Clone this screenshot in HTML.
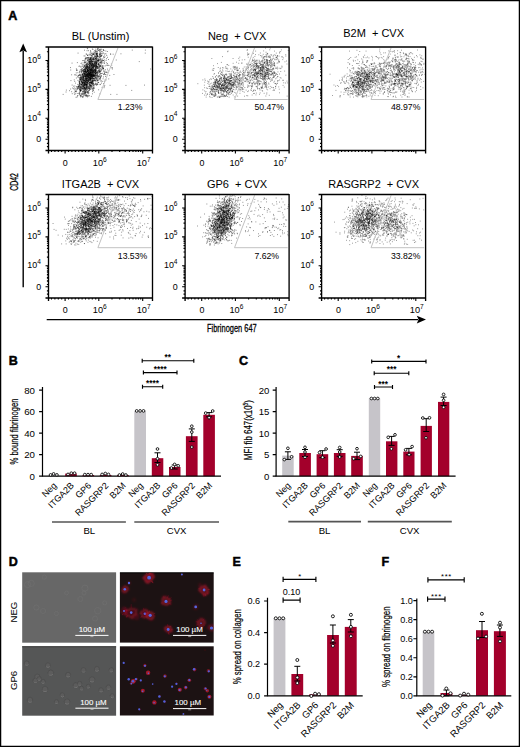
<!DOCTYPE html>
<html><head><meta charset="utf-8"><style>
html,body{margin:0;padding:0;background:#fff;overflow:hidden;width:520px;height:747px;}
svg{display:block;}
text{font-family:"Liberation Sans",sans-serif;fill:#000;}
</style></head><body>
<svg width="520" height="747" viewBox="0 0 520 747">
<rect x="0.6" y="0.6" width="518.8" height="745.8" fill="#fff" stroke="#000" stroke-width="1.3"/>
<text x="8.2" y="20.0" font-size="12.5" font-weight="bold" style="stroke:#000;stroke-width:.5">A</text>
<text x="8.799999999999999" y="365.0" font-size="12.5" font-weight="bold" style="stroke:#000;stroke-width:.5">B</text>
<text x="239.0" y="365.29999999999995" font-size="12.5" font-weight="bold" style="stroke:#000;stroke-width:.5">C</text>
<text x="8.799999999999999" y="566.0" font-size="12.5" font-weight="bold" style="stroke:#000;stroke-width:.5">D</text>
<text x="232.6" y="565.8" font-size="12.5" font-weight="bold" style="stroke:#000;stroke-width:.5">E</text>
<text x="381.59999999999997" y="566.1999999999999" font-size="12.5" font-weight="bold" style="stroke:#000;stroke-width:.5">F</text>
<text x="100.5" y="40.4" font-size="11" text-anchor="middle">BL (Unstim)</text>
<path d="M98.2 76.3h.9M91.8 69.7h.9M94.3 78.7h.9M86.5 84.3h.9M89.9 79.5h.9M78.8 82.7h.9M89.2 72.1h.9M95.5 56.6h.9M86.2 78.6h.9M77.6 77.1h.9M95.5 68.5h.9M89.5 68h.9M88.2 71h.9M84.1 83.9h.9M88.4 73h.9M94.4 65.2h.9M77.9 87.3h.9M83.5 77.1h.9M81.9 96.5h.9M84.1 88.9h.9M79.3 94.7h.9M86 74.9h.9M80.1 87h.9M90.5 69.6h.9M95.2 73h.9M84.2 73.6h.9M90.5 80.9h.9M87.4 72.9h.9M93.3 72.9h.9M76.2 89.2h.9M80 76h.9M79.5 82.8h.9M84 82.2h.9M93.1 59.6h.9M83.6 82h.9M89.8 73.6h.9M84.7 58.8h.9M88.9 80.9h.9M83 72.1h.9M87.2 70.6h.9M88.1 71.6h.9M78.9 86h.9M84.1 69.9h.9M91.6 54.9h.9M82.2 91.8h.9M96 63.5h.9M92.4 72.5h.9M82.3 79.2h.9M89.2 62.3h.9M85.8 88.3h.9M81.3 68.8h.9M97.4 68h.9M86.6 74.5h.9M89.4 63.4h.9M90.6 74.4h.9M96.9 66.6h.9M97.6 56.1h.9M90.8 82.9h.9M91 70.8h.9M92.5 80.6h.9M95.3 73.5h.9M83.6 87.2h.9M92.8 82.4h.9M89.3 75.6h.9M94.1 62.2h.9M91 57.6h.9M82.1 88.6h.9M89.1 83.9h.9M87 63h.9M88.8 79.2h.9M90.2 74.6h.9M86.1 54.2h.9M92.3 64.5h.9M90.7 78h.9M84.6 76.2h.9M88.7 76.2h.9M86.6 50.7h.9M90.3 79.3h.9M85.3 75.6h.9M94.8 70.1h.9M81.2 71.5h.9M91.5 76.5h.9M83.3 86.1h.9M92.8 74.4h.9M83.5 76.9h.9M92.3 57.8h.9M102 68.7h.9M85.9 72h.9M89.6 63.7h.9M86.8 76.7h.9M90.1 58.6h.9M94.5 75h.9M99.5 68.7h.9M80.5 87.5h.9M83.9 66h.9M86.6 95.4h.9M91.5 78h.9M90.2 85.8h.9M86.6 69.6h.9M79.8 80.9h.9M80.6 78.3h.9M94.6 72.1h.9M89 65.9h.9M98.3 78.8h.9M88.9 75.6h.9M90.1 63.4h.9M95.3 68h.9M92.3 88.5h.9M91.2 74.7h.9M84.6 70.6h.9M86.1 86.4h.9M96.5 72.1h.9M83.4 82.6h.9M90.8 60h.9M94.7 72.3h.9M90.5 72.1h.9M82.1 78.4h.9M87.4 73.8h.9M77 96h.9M85.5 87.2h.9M91.7 68.8h.9M96.4 63.9h.9M74.8 91.7h.9M94.7 64.5h.9M89.3 84.7h.9M95 64.3h.9M94.4 73.1h.9M80 90.8h.9M91.3 56.3h.9M100.1 57h.9M84.7 72.1h.9M79.2 72.8h.9M93.1 76.6h.9M81.9 83.7h.9M93.3 59.2h.9M81.1 77.3h.9M83.7 71.5h.9M80.9 80.8h.9M85.1 80h.9M85.1 89.1h.9M85.7 54h.9M91.9 76.1h.9M89 59.4h.9M85.1 71.1h.9M89.1 82.5h.9M87.7 76.8h.9M80.4 77.3h.9M97.3 75.9h.9M84.1 76.2h.9M89.1 77h.9M83.9 90.1h.9M91.7 85.1h.9M95.3 52.2h.9M90.6 82.8h.9M81.5 84.6h.9M95.8 70.7h.9M92.9 54.7h.9M81.2 90.1h.9M96.5 78.6h.9M87.9 81.2h.9M81.8 94.5h.9M102.3 67.7h.9M90.9 73.9h.9M86.4 70.8h.9M89.1 83.3h.9M86.7 65.6h.9M91.7 81.4h.9M93.9 76.7h.9M81.9 85.5h.9M81.2 86.7h.9M96.5 57.1h.9M87.2 79.2h.9M86.8 67.9h.9M91.7 74.3h.9M78.9 75.1h.9M85.3 78.5h.9M90.7 64.7h.9M86.9 76.2h.9M90.1 75.3h.9M84.4 70.7h.9M97.5 59.7h.9M91.9 64.5h.9M88.6 67.3h.9M81.1 77.6h.9M78.1 87.9h.9M95.4 62.1h.9M90 59.7h.9M89.1 74.8h.9M96.5 68.1h.9M97.5 65.2h.9M99.9 65.4h.9M92.5 61.3h.9M82.8 76.8h.9M100.8 56.3h.9M85 88.6h.9M98.2 64.4h.9M91.8 67h.9M98.6 64.3h.9M101.8 51.6h.9M99.4 56.1h.9M86.3 87.7h.9M83.3 94.1h.9M94.3 63.5h.9M85.7 85.7h.9M93.6 74.7h.9M91.3 62h.9M89.1 95.7h.9M94.8 71.4h.9M89.3 72.3h.9M87.3 75.6h.9M98.2 75.8h.9M84.2 82.9h.9M77.1 89.3h.9M85.7 73.9h.9M83.6 84.3h.9M90.9 96.4h.9M92.7 67.2h.9M93.1 75.3h.9M87.2 66.5h.9M86.4 85.6h.9M89.3 82.1h.9M92.4 88h.9M82.4 82.6h.9M92.9 71.6h.9M87.1 83h.9M86.9 67h.9M91 68.8h.9M97.8 48h.9M73.2 86.2h.9M96.2 63.2h.9M91.4 75h.9M87.6 72.5h.9M77.1 88.4h.9M93.6 81h.9M94.1 64.4h.9M93.4 75.6h.9M95.8 74.3h.9M86 75.7h.9M98.3 60.3h.9M88.4 72.9h.9M85.9 81.3h.9M80.3 96.9h.9M87.6 79.6h.9M95.1 56.6h.9M88.6 72h.9M85.5 87.8h.9M81.4 83h.9M92.7 58.5h.9M90 71h.9M87.3 71.5h.9M88.8 73.5h.9M87.1 71.5h.9M101.7 66.5h.9M97.7 68.4h.9M92.4 71.1h.9M84.4 85.6h.9M101.1 70.3h.9M87.7 81.8h.9M94.2 59.6h.9M84.9 88.9h.9M90.1 75.2h.9M95.4 75.4h.9M83.2 89h.9M106.3 55.5h.9M92.6 53.9h.9M90.3 79.7h.9M88.9 62h.9M98.9 71.3h.9M90.4 69.9h.9M93.1 75.2h.9M95.2 74h.9M79.8 84.3h.9M86.8 75.7h.9M82.8 72.9h.9M95.6 58.8h.9M90.6 68.8h.9M88 72.5h.9M93.7 53.3h.9M85.3 79.1h.9M84.6 76.5h.9M83.3 95.9h.9M103.2 56.4h.9M85.9 58.2h.9M93.3 61.7h.9M90.9 64.2h.9M92.1 72.5h.9M86.5 68.8h.9M87.7 75.8h.9M84.2 73.8h.9M92.7 73.5h.9M97 54.8h.9M91.4 66h.9M90.8 74.3h.9M85.8 79.6h.9M80 78.2h.9M99.5 54.5h.9M93.1 67.3h.9M89.2 71.9h.9M92 78.8h.9M89.5 88.4h.9M84.6 72h.9M90.3 61.1h.9M94.2 80.3h.9M94.4 78h.9M85.4 74.5h.9M85.1 69.8h.9M79.4 91.3h.9M86.3 75.1h.9M78.9 80.8h.9M93.8 62.3h.9M80.5 80.3h.9M87.1 64h.9M100.5 56h.9M85.2 75.7h.9M86.4 80.2h.9M93 71.7h.9M92.9 74.3h.9M83.5 84.5h.9M91.8 67.5h.9M95.6 79h.9M91.3 76.5h.9M80 83.9h.9M91 69.1h.9M86.7 89.3h.9M86.4 87.2h.9M103.1 60.4h.9M91 86.2h.9M92.3 59h.9M96.2 54.4h.9M85.3 67.8h.9M93.1 66.7h.9M99.2 49.5h.9M99.9 79.7h.9M87.1 80.4h.9M74.4 86h.9M86.9 71.4h.9M96.9 55.2h.9M88.7 59.3h.9M81.5 83h.9M84 82.8h.9M88.6 79.7h.9M90.2 69.2h.9M84.8 74.1h.9M93.8 71.7h.9M88.6 68.5h.9M86 75.8h.9M83.5 71.3h.9M87.2 69.2h.9M91.8 75.1h.9M85 64.3h.9M97.9 50.2h.9M95.3 67h.9M88.2 71.7h.9M82.7 93.9h.9M86.6 66.5h.9M87.6 91.9h.9M94.5 63h.9M85.4 61.6h.9M84.4 73.1h.9M85.6 95.3h.9M95 80.3h.9M87.6 81.7h.9M97.7 67.3h.9M89.7 70.1h.9M85.9 82.5h.9M85.8 87.9h.9M82.8 71.2h.9M92.6 76.7h.9M89.7 89.1h.9M85.2 69.7h.9M78.4 84.8h.9M96.2 60.1h.9M91.7 59h.9M84.6 56h.9M90.7 80.1h.9M92.6 67h.9M86.9 73.8h.9M96.6 81.1h.9M88.5 77.3h.9M80.3 87.6h.9M83.2 90.7h.9M88.8 61.7h.9M85.4 74.1h.9M92.1 71h.9M91.8 59.9h.9M79.5 93.3h.9M92.9 85.2h.9M93.9 72.3h.9M94.7 69.5h.9M90 78.4h.9M96.3 61.3h.9M96.6 72.8h.9M83.8 87.7h.9M93 87.3h.9M89.3 61.7h.9M90.6 67h.9M74.9 93.8h.9M94.3 56.1h.9M94.5 66.6h.9M101.9 59h.9M84.9 76.6h.9M88.1 76.6h.9M82.7 86.1h.9M83.7 73.2h.9M97.2 53.8h.9M79.2 78.1h.9M90.7 71.2h.9M81.8 93.3h.9M85 76.6h.9M89.8 59.4h.9M77.9 86h.9M102.4 63h.9M85.4 66.7h.9M91.2 88.2h.9M89.7 80.1h.9M85.8 78h.9M84.4 71.7h.9M91.4 81.2h.9M92.9 85.8h.9M84.2 75.2h.9M83.5 85h.9M87.9 90.3h.9M90.7 74.1h.9M102 65.5h.9M80 90.6h.9M91.8 73.8h.9M81.2 78.9h.9M93.8 88.2h.9M90.4 61.5h.9M77.8 75.7h.9M96 54.6h.9M85.3 82.2h.9M99.3 71.4h.9M87 75.2h.9M85.9 82.1h.9M94.7 66.8h.9M95.4 77.4h.9M92 65.6h.9M93.6 75.3h.9M86.6 87h.9M87.8 73.8h.9M90.1 72.5h.9M94.1 61.4h.9M81.4 82.5h.9M94.4 75.4h.9M75.7 91.7h.9M97.5 67h.9M88.5 87.7h.9M80.7 94.8h.9M86 72.5h.9M93.7 59.2h.9M84.4 92.3h.9M87.6 87.4h.9M87.2 82.5h.9M88.4 88.3h.9M88.9 67.5h.9M86.7 83.2h.9M79.5 79.2h.9M95.4 67.2h.9M86.6 82.4h.9M89.8 67.1h.9M89.9 86.7h.9M86.8 88.8h.9M69.1 90.7h.9M98.3 50.5h.9M81.9 74.5h.9M95.1 71.8h.9M99.8 77.4h.9M88.1 70.2h.9M90 72.5h.9M97.3 49.4h.9M86.1 86.2h.9M85 92.9h.9M90.2 87.4h.9M79.1 87.6h.9M99.6 66.5h.9M89.4 61.5h.9M86.2 85.1h.9M87.9 91.7h.9M90.8 78.5h.9M92 54.6h.9M90 65.9h.9M84.3 86h.9M99.2 62.2h.9M79.1 84h.9M90.1 77.2h.9M85 92.3h.9M87.3 85.8h.9M97.9 56.9h.9M99.7 65.5h.9M89.7 78.7h.9M89 84.9h.9M83 96.9h.9M95.2 80.7h.9M81.4 70.3h.9M94.5 76.1h.9M88 73.7h.9M83.1 86.2h.9M85.1 72.2h.9M81.5 70.5h.9M93.9 56.7h.9M95.3 49.2h.9M90.9 75.5h.9M79.7 79.9h.9M95.2 76.1h.9M87.8 80.8h.9M85 81.6h.9M86.2 72.6h.9M81.3 84.4h.9M87.6 63.8h.9M86.7 73.4h.9M90.7 70h.9M87.9 74.9h.9M80.2 79.5h.9M84 84.1h.9M84.6 74.4h.9M87.6 79.9h.9M98.4 73.2h.9M92.1 74.1h.9M81.8 89h.9M83 69.6h.9M77.3 87h.9M79.5 77.8h.9M91.2 77.7h.9M76.6 97h.9M90.2 72h.9M87.6 70.2h.9M89.1 75.1h.9M93.4 80.4h.9M84.9 76.4h.9M83.5 84.3h.9M84.9 75h.9M90.6 81.1h.9M85.6 70.2h.9M79.1 85.8h.9M84.8 67.9h.9M84.3 69h.9M90.8 75.5h.9M98.2 82.5h.9M87.9 64.7h.9M85.7 94.7h.9M92.7 67.8h.9M86 68.3h.9M89.7 69.1h.9M90.3 68h.9M83.6 79.8h.9M96.4 79.3h.9M84.5 62.2h.9M93.1 68.4h.9M91.9 71h.9M80 90.4h.9M92.6 66.7h.9M98.6 60.2h.9M94.8 61h.9M92.3 70.8h.9M85.2 93h.9M85.4 58.3h.9M95 77.2h.9M95.4 70h.9M86.8 92.7h.9M77.5 86.5h.9M86 80.5h.9M92 56.2h.9M85.3 76.6h.9M94.8 71.3h.9M94.3 50.5h.9M96.4 53.4h.9M81 71.2h.9M87.7 75.7h.9M84 88.4h.9M83.3 80.3h.9M88.5 66.7h.9M99.3 71.2h.9M84.9 69.7h.9M89.7 59.2h.9M82.5 81.1h.9M94.3 75.6h.9M101.7 67.5h.9M93.6 66.4h.9M91.5 58.8h.9M89.6 67.5h.9M92.5 78.5h.9M87.4 67.1h.9M90.9 87.5h.9M87.8 95.2h.9M92.5 66.1h.9M92 74.7h.9M94.1 70.5h.9M88.1 96.1h.9M83.4 75.7h.9M91.7 82.2h.9M83.9 82.9h.9M88.4 77.2h.9M92.8 61.8h.9M87.1 66.8h.9M80 77.7h.9M85.5 71.7h.9M99.1 66.2h.9M91.7 75.6h.9M97 68.3h.9M90.5 63.9h.9M97.1 52.2h.9M96 59.7h.9M86.4 67.5h.9M86.7 67.7h.9M93.6 63.6h.9M85.6 79h.9M84.8 71.8h.9M95.3 62.6h.9M97.5 48.8h.9M93 76.6h.9M89.3 73.6h.9M89.2 70.1h.9M96.3 56.9h.9M88.6 73.1h.9M93.5 54.1h.9M83.3 84.1h.9M91.8 76.5h.9M91.3 76.4h.9M98.6 65.5h.9M87.3 57.6h.9M80.8 90.7h.9M83.5 83.4h.9M91.8 69.2h.9M84.5 80.3h.9M80.3 90.6h.9M97.6 61.7h.9M92.5 67.3h.9M86.9 65.1h.9M92.9 80.9h.9M98.5 62.1h.9M86 75h.9M98.1 61h.9M82.2 82.9h.9M90.2 85.2h.9M89.5 70.2h.9M82.9 80.2h.9M91.1 64.2h.9M87.5 68.6h.9M86 84.5h.9M90.6 72.4h.9M88 77.3h.9M91.4 61h.9M71.2 74.8h.9M87.8 78.5h.9M87.2 55.2h.9M103.6 50.6h.9M90.9 72.7h.9M88.9 69.7h.9M95.9 54.1h.9M88.4 74.3h.9M82.6 84h.9M87.6 70.6h.9M87.7 66h.9M90.6 85h.9M81.8 93h.9M86.8 92h.9M91.5 64.5h.9M86.3 82.3h.9M88.1 74.4h.9M92.4 71.2h.9M95.9 66.8h.9M88.9 77.5h.9M89 65.9h.9M82.1 82.5h.9M94.8 80.1h.9M83.6 85h.9M93.5 58.8h.9M95.5 75.7h.9M90.6 83.7h.9M90.1 78.1h.9M86.8 75h.9M102.6 68.3h.9M83.7 93h.9M87 86.5h.9M87 77.3h.9M88.3 59.2h.9M90.7 75h.9M94.5 65h.9M83.5 73.9h.9M81.7 75.1h.9M93.8 57.8h.9M85.7 64.7h.9M96.4 66.3h.9M92 81h.9M110.3 54.2h.9M101.2 53.7h.9M89.6 65.2h.9M89 63.3h.9M65.6 92h.9M90 64.3h.9M87.9 75.1h.9M95.6 69.3h.9M95.2 65.7h.9M90.4 78.1h.9M82.5 93.9h.9M94 69.6h.9M92.1 84.3h.9M83.5 75.3h.9M84.8 79.6h.9M82.1 74.9h.9M100.6 60.3h.9M93.8 71.1h.9M89.6 57.6h.9M99.5 49.3h.9M88.6 72.3h.9M81.4 95h.9M84.5 83.5h.9M86.1 88.5h.9M85.5 78.5h.9M93.5 73.4h.9M89.9 68.4h.9M82 91.2h.9M89 68.7h.9M92.4 75.6h.9M86.9 76.4h.9M90.4 74.4h.9M85.3 78.9h.9M80.4 78h.9M85.5 94.9h.9M84.9 71.7h.9M101 51.7h.9M100.5 49.6h.9M88.7 54.3h.9M88.8 62.9h.9M84.2 80.4h.9M92.8 54.2h.9M84.3 71.8h.9M92.3 75h.9M87.1 76.1h.9M91.5 72.5h.9M85.7 77.6h.9M90.4 74.5h.9M81.3 85h.9M87.6 77.5h.9M89.4 73.9h.9M86.5 75.2h.9M87.4 64.8h.9M93.5 64.7h.9M85.8 87.1h.9M87.4 75.1h.9M90.5 60.6h.9M93 70.6h.9M100.5 75.5h.9M95.5 53.7h.9M87.8 81.8h.9M91.5 72.6h.9M76.3 75.2h.9M97 55.1h.9M77.4 95.5h.9M92.2 83.4h.9M86 79h.9M89.3 63.7h.9M91.4 65.3h.9M96.7 56.3h.9M79.8 91.2h.9M92.8 63.8h.9M82.4 74.4h.9M85.5 80.7h.9M95.3 67.7h.9M93.5 87.3h.9M88.9 77.9h.9M87.5 93.1h.9M90.8 82.5h.9M98.2 71.2h.9M95.5 71h.9M96.4 53.6h.9M89.7 75.8h.9M83.1 91.9h.9M87.2 82.7h.9M86.1 84.5h.9M80.5 86.5h.9M82.7 64.3h.9M83.7 79.7h.9M71.8 93.7h.9M93 64.7h.9M89 74.4h.9M84.1 66h.9M92.9 72.8h.9M96.1 66.7h.9M90.1 72.7h.9M102.3 60.7h.9M99.3 70.9h.9M86.3 66.3h.9M95.8 69.7h.9M84.6 91.4h.9M90.5 75.7h.9M92.2 77.7h.9M87.4 69.3h.9M80.7 88.5h.9M93.6 51.8h.9M86.8 70.5h.9M83.4 87.5h.9M75.4 91.4h.9M83.8 74.7h.9M91.5 75h.9M85.9 81.6h.9M91.5 72.5h.9M78.6 77.7h.9M88.8 65h.9M83.8 80.9h.9M89.5 73.5h.9M91.6 60.2h.9M84.6 85.1h.9M87.4 78.7h.9M85.6 83.2h.9M96.1 64.6h.9M82.2 86.2h.9M92 80.7h.9M91.3 74.1h.9M85.6 85.1h.9M85.2 84.7h.9M89.5 79.6h.9M86.7 92.1h.9M89.2 78.6h.9M93.9 72.6h.9M89.1 75.4h.9M86.5 96.5h.9M87.2 78.6h.9M84.5 60h.9M97.7 68.4h.9M89.6 74.1h.9M80.4 81.9h.9M91.6 65h.9M83.1 78.6h.9M92.9 90.6h.9M87.9 83.5h.9M89.7 52.9h.9M92.8 71.2h.9M93.2 58.3h.9M95.3 81.9h.9M89.4 59.9h.9M77.3 76.7h.9M89 75h.9M91.3 63h.9M78.2 75.6h.9M90.9 74.7h.9M98 71.7h.9M87.1 55.2h.9M92.1 80.8h.9M79 93.2h.9M98.1 80.2h.9M91.4 73.5h.9M89.2 71.4h.9M100.3 58.8h.9M93.2 70h.9M90.8 62.2h.9M87.4 87.5h.9M91.4 61.6h.9M101.6 66.9h.9M89.2 69.4h.9M87.7 70.1h.9M99.2 51.9h.9M78.6 81.7h.9M83.3 72.2h.9M89.5 66.6h.9M90.8 63.1h.9M87.8 78.4h.9M95.6 71.1h.9M86.2 75.6h.9M92.1 72.3h.9M91.4 75.6h.9M79.6 85.1h.9M90.4 73.6h.9M89.6 60.8h.9M89.5 86.5h.9M90.3 76.7h.9M92.7 65h.9M78.9 83.8h.9M90.8 71h.9M81.3 84.6h.9M97.8 60.4h.9M92.4 77.2h.9M96 65.2h.9M87.6 70.6h.9M94.9 73.6h.9M95.5 53.7h.9M82.1 88.5h.9M94.9 60.4h.9M86.1 72.4h.9M94.2 55.2h.9M89.7 70.5h.9M92.8 83.6h.9M97.1 72.1h.9M91.8 63.7h.9M96.4 75.2h.9M91.6 67h.9M88.7 79.9h.9M94.9 62.5h.9M102.9 68.4h.9M91.2 71.6h.9M84.8 70.2h.9M99.8 62.5h.9M85.6 77.9h.9M84.9 81.1h.9M76.1 70.5h.9M99.2 60.2h.9M86.5 91.2h.9M98.4 59.8h.9M90.6 82.3h.9M91.5 89.1h.9M95.2 57.6h.9M93 75.7h.9M80.3 87.6h.9M86.3 76.8h.9M98.3 63.4h.9M96.7 59.2h.9M81.9 76h.9M92.9 68.7h.9M92.1 64h.9M83.1 79.5h.9M93 69.4h.9M87.7 72.7h.9M80.4 77h.9M82.5 77.2h.9M97.2 75h.9M83.3 70.2h.9M87.8 80.2h.9M90.1 79.2h.9M97.4 60.5h.9M85.3 68.4h.9M92.3 61.7h.9M95.7 58.6h.9M95.6 67.1h.9M80.8 81.1h.9M97.5 64.8h.9M92.7 78.6h.9M99.7 51.1h.9M94.9 51.4h.9M82.1 97.4h.9M85.4 84.9h.9M96.1 66.3h.9M87.9 61.4h.9M93.4 64.2h.9M88.5 73.6h.9M87 65.7h.9M93.4 65.4h.9M89.3 74h.9M92.6 59.9h.9M86.5 63h.9M84.5 85.5h.9M95.8 62.1h.9M89.6 76.2h.9M89.9 85.5h.9M86.2 66.5h.9M78.9 81.6h.9M86.3 84.5h.9M84.1 92.8h.9M98.3 76.7h.9M94.4 68h.9M90.6 59.2h.9M92.2 76h.9M90.8 58.9h.9M83.3 70.4h.9M100 78.3h.9M93.5 66.6h.9M97.4 61.3h.9M90.3 78.1h.9M96 78.9h.9M89.9 75.4h.9M95 74h.9M81 82.3h.9M88.4 58.3h.9M93.6 80.2h.9M97.9 69.8h.9M87.8 83.8h.9M92.1 69h.9M92 68.5h.9M84.6 77h.9M105.4 51h.9M94 69.6h.9M99.9 52.3h.9M95.5 62h.9M90.8 82.7h.9M89.8 78.5h.9M94.7 68.9h.9M84.9 70.4h.9M91.9 73.2h.9M97.4 80h.9M78.9 94.1h.9M87.9 75.5h.9M95.3 70h.9M88.7 82.8h.9M79.4 79.1h.9M90.6 76.5h.9M85.8 67.8h.9M79.4 89h.9M83.7 95.1h.9M83.3 85.5h.9M98.2 89.8h.9M100.2 54.9h.9M87.6 87h.9M88.8 63.6h.9M80.4 88.6h.9M86.4 67.7h.9M85.8 76h.9M84.6 72h.9M89.4 65h.9M96.8 51.3h.9M86.2 69h.9M84.1 69.2h.9M79.2 82.6h.9M94.1 66.7h.9M88.6 76.1h.9M97.7 64.6h.9M93.7 75.2h.9M96.2 51.3h.9M82.1 74.3h.9M103.2 66h.9M92.9 79.2h.9M84.9 82.3h.9M83.4 74.4h.9M84.7 90.4h.9M82.2 68.5h.9M98 60.3h.9M84.7 86.6h.9M83.4 82.8h.9M91.6 79.4h.9M89.8 59.1h.9M86.9 83.4h.9M84.2 80.6h.9M90.1 60.9h.9M95.5 63.3h.9M83.6 75.9h.9M92.3 89.6h.9M79.8 90.9h.9M94.6 84.7h.9M95.5 64.9h.9M81.5 78.7h.9M86.1 65h.9M98.9 50.6h.9M97.8 59.9h.9M78.8 84.9h.9M98.5 64.4h.9M91.5 57.7h.9M86.6 82.3h.9M86.7 85.2h.9M91.5 75.3h.9M74.5 89.5h.9M103.2 57.8h.9M82.6 85.7h.9M83.9 74.6h.9M81.3 73h.9M84.6 68.8h.9M93.1 70.6h.9M87.1 75h.9M90 57.4h.9M96.1 75.5h.9M84.8 81.1h.9M87.7 70.4h.9M96.2 72.5h.9M87.2 84.8h.9M86.7 80.9h.9M90.6 62.4h.9M84.6 66.3h.9M81.4 79.4h.9M84.2 91.3h.9M93.2 70.2h.9M94.1 63.8h.9M86.3 68.7h.9M79.5 72.1h.9M84.8 78.7h.9M84.5 74h.9M84.2 78.6h.9M91.8 63.5h.9M82.4 75.8h.9M82.8 76.6h.9M83.5 87.4h.9M89.8 73.8h.9M82.6 82.8h.9M90.8 76h.9M93.4 60h.9M86.9 66.9h.9M92 66.9h.9M99.1 71.7h.9M86.9 71.2h.9M93.8 76.4h.9M93.9 79h.9M99.3 66.2h.9M81 84.8h.9M104.2 60h.9M90.1 72.8h.9M84.9 81.7h.9M86.3 78.6h.9M88.9 82.2h.9M90.5 71.1h.9M85.4 81.4h.9M100.2 61.2h.9M82.8 81.3h.9M89.4 83.2h.9M93.9 75.2h.9M89.9 58.4h.9M97.1 66.9h.9M85.3 90h.9M93.4 85.1h.9M92.5 49.4h.9M91.9 69.5h.9M88.4 72.5h.9M87.7 57.6h.9M100.3 59.1h.9M88.2 70.6h.9M88.1 67.5h.9M96 66.9h.9M90.8 82h.9M88.7 87.4h.9M86.4 71.1h.9M84.8 84.4h.9M93.5 75.4h.9M87.2 70.8h.9M89 84.7h.9M95.5 77h.9M83.9 73.1h.9M80.6 63.5h.9M88.3 58h.9M83 77.3h.9M85.1 82.7h.9M84.4 93.9h.9M84.6 84h.9M89.1 65.4h.9M90.4 72.7h.9M80.7 83.8h.9M87.6 77.4h.9M87 71.6h.9M103.1 71.2h.9M90.2 81.5h.9M84.8 74.7h.9M76.8 93.5h.9M82.3 86.3h.9M90.1 50.7h.9M84.8 75.9h.9M94.2 71.8h.9M86 76.9h.9M82.4 81.5h.9M83.6 71.6h.9M84.5 71.2h.9M88.8 73.9h.9M79.8 95.4h.9M93.6 76.6h.9M82.9 82.4h.9M91.4 81.4h.9M91.6 70.7h.9M92.5 65.2h.9M85.2 58.9h.9M81.8 76.9h.9M96.9 63h.9M100.8 61h.9M95.7 59.5h.9M99.2 57.4h.9M87.1 74.1h.9M87.1 74.5h.9M90.6 61.9h.9M87.2 91.2h.9M91.9 71h.9M86 79.1h.9M86.4 76.9h.9M83.7 95h.9M86.7 84.3h.9M85.9 71.9h.9M100.8 65h.9M95.2 61.4h.9M89.2 74h.9M94.8 77.7h.9M89.9 84.7h.9M91 68h.9M90.6 76.9h.9M87.8 63.9h.9M95 50.7h.9M79.9 69.7h.9M87.7 93.1h.9M77.5 80.4h.9M85.6 91.8h.9M80.4 86.2h.9M91.5 55.6h.9M89.7 69.9h.9M83.5 91.9h.9M95.1 66.1h.9M102.8 60.6h.9M89.3 77.9h.9M90.1 82.6h.9M85.4 76.1h.9M93.8 70.7h.9M93.1 65.5h.9M93.1 57.9h.9M94.7 58.1h.9M94.8 58.5h.9M96.6 56.8h.9M94.3 65.6h.9M80.2 90.8h.9M85.8 73.4h.9M94.1 70.4h.9M80.6 74.9h.9M91.1 60.9h.9M94.3 79.9h.9M73.8 79.9h.9M93.3 54.4h.9M95.5 66h.9M83.6 67.7h.9M104.7 65.9h.9M83.6 55.9h.9M97.1 71.2h.9M90.2 82.7h.9M86.4 78.2h.9M86.4 85.5h.9M86.7 69.1h.9M98.5 59.8h.9M82.5 77.1h.9M83.1 86.3h.9M103.1 50h.9M82.7 76.7h.9M82.2 87.4h.9M91.3 70.4h.9M85.8 65.7h.9M91.1 83.4h.9M94.6 64h.9M80.9 76.5h.9M85 84.1h.9M87.1 69.6h.9M90.3 62.6h.9M86.9 80.8h.9M88.1 67.8h.9M93.1 75.7h.9M90.3 83.2h.9M95.8 56.1h.9M92.9 75h.9M86.6 73.7h.9M90.7 63.4h.9M88.8 60.3h.9M97.8 58.6h.9M95 70.5h.9M95.6 83.7h.9M92.4 81.6h.9M92.9 67.2h.9M91.3 65.6h.9M97.6 56.7h.9M91.3 67.9h.9M100.6 62.5h.9M100.5 56.1h.9M86.8 69.7h.9M79.7 89.9h.9M89.8 89.5h.9M84.1 90.9h.9M95.9 53.3h.9M90.5 85.2h.9M93.6 57.4h.9M91.1 65.4h.9M95.6 51.4h.9M85.9 57.7h.9M92.7 75.6h.9M83.5 73.5h.9M87.5 71h.9M87.2 69.7h.9M90.1 80.6h.9M89.1 73.3h.9M97.1 53.5h.9M74.5 90.9h.9M90.3 69.7h.9M79.1 81.6h.9M91.7 71.2h.9M95 63.4h.9M89.2 73.7h.9M101.7 66.9h.9M84.3 93.1h.9M97.2 60.5h.9M87.3 80.5h.9M91.6 65.1h.9M94.4 72.3h.9M80.5 80.1h.9M95 72h.9M98.9 55h.9M94.9 71.1h.9M92.7 70.6h.9M77.7 88.1h.9M91.2 53.7h.9M105.6 54h.9M90.7 73.1h.9M82.5 73.4h.9M83.4 93.2h.9M92.1 61.7h.9M83.2 60.6h.9M88.7 55.1h.9M93.2 66.9h.9M84.7 84.9h.9M94.7 56.4h.9M84.9 88.4h.9M91 76.5h.9M82 66.2h.9M92.3 61.8h.9M88 66.6h.9M86.1 66.3h.9M83.7 81.4h.9M83 88.5h.9M88.7 71.8h.9M80.1 79.3h.9M81.4 88.1h.9M92.1 91.6h.9M82.8 77.2h.9M73.8 92.8h.9M84.4 89.8h.9M84.4 93.8h.9M92.3 71.5h.9M86.7 66.2h.9M103 50.2h.9M79.2 89.9h.9M81.6 79.4h.9M91.2 60.9h.9M88 75.5h.9M91 78.1h.9M100.1 53.3h.9M87.8 77.1h.9M88 88.5h.9M83.7 89.1h.9M94.8 70.4h.9M85 67h.9M76.5 87.1h.9M88.2 86.2h.9M86.2 64.3h.9M90.9 65.5h.9M86.1 80.6h.9M90.3 64.7h.9M90.3 65.3h.9M87 96.9h.9M77.4 72.7h.9M95.1 69.4h.9M96.5 83.7h.9M88.1 76.4h.9M96.1 65h.9M104.5 56.8h.9M83.5 86.4h.9M96.3 62.3h.9M95.9 58.3h.9M96.9 62.1h.9M88.4 70.5h.9M84.3 87.2h.9M89.6 64.3h.9M83.4 80.6h.9M87.9 62.5h.9M104.6 53.5h.9M84.7 83.8h.9M90.5 53h.9M101.5 55.5h.9M93.6 52.9h.9M91.5 74.1h.9M83.8 87.6h.9M89.7 75.6h.9M79.2 92.7h.9M90.1 72h.9M93.4 88.3h.9M79.3 71.4h.9M89.3 74.4h.9M100.3 50.3h.9M91.1 55.6h.9M83.5 71.3h.9M104.2 61.8h.9M84.3 81.9h.9M96.7 80.4h.9M96 62.8h.9M84 88.2h.9M90.2 77.2h.9M86 90.1h.9M95 73.5h.9M98.9 53.9h.9M86.6 82.4h.9M91.3 70.5h.9M91 86.1h.9M87.6 88.3h.9M79.5 86.4h.9M93.6 54.3h.9M89.1 66.1h.9M84.6 81.1h.9M88.8 62.9h.9M86.8 76.6h.9M95 64h.9M95 71.1h.9M90.8 69.6h.9M101 69h.9M86.5 79.9h.9M101 83.1h.9M85.7 95.5h.9M89.5 79.2h.9M80.8 89.5h.9M77 70.2h.9M84.4 84.4h.9M90.7 72.1h.9M99.7 70.6h.9M77.1 88h.9M93.7 85.9h.9M84 84h.9M96 65.1h.9M86.8 48.2h.9M94.1 62.9h.9M86.4 76.7h.9M99.2 56.3h.9M82.8 91.5h.9M91.7 53h.9M90.4 82.5h.9M101.1 55.5h.9M89.3 87.3h.9M90.2 70.9h.9M82.8 73.4h.9M84.2 69.5h.9M88.3 93.2h.9M89.3 82.4h.9M92.1 67.5h.9M88.7 69.6h.9M95.2 58.5h.9M90 72.1h.9M83.2 80.6h.9M99.8 73.3h.9M81.5 96.6h.9M81.1 87.2h.9M90.2 54.8h.9M82.1 83.3h.9M95 67.7h.9M92.4 75h.9M83.7 85.3h.9M88.1 77.3h.9M85.8 78.7h.9M82.6 77.1h.9M98.5 66h.9M94.1 65.7h.9M97.2 84h.9M82.1 82.8h.9M90.2 69.4h.9M92.7 75.6h.9M93.3 60.1h.9M89.4 61.2h.9M89.8 73.6h.9M90.1 75.6h.9M85.1 83.2h.9M89.5 85.6h.9M89 86.8h.9M89 78.3h.9M87.6 78.2h.9M91.9 63.6h.9M90 78.7h.9M92.4 76.9h.9M84.1 87.9h.9M99.1 53.8h.9M90.5 66.3h.9M91.9 49h.9M89 61.7h.9M99.7 56.2h.9M90.2 76.7h.9M99.5 66.9h.9M87.4 89.2h.9M100.5 60.9h.9M101.6 54h.9M88.9 66.9h.9M92.3 63.4h.9M96 57.7h.9M82.2 79.5h.9M93.4 68.7h.9M89.7 85.4h.9M84.3 80.6h.9M94.8 83.8h.9M87.6 74.3h.9M89.3 70.9h.9M90.7 67h.9M79.8 89.5h.9M100.7 49.1h.9M95.1 58.7h.9M99.9 66.7h.9M90.3 78.4h.9M91.3 75h.9M91.2 65.8h.9M85.5 65.6h.9M81.1 93.7h.9M89.5 62.4h.9M80.6 95.9h.9M101.2 63.3h.9M94.4 69.6h.9M92.5 75.7h.9M97 56.3h.9M84.7 88.1h.9M93 72h.9M100.4 56.3h.9M85.6 74.3h.9M89.6 79h.9M101.1 75.8h.9M87 78.4h.9M95.8 53.3h.9M82.2 83.2h.9M87.6 59.8h.9M88.5 90.5h.9M93 64.8h.9M90.3 74.8h.9M100 77.1h.9M80.7 84.9h.9M91.8 80.2h.9M99.5 54.8h.9M85.8 87.6h.9M86.4 87h.9M96.3 55h.9M96.7 74.1h.9M99.5 54.8h.9M92.5 69.5h.9M90.5 86h.9M93 75.3h.9M97.3 58.4h.9M95.4 61.8h.9M96.9 75.8h.9M91.9 73.2h.9M88.6 74.3h.9M83.1 78.8h.9M97.3 48.3h.9M85.1 71.2h.9M84.5 87.3h.9M88.3 79.4h.9M84.4 60.6h.9M92.7 65h.9M91.6 75.8h.9M87 81.6h.9M85.6 71.2h.9M86.8 95.9h.9M80.4 88.1h.9M88.2 61.1h.9M82.7 77.2h.9M91.2 68.3h.9M99.5 59.4h.9M97.5 66.8h.9M90.5 73.1h.9M89.9 63.6h.9M84 76h.9M92.3 63.6h.9M84 65.1h.9M85.9 83.9h.9M92.6 73.1h.9M88.1 74.8h.9M84.7 73.6h.9M82 74.2h.9M84.7 77.4h.9M86.5 95.4h.9M92.1 79.1h.9M87.4 72.8h.9M95 73.7h.9M82.7 86.6h.9M98.9 67.5h.9M85.7 88.9h.9M86.5 75.1h.9M99.1 58h.9M82.9 80.4h.9M83.1 77.9h.9M88.5 57.3h.9M88.7 78.2h.9M87.9 76.6h.9M90.2 70.1h.9M92.8 59.3h.9M83.8 82.6h.9M81.6 84.4h.9M89.5 88.5h.9M91.4 85.9h.9M86.9 84h.9M83.6 66.4h.9M82.7 83.1h.9M92.7 72.5h.9M91.5 68h.9M92.5 84.6h.9M84.4 69.2h.9M100.2 53.7h.9M88.4 68h.9M92 83.1h.9M88.9 73.7h.9M89.5 86h.9M88.1 68.6h.9M87.7 60h.9M80.9 81.4h.9M86 74.6h.9M90.5 57.5h.9M92.2 81.1h.9M96 72.8h.9M85.8 86.1h.9M81.3 81.5h.9M86.6 79.2h.9M93.7 80.3h.9M88.4 79.9h.9M88.9 80.6h.9M87 74.4h.9M84.1 61.8h.9M87.1 69.5h.9M80.2 90.1h.9M87.8 69.2h.9M90.2 74.5h.9M75 83.1h.9M90.5 82.4h.9M96 53.1h.9M85.5 89.6h.9M78.2 86.2h.9M89.6 79.5h.9M79.1 83h.9M91.4 83.4h.9M97.7 70.4h.9M102.8 53h.9M91.5 76.8h.9M70 67.6h.9M92.5 78.3h.9M84.7 76.9h.9M86.3 80h.9M91 60.2h.9M75.9 78h.9M83.3 75.4h.9M91.8 76.7h.9M97.3 77.1h.9M82.5 75.8h.9M87 58.7h.9M96.9 78.8h.9M82.7 70.3h.9M100.8 80.9h.9M82.4 89.2h.9M77.3 84.4h.9M88.3 92.2h.9M99.6 76.6h.9M74.3 81.4h.9M92 93.8h.9M86.9 71h.9M100 71.4h.9M91 75.8h.9M93 78.8h.9M106.9 65.3h.9M99.1 78.3h.9M88.8 85.2h.9M78.3 88.7h.9M85 75.6h.9M86.6 61.1h.9M80 89.3h.9M70.3 70h.9M90.7 70h.9M99.5 93.9h.9M92.2 77.6h.9M87.9 64.6h.9M91.6 75.3h.9M73 88.8h.9M85.8 67.8h.9M75.9 68.8h.9M99.3 72.4h.9M97.5 60.6h.9M85.3 57.9h.9M89.3 69.1h.9M95.4 73h.9M84.8 91.6h.9M89.3 77.8h.9M83.1 69.8h.9M81.2 79h.9M88.6 73.9h.9M89.1 88.9h.9M90.3 51.4h.9M92.9 83.3h.9M83.6 67.1h.9M93.3 81h.9M95.9 57.9h.9M95.6 71.1h.9M99.3 78.3h.9M90.8 79.9h.9M93.2 75.2h.9M76.1 86.7h.9M86.6 63.8h.9M87.9 86.6h.9M100.4 71.4h.9M97.3 76.7h.9M108.5 65.5h.9M89.4 76h.9M94.3 61.2h.9M89.1 90.4h.9M90.9 66.5h.9M85.9 78h.9M81.7 69.7h.9M94.4 76.5h.9M85.5 59.2h.9M80 66.9h.9M87.3 55.5h.9M71.7 85.1h.9M75.6 97.3h.9M104 55h.9M75.3 91h.9M88.6 73.6h.9M81.5 81.3h.9M62.7 94.4h.9M87.7 80.5h.9M93.9 66.8h.9M79.3 74.8h.9M96.3 63.3h.9M80.4 78.1h.9M81 72.4h.9M85.5 80.4h.9M84.9 68.5h.9M112.7 54.2h.9M79.3 66h.9M93.4 74.1h.9M90.6 86.1h.9M70.5 80.6h.9M84 50.2h.9M85.2 92h.9M79.4 86.6h.9M89.5 77.3h.9M92.7 83.8h.9M71.6 63.1h.9M92.7 65.5h.9M75.4 88.4h.9M86.1 84.8h.9M91.3 69.5h.9M87.2 48.7h.9M93.8 92.2h.9M98.3 63.5h.9M88 50.7h.9M83 78.7h.9M92.6 53.6h.9M79.1 75h.9M96.4 60.4h.9M88.8 76.2h.9M87.9 81.2h.9M81.8 80.1h.9M103.9 57.6h.9M96.4 55.4h.9M78.3 86.5h.9M96.7 50h.9M91.8 82.6h.9M78.2 93.3h.9M85.9 74.3h.9M82.6 74.9h.9M91.3 78h.9M82 80.6h.9M81.9 77.8h.9M80.2 79.5h.9M92.9 71.7h.9M79.6 85h.9M75 74.9h.9M90.8 78.6h.9M89.9 55h.9M91.8 70.7h.9M89.4 77.5h.9M98.2 70.5h.9M96.5 71.9h.9M89.6 58.3h.9M89.1 67.5h.9M105.7 60.4h.9M90.2 76.7h.9M94.4 84.3h.9M90.2 61.8h.9M76.9 62.6h.9M97 80.2h.9M80.2 95.9h.9M89.7 70.3h.9M95.9 65.8h.9M95.3 65.1h.9M70.2 89h.9M100.2 63.2h.9M81.2 81.2h.9M86.5 68.4h.9M101 73.5h.9M89.2 88.5h.9M82.1 82.4h.9M83.6 88.2h.9M89.3 68.7h.9M79.7 71h.9M87.2 60.2h.9M81.2 66.9h.9M85.5 84.4h.9M94.7 72.2h.9M92.1 83h.9M86 64.6h.9M90.7 71.2h.9M85.8 90.2h.9M84.2 73.7h.9M86.8 73.9h.9M99.7 84.6h.9M93.7 63h.9M102.5 53.2h.9M82.7 79.1h.9M85.9 80h.9M86.6 76.7h.9M92.9 84.1h.9M96.9 74h.9M95.2 68.4h.9M83.9 85.4h.9M81.6 78.7h.9M81.3 88.1h.9M95.6 65.9h.9M74.2 94.3h.9M91.9 81.7h.9M76.1 69.8h.9M83.4 65.9h.9M75.8 72.9h.9M72.2 88h.9M94.7 78.3h.9M88.4 68.8h.9M83.4 89.9h.9M96.9 73.1h.9M102.4 60.7h.9M90 58.8h.9M84.8 89.6h.9M96.1 61.1h.9M81.5 62.9h.9M86.1 63.2h.9M82.1 87h.9M85.2 92.9h.9M85.5 73h.9M87.2 73.3h.9M89.2 89.4h.9M97.5 76.6h.9M96 67.9h.9M97 75h.9M79.3 88.5h.9M88.2 79.4h.9M86.4 71.9h.9M82.8 77.4h.9M96 85.1h.9M82.5 84.2h.9M85 62.6h.9M90.4 77h.9M100.2 77.9h.9M82.8 88.8h.9M92.2 86.8h.9M85.5 71.6h.9M78.9 87.8h.9M76.2 90.9h.9M84.8 79.2h.9M106 62.8h.9M81 69.4h.9M106 58.7h.9M80.2 74.3h.9M84.3 78.8h.9M85.5 96.6h.9M88.5 84.7h.9M97.1 55.6h.9M78.5 66.3h.9M93.8 65.6h.9M84.6 62.6h.9M104.2 81.6h.9M85 77.3h.9M89.4 73.8h.9M83.6 62.7h.9M86.8 67.4h.9M81.7 64.9h.9M94.7 75.3h.9M81.6 85.1h.9M89.8 80.1h.9M78 86.5h.9M89.6 59.7h.9M80 75.6h.9M88.3 80.8h.9M73.9 88h.9M84.5 74.1h.9M100.4 59.2h.9M81.3 75.2h.9M96.5 68.6h.9M83.6 71.9h.9M95.2 84h.9M84.8 72.8h.9M83.2 82h.9M79.4 79.8h.9M90.9 70.2h.9M97.2 72.2h.9M82.2 60.6h.9M94.3 75.3h.9M71.2 91.7h.9M84.7 65.4h.9M74.2 74.8h.9M99.7 84.3h.9M79.9 95.9h.9M86 83.6h.9M79.2 83.5h.9M94.3 78.2h.9M65.9 90.1h.9M87.9 74.4h.9M102.6 78.8h.9M79 89.7h.9M84.3 83.8h.9M87.3 88.7h.9M87.1 60.3h.9M91.9 82.2h.9M87.6 82h.9M89.8 62.3h.9M86.2 84.6h.9M88.6 73.2h.9M92.5 90.5h.9M102.7 49.7h.9M90.8 61.6h.9M77.6 53.1h.9M85 95.4h.9M86.5 92.3h.9M87.3 57.6h.9M85.5 84.3h.9M97.6 82.3h.9M100.7 62.7h.9M104.3 85.4h.9M105.6 79.9h.9M104.2 72h.9M101.7 60.1h.9M102.2 73.3h.9M103 74.6h.9M89.6 71.5h.9M108 59.5h.9M107.6 65.2h.9M99.4 72.5h.9M101.7 87.4h.9M102.3 81.4h.9M96.1 63.6h.9M96 77.1h.9M97.5 61.1h.9M103.6 70.2h.9M94.6 65.7h.9M107 69.1h.9M103.1 68.5h.9M100.5 81.1h.9M96.2 73h.9M103.8 86.6h.9M95.3 74.1h.9M111.6 67.5h.9M100.4 73.7h.9M98.9 79.7h.9M103.6 87.7h.9M103 68h.9M111.6 68h.9M95.8 54.9h.9M104 73.6h.9M101.7 62h.9M93 78.6h.9M99.3 69.7h.9M97.6 77.5h.9M109.3 75.4h.9M90.6 58.7h.9M103.6 62.8h.9M89.7 76.2h.9M111.3 65.2h.9M93.8 73.2h.9M96.7 80.6h.9M95.3 70.9h.9M96 84.7h.9M104.7 74.5h.9M97.4 67.4h.9M97.9 72.7h.9M92.3 61.8h.9M98.9 74.5h.9M103.7 74h.9M88.7 80.3h.9M105.5 74.6h.9M82.1 70.4h.9M85.3 68h.9M89.7 66.9h.9M96.4 67.8h.9M91.2 83.9h.9M91 82.9h.9M96.7 73.1h.9M105 69.8h.9M97.3 66.5h.9M94.9 59.6h.9M96.8 56.5h.9M113.5 74.5h.9M84.2 62.9h.9M92.8 78.4h.9M103.1 83.5h.9M99.3 76.3h.9M94.7 66h.9M99.5 69.3h.9M103.8 74h.9M105.1 76.4h.9M95.9 62.9h.9M104 72h.9M101.4 69.6h.9M106.6 72.5h.9M104.5 80.1h.9M91.8 77.8h.9M91.9 62.1h.9M102.8 69.1h.9M108.3 78.9h.9M100.8 76.6h.9M110.1 54h.9M109.6 85.3h.9M91.2 69.1h.9M105.2 72.1h.9M89.8 78h.9M99.3 70.3h.9M107.1 57.3h.9M111.9 69h.9M95.7 62.8h.9M97.9 64.5h.9M89.3 64.6h.9M105.8 65.2h.9M95 70.6h.9M99.2 75.8h.9M92.5 66.4h.9M100.4 62.7h.9M106.3 72.1h.9M100.5 65.1h.9M93.2 89h.9M107.1 63.6h.9M106.9 51.5h.9M95.1 55.1h.9M103 76.9h.9M95.7 78.2h.9M105.7 72.3h.9M81.9 71.6h.9M91.7 59.6h.9M83.1 67.6h.9M97.5 60.4h.9M110.9 64h.9M92.8 88.8h.9M99.6 68.6h.9M96.2 76.9h.9M96.8 84.7h.9M93.9 74.8h.9M99.9 74.1h.9M104 63.4h.9M78.4 75.2h.9M100.9 61.5h.9M115.8 60h.9M98.8 65h.9M100.1 66.2h.9M94.8 69h.9M90.3 78.5h.9M107.7 70.8h.9M98.6 67.1h.9M95.6 61.7h.9M98.3 63.3h.9M88.5 60.8h.9M94.5 52.4h.9M97.3 84.3h.9M97.7 82.4h.9M85.2 67.2h.9M138.8 61.6h.9M150.2 69h.9M110 66.5h.9M120.5 53.8h.9M144.8 53.1h.9M144 85.1h.9M144.9 50.1h.9M116.5 94.4h.9M131.3 90.4h.9M110.3 94.4h.9M125.5 85.4h.9M131.8 50.1h.9" stroke="#000" stroke-width=".9" stroke-opacity="0.55" fill="none"/>
<path d="M118 47.8L97.9 99.5H151.1" stroke="#c2c2c2" stroke-width="1" fill="none"/>
<text x="117.8" y="110.2" font-size="8.7">1.23%</text>
<path d="M45.5 60.5H48.5M45.5 89.4H48.5M45.5 118.2H48.5M45.5 139.2H48.5M46.9 80.7H48.5M46.9 75.6H48.5M46.9 72H48.5M46.9 69.2H48.5M46.9 66.9H48.5M46.9 65H48.5M46.9 63.3H48.5M46.9 61.8H48.5M46.9 109.6H48.5M46.9 104.5H48.5M46.9 100.9H48.5M46.9 98.1H48.5M46.9 95.8H48.5M46.9 93.9H48.5M46.9 92.2H48.5M46.9 90.7H48.5M46.9 133.3H48.5M46.9 129.7H48.5M46.9 126.9H48.5M46.9 124.6H48.5M46.9 122.7H48.5M46.9 121H48.5M46.9 119.5H48.5M46.9 51.8H48.5M46.9 121H48.5M46.9 124.2H48.5M46.9 127.4H48.5M46.9 130.6H48.5M46.9 133.8H48.5M46.9 137H48.5M46.9 143.4H48.5M46.9 146.6H48.5M65.1 150.5V153.5M98.8 150.5V153.5M142.7 150.5V153.5M112 150.5V152.1M119.7 150.5V152.1M125.2 150.5V152.1M129.5 150.5V152.1M133 150.5V152.1M135.9 150.5V152.1M138.4 150.5V152.1M140.7 150.5V152.1M51.5 150.5V152.1M54.9 150.5V152.1M58.3 150.5V152.1M61.7 150.5V152.1M68.5 150.5V152.1M71.9 150.5V152.1M75.3 150.5V152.1M78.7 150.5V152.1M82.1 150.5V152.1M85.5 150.5V152.1M88.9 150.5V152.1M92.3 150.5V152.1M95.7 150.5V152.1" stroke="#000" stroke-width="1.1" fill="none"/>
<path d="M45.5 47H152.5M45.5 150.5H152.5M48.5 46.4V153.5M152.5 46.4V153.5" stroke="#000" stroke-width="1.35" fill="none"/>
<text x="40.9" y="63" font-size="8.9" text-anchor="end">10<tspan font-size="6.6" dy="-4.3">6</tspan></text>
<text x="40.9" y="91.9" font-size="8.9" text-anchor="end">10<tspan font-size="6.6" dy="-4.3">5</tspan></text>
<text x="40.9" y="120.7" font-size="8.9" text-anchor="end">10<tspan font-size="6.6" dy="-4.3">4</tspan></text>
<text x="41.2" y="142.2" font-size="8.9" text-anchor="end">0</text>
<text x="65.3" y="165.8" font-size="8.9" text-anchor="middle">0</text>
<text x="99.8" y="165.8" font-size="9.2" text-anchor="middle">10<tspan font-size="6.6" dy="-4.3">6</tspan></text>
<text x="143.7" y="165.8" font-size="9.2" text-anchor="middle">10<tspan font-size="6.6" dy="-4.3">7</tspan></text>
<text x="237.1" y="40.4" font-size="11" text-anchor="middle">Neg  + CVX</text>
<path d="M230.2 76.2h.9M220.7 93.8h.9M218 92.5h.9M213.9 89.6h.9M224.2 82.2h.9M227.1 85.1h.9M223.4 90h.9M224.6 88.9h.9M230.4 78.1h.9M229.7 83.6h.9M214.2 95.4h.9M224.2 89.1h.9M213.5 68.6h.9M224.6 77.4h.9M218 82h.9M216.5 86.6h.9M219.1 88h.9M211.6 97.5h.9M223.6 88.4h.9M217.1 87h.9M225.4 83.3h.9M216.8 83.8h.9M215.6 90.9h.9M228.1 84h.9M212.3 76.5h.9M226.2 85.2h.9M212.4 87.9h.9M222.2 84.2h.9M219.7 89.6h.9M217.3 85.9h.9M228.8 87.3h.9M224.4 86.7h.9M220.8 86.5h.9M228.9 83.2h.9M224 85.7h.9M224.7 81.1h.9M226.1 79.5h.9M221.4 85.6h.9M216.8 81.5h.9M220.4 77.3h.9M222.6 93.7h.9M223.9 82.3h.9M229.9 80.4h.9M227.7 80.9h.9M219 86.9h.9M212.4 90.8h.9M221.6 85.8h.9M218.4 81.5h.9M232.7 85.3h.9M216.9 83.2h.9M223.3 91.5h.9M221.4 72.1h.9M215.1 81.7h.9M223.6 91h.9M233.9 77.2h.9M230.7 75.4h.9M227.5 84.5h.9M220.6 78.6h.9M214.9 89.7h.9M219.2 71.3h.9M220.8 82.6h.9M221.4 80.9h.9M219.6 90.2h.9M224.3 89.8h.9M217.8 81.5h.9M228.9 92.2h.9M230.5 76.1h.9M218.2 73h.9M202.4 79.9h.9M219.2 97.3h.9M209.9 91.5h.9M214 85.2h.9M223.6 78.9h.9M221.4 77.8h.9M221.4 94.8h.9M223.5 83.6h.9M210.7 90.2h.9M204.4 79h.9M218 93.2h.9M231.1 77.3h.9M211.2 89.7h.9M235.6 88.1h.9M230.7 78.2h.9M223.9 92h.9M221.4 85.4h.9M215 83.9h.9M223.1 88h.9M224.8 79.3h.9M225.5 91.6h.9M231.9 86h.9M230.6 80.5h.9M226.1 86.9h.9M225.8 86.8h.9M220.4 84h.9M227 88.4h.9M212.9 88.8h.9M226.5 86.7h.9M220.4 79.4h.9M215.7 89.4h.9M238.8 78.3h.9M212.2 85.2h.9M214.1 86.8h.9M222.2 81.3h.9M209.7 97.2h.9M213.8 84.9h.9M211.8 94h.9M219.2 97.3h.9M221.8 87.7h.9M219.2 75.5h.9M230.2 81.2h.9M230.8 87.2h.9M229.6 78.7h.9M229.4 88.5h.9M220.1 90.5h.9M231.2 82.7h.9M217.4 86h.9M215.7 85.2h.9M232.2 77.5h.9M227.7 82.3h.9M224.9 87.1h.9M228.5 84.3h.9M227.3 80h.9M211.9 91.4h.9M222.2 87.7h.9M208.2 81.9h.9M220.3 80.8h.9M214.4 84h.9M231.1 78.5h.9M224.7 81.7h.9M215 87.4h.9M219 80.8h.9M214.8 93.9h.9M222.9 86.6h.9M220.8 74.4h.9M223.7 84.3h.9M204.2 87.7h.9M224.4 95.6h.9M224.1 80.8h.9M222.8 82h.9M230.5 80.8h.9M211.7 89.7h.9M225.4 82.8h.9M221.6 96.1h.9M223.8 85.7h.9M227.2 87.9h.9M230.2 88.3h.9M214.6 82.7h.9M228.2 93.3h.9M215.2 93.9h.9M214.2 96.3h.9M223.2 78.5h.9M223.8 89.8h.9M211.1 94.4h.9M213.9 86.2h.9M228.7 97.1h.9M234.9 81.7h.9M228.7 79.7h.9M228.2 83h.9M224.4 91.6h.9M227 86.3h.9M228.3 90h.9M229.2 91.2h.9M216.3 79.9h.9M233.2 75.4h.9M229.8 74.2h.9M221.3 86.3h.9M218.8 97h.9M238.8 80h.9M214.5 82.3h.9M229.7 78.7h.9M238.9 82.6h.9M213.2 86.6h.9M223.6 83.6h.9M220.1 88.4h.9M220.1 73.7h.9M226.4 88h.9M237.1 78.9h.9M227.8 85.8h.9M218.7 80.3h.9M227.7 76.6h.9M217.9 83.4h.9M219.8 88.2h.9M238.4 76.2h.9M216.1 89.5h.9M223.5 96.7h.9M226 91.9h.9M211.8 86.1h.9M204.2 90.9h.9M234.6 89.8h.9M215 87h.9M221.9 94.8h.9M223.8 95.2h.9M212.9 86.7h.9M213 88.5h.9M223.2 85.1h.9M236.8 70.7h.9M224.2 77.1h.9M226 80.1h.9M213.2 96.2h.9M220.2 83.1h.9M212.4 89.3h.9M226 79.7h.9M216 79.2h.9M226.5 92.9h.9M214 73.6h.9M215.5 84.4h.9M212.2 94.7h.9M221.8 75.6h.9M213.4 94.4h.9M216.8 96.9h.9M217 82.2h.9M217.2 89.4h.9M220.3 78.5h.9M230.7 83.7h.9M223.8 84.8h.9M223.8 85.6h.9M226 92.4h.9M229.5 84.2h.9M226.3 87.1h.9M211.3 83.1h.9M213.4 91.9h.9M223.2 87.9h.9M214.5 79.5h.9M230 89.8h.9M230 81h.9M205.7 97.1h.9M218.5 81h.9M236.4 77.4h.9M229 83.2h.9M231.4 77.5h.9M222.7 85.3h.9M204.8 80.4h.9M217.5 97.2h.9M223.6 76.5h.9M222.2 69.9h.9M213.5 83.5h.9M217.2 82.2h.9M225.3 87.1h.9M206.1 88h.9M220 88.3h.9M230.8 73.5h.9M244.4 87.5h.9M222.6 88.6h.9M241.1 87.7h.9M214.8 82.3h.9M217.7 92.2h.9M202.4 89.9h.9M230.5 84.3h.9M221 90.5h.9M234.2 67.1h.9M220.8 78h.9M219.6 78.5h.9M203.9 85.2h.9M230.6 75.2h.9M216.2 81.9h.9M216.2 78.5h.9M205.8 95.2h.9M230.2 84.2h.9M225.1 74.3h.9M215.6 85h.9M222.4 85h.9M223.9 82.4h.9M226.7 77.6h.9M224.9 89.1h.9M236.9 82.4h.9M222 89.9h.9M216.6 86.8h.9M214.6 86.6h.9M228.8 80.4h.9M227.2 90.3h.9M213.3 84.6h.9M225.5 85.9h.9M207 94.1h.9M217.5 82.8h.9M224.9 81.9h.9M222.2 74.2h.9M214.4 85.8h.9M222.5 71h.9M242.3 89.2h.9M223.1 94.9h.9M230.9 88.5h.9M211.2 93.5h.9M230.1 89.3h.9M225.1 90.4h.9M226 89.2h.9M214.7 83h.9M220.9 88.7h.9M226.1 79h.9M230.8 71.8h.9M216.7 80.2h.9M210.9 94.5h.9M234.3 85.3h.9M222.1 75.6h.9M232 91.4h.9M227.5 92.1h.9M237.7 73.4h.9M220.9 82.5h.9M225.3 82.7h.9M216.3 85.7h.9M213.4 82.4h.9M222.5 87.1h.9M218.1 73h.9M216.6 89.1h.9M238 83.9h.9M214.8 91.3h.9M220.7 91.2h.9M225 86.8h.9M214.7 94.3h.9M226.4 83.5h.9M223.9 78.2h.9M218.9 85.3h.9M235.6 76.7h.9M226.1 91.4h.9M228.7 92.5h.9M215.9 91.5h.9M207.1 88.4h.9M214.9 84.1h.9M218.8 85.6h.9M222.5 94.4h.9M228.4 83.7h.9M204 95.1h.9M211.1 86.1h.9M232.5 81h.9M217.4 87.4h.9M218.2 87.9h.9M227.9 80.6h.9M223.8 95.7h.9M227.1 90.7h.9M206.9 94.1h.9M233 84.8h.9M224.3 82.9h.9M223.3 78.6h.9M230 78.6h.9M217.6 81.3h.9M222 88.6h.9M227.1 82.2h.9M226.6 86.3h.9M222.4 90.5h.9M212.7 68.8h.9M219 89h.9M221.6 72.8h.9M229.1 82.1h.9M219.1 80.6h.9M235.9 77.8h.9M214.9 77.3h.9M234.9 78.9h.9M218.4 86.6h.9M204.3 82.2h.9M234 82.6h.9M225.9 83.1h.9M211.4 87.6h.9M225.3 78.2h.9M210.7 88.9h.9M215.2 76.5h.9M215.4 82.4h.9M212.5 88h.9M217.9 84.8h.9M214.1 89.1h.9M219.1 79.5h.9M223.2 88.1h.9M225.8 79.5h.9M214.3 80.1h.9M209.5 86.6h.9M210.9 88.8h.9M222.5 90.7h.9M234.5 81.2h.9M227 79.8h.9M217.1 88h.9M229.3 82.3h.9M227.4 77.7h.9M220.3 89.3h.9M229.6 85.7h.9M223.5 77.6h.9M220.3 87.4h.9M224.7 84.7h.9M212.5 87.3h.9M222.9 88.5h.9M232.8 85.9h.9M255.4 73.6h.9M226.4 81.2h.9M223 85.8h.9M226.3 74.9h.9M210.2 93.4h.9M218.5 93.2h.9M224.9 84.5h.9M214.8 93.7h.9M233.6 79.5h.9M232.1 84.5h.9M221.4 94.3h.9M217 86.4h.9M212.6 91.8h.9M211.3 90.9h.9M223.8 81.2h.9M226.3 82.4h.9M221 77.8h.9M226 87.9h.9M222.7 96.4h.9M229.5 92.5h.9M218.9 80.2h.9M237.2 86.8h.9M229.4 75.8h.9M218.2 86.9h.9M224.8 96.2h.9M228.7 73.8h.9M237.5 81.9h.9M211.6 93h.9M218.2 86.2h.9M220.9 79.6h.9M232 82.2h.9M214.2 86.4h.9M229.6 87.9h.9M223.2 92.8h.9M235.2 67.9h.9M223.4 80.7h.9M219.8 84.1h.9M215.7 80.5h.9M226.2 74.9h.9M227.1 82.8h.9M213.1 88.7h.9M218.4 75.7h.9M210.3 88.1h.9M217.7 91.1h.9M208.6 84.4h.9M209.2 86.1h.9M221.5 96.4h.9M218.5 96.2h.9M220.8 74.5h.9M223.6 74.8h.9M221.1 88.2h.9M209.9 83.8h.9M227 80.4h.9M205.5 91.5h.9M209.2 96.3h.9M219.6 68.9h.9M220 70.9h.9M225.3 74.7h.9M223.2 91.4h.9M212 89.8h.9M212.9 78.5h.9M227.4 85.3h.9M218.2 92.1h.9M215.8 86.9h.9M210.5 89.4h.9M214.5 92.4h.9M231.6 87.9h.9M225.6 84h.9M214.8 92.9h.9M213.6 89.6h.9M216.5 85.6h.9M223.1 78.1h.9M213.9 91.5h.9M219.6 84.3h.9M205.2 93.1h.9M215.3 95.4h.9M226.3 85.9h.9M231 85.9h.9M208.5 81.9h.9M217.7 91.4h.9M225.9 78.7h.9M216.5 82.7h.9M215.2 83.1h.9M229.2 89.3h.9M225.7 88.7h.9M227.8 76.7h.9M224.2 75.9h.9M217.6 87.7h.9M219.5 83.3h.9M226.3 94.1h.9M207.4 83.4h.9M209.1 79.8h.9M228.2 79.7h.9M210.1 92h.9M229.5 81.6h.9M226.2 87.9h.9M227 96.5h.9M224.7 81.1h.9M223.7 80.3h.9M225.4 70.9h.9M219.6 88.2h.9M222.7 90.6h.9M219.2 84.9h.9M239.2 83.3h.9M228.9 81.3h.9M219.5 97h.9M220.3 88.3h.9M213.4 82.7h.9M220 81.8h.9M218.8 76.3h.9M233.5 66.4h.9M209.1 94.3h.9M232 85.3h.9M230.9 93.5h.9M216.5 87.9h.9M220 84.6h.9M214.8 81.5h.9M225.1 90.1h.9M230.4 82.9h.9M208.8 88.5h.9M233.6 83.1h.9M220.7 89.7h.9M227.3 69h.9M227.1 87.3h.9M231.3 80.6h.9M224.8 80.7h.9M228.6 78.4h.9M227.5 94h.9M220.3 96.7h.9M232.3 91.8h.9M223.6 76.2h.9M235.4 72.8h.9M216.8 79.7h.9M227.5 76.9h.9M207.2 81.1h.9M225.7 95.7h.9M240.7 81.6h.9M233.7 81.5h.9M216 90h.9M231.1 76.9h.9M229.4 78h.9M229.4 85h.9M222.5 79.8h.9M227.3 90.5h.9M214 86.3h.9M215.4 82.8h.9M231.2 88.8h.9M222.5 83.8h.9M237.2 80.1h.9M218.2 84.4h.9M197.4 83.7h.9M221.1 89.4h.9M219.9 76.9h.9M227.9 89.1h.9M217.7 76.8h.9M210.2 78.9h.9M233.8 80.4h.9M218.3 90.2h.9M227.5 82.6h.9M216.1 80h.9M215.7 94.8h.9M227.9 71.5h.9M202 93.4h.9M213.3 84.6h.9M224 81.3h.9M221.8 91.1h.9M225.5 78.6h.9M222.9 88.5h.9M220.7 90.6h.9M232.7 67h.9M216.8 80h.9M219.6 83.8h.9M212.2 86.6h.9M217.3 89.9h.9M220.9 72.3h.9M228.2 86.4h.9M224.2 89h.9M216.3 87.2h.9M222.8 75h.9M209.4 92.4h.9M217.8 83.7h.9M221.8 89.1h.9M215.5 88.2h.9M225.3 88.2h.9M215.7 85.7h.9M220.4 96h.9M228.3 65.4h.9M224.4 76.6h.9M232.3 82.5h.9M217.8 77h.9M231.3 84.8h.9M224.1 75.4h.9M231.2 80.4h.9M236.7 70.2h.9M219 83.7h.9M224.4 84.9h.9M221.3 84.7h.9M222.2 85h.9M223.8 77.3h.9M220.6 92.3h.9M232.9 84.5h.9M235.2 85.9h.9M224.4 96.1h.9M229.7 74.1h.9M238.1 83.1h.9M228.9 89h.9M214.8 89.2h.9M233.6 80.1h.9M211.9 70.1h.9M217.6 83.6h.9M228.3 93.8h.9M212.8 78h.9M228.4 77.7h.9M228.7 83.2h.9M232.8 82.8h.9M231.3 91h.9M211 79.2h.9M221.1 85.9h.9M231.1 85.7h.9M215.2 79.9h.9M243.5 72.4h.9M226 95.8h.9M261.5 55.7h.9M247.8 57.2h.9M251.7 95h.9M252.8 67.5h.9M259.9 65.4h.9M254.9 70.6h.9M268.2 74.9h.9M265.2 75h.9M256.5 79h.9M257.3 65.6h.9M252.4 69.4h.9M265.9 76.5h.9M266.4 74.2h.9M273 68h.9M277.5 76.4h.9M260.4 83.7h.9M265.5 74.2h.9M265.7 67.5h.9M262.8 76.6h.9M267.3 60.7h.9M262 62.1h.9M272.8 87.8h.9M253.4 62.7h.9M275.2 55.4h.9M274.5 59.8h.9M264.9 73.1h.9M262 60.7h.9M259.8 77.3h.9M254.3 83.2h.9M259.7 63.4h.9M265 69.7h.9M263.9 66.1h.9M260.4 70.3h.9M270.2 71.6h.9M254.7 72.8h.9M269.3 69.4h.9M264 62.5h.9M266.7 74h.9M268.4 65.1h.9M257.4 88.5h.9M253.9 75.5h.9M265.8 56.5h.9M266.7 53.4h.9M266.4 70.4h.9M268.5 75.5h.9M265.3 87h.9M262.5 67h.9M268.3 65.4h.9M246.4 79.4h.9M252 59.2h.9M260.6 64.6h.9M261.7 65.7h.9M248.5 76.5h.9M254.8 60.9h.9M260.5 87.1h.9M265.7 56h.9M253.6 64.9h.9M273.9 90.4h.9M271.5 60.7h.9M267.3 60.6h.9M265.4 80.1h.9M269.3 49.8h.9M269.8 86.4h.9M255.3 63.8h.9M260.9 56.9h.9M252.4 91.5h.9M263.6 60.4h.9M273 77.4h.9M253.3 66.4h.9M254.1 78.9h.9M267.1 69.8h.9M262.4 83.7h.9M266 84h.9M264.1 77.1h.9M272.7 90.5h.9M268.2 56.3h.9M258.8 84.2h.9M266 81.6h.9M260.3 73.6h.9M262 70.8h.9M264.5 63.3h.9M263.5 62.4h.9M255 70.6h.9M258.4 73.3h.9M253.8 66.1h.9M270.2 65.9h.9M256.6 60.1h.9M275 83.7h.9M265.4 96h.9M281.2 56.8h.9M266.9 62.7h.9M261.2 67.5h.9M273.5 73.1h.9M262.6 77.1h.9M262.8 82.7h.9M257.5 72.3h.9M269.8 77.5h.9M255.6 74.6h.9M257.7 85.1h.9M250.9 68.5h.9M262.2 64.4h.9M264.8 78h.9M260.9 70.1h.9M251.1 88.5h.9M268 76.4h.9M262.7 72.6h.9M266.2 87h.9M239.7 78.6h.9M269.5 70.2h.9M263.3 80.8h.9M255.9 62.1h.9M253.2 71h.9M272.5 69.4h.9M255.1 71.1h.9M252.5 82.9h.9M267.3 74.7h.9M260 73.6h.9M270 67.7h.9M255.9 72.8h.9M263.9 76.3h.9M274.9 68h.9M271.4 62.7h.9M252.8 57.4h.9M272.9 64.9h.9M266.3 68h.9M261.4 61.8h.9M277.1 68.9h.9M254.1 62.1h.9M276.4 77.8h.9M260.2 68.3h.9M285.4 56.1h.9M263.5 71.5h.9M253.9 69.2h.9M262.7 75.4h.9M265.8 73.3h.9M268.5 71.6h.9M265.4 85.5h.9M248.5 86.2h.9M268.4 70.9h.9M261.1 88.6h.9M263.2 68.6h.9M258.2 67.3h.9M262.8 58.3h.9M276.5 59.7h.9M270.7 71.4h.9M255.7 73.8h.9M249.4 77.5h.9M268.2 83.1h.9M253.7 66h.9M255.1 90.6h.9M258.8 68.3h.9M252.1 65.8h.9M267.6 66.6h.9M260.9 74.1h.9M273.7 75.9h.9M275.3 86.3h.9M260.3 75.2h.9M262.2 91.1h.9M271.2 74.4h.9M267.6 56.3h.9M258.8 67.3h.9M276.1 74.2h.9M256.7 79.2h.9M270.3 59.1h.9M258.2 77.6h.9M266.6 64.3h.9M260.3 68.7h.9M264.2 82.9h.9M276.8 67.1h.9M261.3 70.4h.9M255.5 65.4h.9M266.2 68h.9M253.8 66.8h.9M257.7 72.9h.9M274 72h.9M277.1 83.5h.9M266.5 72.5h.9M253.6 74h.9M261.9 87.7h.9M245.8 69.9h.9M256.8 73.7h.9M273.8 77h.9M274.2 64h.9M246.7 81.9h.9M253.4 64.8h.9M259 94.3h.9M258.5 80.9h.9M257.4 74.2h.9M255.9 93.1h.9M251.2 86.2h.9M251.8 63.7h.9M269.4 73.9h.9M258.9 70.5h.9M253.3 75.4h.9M265.1 48.1h.9M264.6 74.1h.9M254.4 76.6h.9M275.7 59.2h.9M264.9 65.4h.9M269.1 78.9h.9M266.8 59.9h.9M260.2 68.1h.9M253.8 59.2h.9M257.6 65.9h.9M263.6 83.4h.9M256.2 66h.9M252.2 77.1h.9M262.4 79.7h.9M271.4 65h.9M257.5 72.7h.9M264.5 71.7h.9M256.2 60.4h.9M262.4 69.6h.9M262.5 88.4h.9M277.5 71.9h.9M267 62.9h.9M266.1 63.2h.9M274.3 59.1h.9M272.7 72.5h.9M270.6 66.7h.9M266.3 55.1h.9M264.7 75.6h.9M278.3 59.9h.9M267.2 54h.9M258.6 60.2h.9M275.7 57.3h.9M270.2 65.6h.9M266 83h.9M269.7 62.1h.9M261 66.7h.9M262.8 66.6h.9M257.7 66.8h.9M263.9 56.5h.9M262.6 65h.9M257.3 76.3h.9M273.4 71.4h.9M259.1 61.1h.9M260 78.1h.9M257.8 73.6h.9M271.8 80.4h.9M262.6 78.1h.9M262.9 67.4h.9M273.9 65.7h.9M273.1 55.3h.9M266.2 59.6h.9M278.7 68.2h.9M273.8 64.2h.9M281.4 66.1h.9M269.6 79.2h.9M272.1 68.4h.9M266.2 69.4h.9M256 69.2h.9M266.3 78.3h.9M261.9 76.5h.9M267 76.6h.9M257.9 82.7h.9M261.7 64.8h.9M257.1 68.5h.9M268.9 73.4h.9M273.9 73.4h.9M265.3 64.4h.9M264 78.7h.9M272.4 77.6h.9M250.8 83.1h.9M251.1 90.3h.9M247.3 85.1h.9M278.8 62.4h.9M257 88.9h.9M263 66.1h.9M259.9 53h.9M260.5 75.3h.9M278 61h.9M270.6 54.5h.9M265.5 62h.9M279.2 53.1h.9M258.6 62h.9M260.8 78.5h.9M270.2 69.3h.9M256.6 73h.9M252.3 80.4h.9M259.5 84h.9M274.1 51.1h.9M259.8 75.8h.9M265.1 72.7h.9M262.2 78.4h.9M258.4 67.3h.9M258.4 71.6h.9M264.9 77h.9M265.6 86.4h.9M266.2 89h.9M254.8 75.4h.9M272.5 73h.9M278.6 56.1h.9M268.7 62.4h.9M275.7 57.4h.9M271.7 70.4h.9M275.3 78.8h.9M250.8 79.8h.9M267.9 73.8h.9M253 90.2h.9M261.2 73.7h.9M279.1 61.4h.9M270.9 71.7h.9M262.6 58.2h.9M260.3 74.1h.9M259 84.7h.9M252.5 71h.9M267.8 78.2h.9M269.2 60.8h.9M274.3 54.8h.9M262.7 79.4h.9M274.2 81.2h.9M263.6 73.1h.9M260 73.5h.9M269.6 88.7h.9M261.2 69.1h.9M262.3 66.6h.9M256.7 63.4h.9M265.4 86.1h.9M265.3 73.6h.9M258.9 88.7h.9M269.4 64.2h.9M258.3 80.2h.9M257.6 71.3h.9M256.8 72.9h.9M264.1 78.3h.9M259.9 81.4h.9M266.4 92.9h.9M267.2 53.7h.9M262.1 67.7h.9M258.6 65.7h.9M282.9 57.9h.9M255.5 68.2h.9M271.7 69.4h.9M273.6 76.5h.9M268.7 60.7h.9M271.2 69.7h.9M251.6 61.4h.9M260.3 72.5h.9M254.5 63.4h.9M270.7 61.9h.9M254.4 90h.9M258.4 70.1h.9M268.3 78.6h.9M265 75.5h.9M251.4 87.2h.9M264.2 63.4h.9M250.5 74h.9M261.8 73h.9M275.6 83.4h.9M251.6 83.9h.9M264.7 77h.9M251.8 86h.9M264.9 82.7h.9M265.5 75.9h.9M262.5 70.8h.9M252.7 64.9h.9M260.1 71h.9M282 56.9h.9M264.5 66.9h.9M262.5 84.6h.9M258.1 75.4h.9M248.8 70.9h.9M266 74.7h.9M263.4 78.1h.9M256.3 77.2h.9M269.4 55.8h.9M266.2 72.2h.9M258.6 72.5h.9M265.2 75.1h.9M261.7 72.8h.9M255.2 51.1h.9M265.4 66.9h.9M265.5 59.6h.9M244 96.2h.9M268.3 70.1h.9M265.9 60.6h.9M276.9 56.1h.9M271.4 75.2h.9M257 87.3h.9M256.7 61h.9M256.5 74.4h.9M261.7 90.6h.9M259.5 76.2h.9M263.8 59.5h.9M269.2 60.7h.9M270.8 67h.9M260.9 81.8h.9M280.2 51.6h.9M253.2 79.1h.9M262 71.3h.9M255.7 83.5h.9M270.2 59.9h.9M252.5 60.4h.9M266.8 62.9h.9M255.8 66.1h.9M272.9 77h.9M275.1 75.5h.9M266.3 94.1h.9M274.1 65.6h.9M265.3 61.8h.9M268.6 78.4h.9M262.8 71h.9M269.6 71.1h.9M265.6 54.6h.9M262.3 65.7h.9M267.4 72.8h.9M273.4 82.2h.9M257 84.8h.9M276.1 84.7h.9M282.6 80.5h.9M254.6 69.3h.9M264.4 70.8h.9M261.5 61.7h.9M265.3 67.2h.9M262 67.3h.9M266.8 65.5h.9M271.4 73.3h.9M270.2 75.1h.9M268.1 68.3h.9M256.1 86.8h.9M270.9 60.9h.9M259 83.4h.9M271.9 66.1h.9M264.3 71.4h.9M272.7 63.5h.9M255.8 66.7h.9M265 82.6h.9M280.7 68.1h.9M266.3 70.5h.9M255.5 65.5h.9M273.5 75.5h.9M266.8 61.5h.9M248.5 53.9h.9M263.9 68.7h.9M260.9 87.3h.9M264.9 76.4h.9M272.9 74.9h.9M276.7 57.8h.9M266.9 68.5h.9M250.9 65.4h.9M262.6 57h.9M264.9 73.1h.9M268.6 74.1h.9M258.3 66.5h.9M253.2 82.6h.9M271.8 64.7h.9M253.8 61.1h.9M250.2 67.2h.9M257.4 80.8h.9M266.9 70.5h.9M267.7 57.4h.9M246.2 69.1h.9M259.4 80.9h.9M257.5 63.1h.9M261.1 87.8h.9M253.2 90.7h.9M263.9 76.3h.9M265.2 79.8h.9M259.5 72.1h.9M267.1 79.2h.9M274 72.9h.9M265.8 74.8h.9M270.2 81.4h.9M258 73.3h.9M273.3 69.1h.9M270.6 63.9h.9M262.1 60h.9M267.1 65h.9M256 78.4h.9M263.4 74.5h.9M272.2 73.3h.9M254.6 84.6h.9M271.8 59.3h.9M256.1 63.6h.9M262.1 77.3h.9M272.6 74h.9M268 77.3h.9M263.8 79.8h.9M263.2 65.1h.9M255.8 72h.9M257.1 83.6h.9M252.6 72.4h.9M255.7 68.1h.9M265.4 84.2h.9M264.2 57.1h.9M271 87.3h.9M263.2 50.9h.9M271.3 65h.9M252.2 75.6h.9M266.1 70.9h.9M263 57.3h.9M263.7 73.2h.9M257.7 81.4h.9M261.9 68.8h.9M277 55.6h.9M267.2 89.8h.9M263.1 64.4h.9M270.2 74.4h.9M264.3 72.7h.9M262.3 74.7h.9M277.2 81.8h.9M255 54.6h.9M262.7 63.7h.9M247.8 73.9h.9M269.6 56.5h.9M256.7 82h.9M267.5 70.9h.9M281.7 67h.9M274.5 72.7h.9M266.4 60.5h.9M267.4 73.2h.9M279.9 68.6h.9M267.1 68.9h.9M275.8 53.1h.9M264.4 79.2h.9M260.1 55.5h.9M261.2 64.4h.9M267.4 70.9h.9M265.3 78.2h.9M260.4 64.2h.9M255.3 83.2h.9M257.1 83h.9M266.7 64.5h.9M261.6 87.5h.9M271.8 59h.9M264.2 74.3h.9M256.2 64.2h.9M257.8 67h.9M268.4 68.7h.9M252.6 68.2h.9M264.4 75.5h.9M259.4 70.1h.9M264 59.2h.9M273.9 63.5h.9M265.9 57.7h.9M260.4 65.1h.9M259 70.7h.9M256.8 86.3h.9M285.4 75.2h.9M254.4 56.4h.9M262.3 74.8h.9M266.5 63.3h.9M276.6 63.2h.9M262.3 69.1h.9M253.1 53.3h.9M274.5 73.2h.9M249 82.8h.9M261.7 75.2h.9M253.4 70.1h.9M259.6 62.7h.9M257 77.1h.9M267.9 78.1h.9M265.3 82.7h.9M260.2 69.5h.9M267.9 72.4h.9M266.4 61.3h.9M268.8 64.6h.9M266.1 70.3h.9M269.5 71.3h.9M260.8 68.1h.9M264 69.8h.9M273 58.3h.9M253.2 93.5h.9M258.2 70h.9M277.1 74.5h.9M266.6 59.6h.9M264.1 83.5h.9M267.3 68.9h.9M276.4 67.9h.9M247.8 67.5h.9M268.8 95.3h.9M261.2 73.7h.9M250.5 77.5h.9M268.2 65.9h.9M275.1 86.6h.9M276 57.3h.9M256.8 65.7h.9M257.4 76.7h.9M270.7 80.3h.9M249.9 75.9h.9M264.9 67.1h.9M269.3 57h.9M277.5 80.7h.9M266.7 62h.9M268.5 84.1h.9M261.3 66.1h.9M269.8 48.1h.9M264.3 87.1h.9M274.1 62.5h.9M258.4 54.8h.9M259.6 90h.9M261.8 86.1h.9M255.6 77.7h.9M270.3 63.4h.9M264 75.9h.9M260.3 71h.9M263.7 62.9h.9M260.4 67.8h.9M263.5 68.3h.9M254 69.4h.9M269.2 61.1h.9M250.8 72.9h.9M272.6 56.7h.9M262.1 73.9h.9M253.7 74.6h.9M272.9 68.5h.9M279.1 74h.9M263.7 93.3h.9M256.3 64.5h.9M266.3 87.6h.9M261.8 79.3h.9M267.6 64.1h.9M256.3 76.8h.9M265.9 68.1h.9M271.6 79.4h.9M276.9 56.1h.9M261 70.6h.9M254.3 79.3h.9M256.3 79.5h.9M263.8 81.3h.9M277.1 76.6h.9M257.2 67.6h.9M268.7 62.7h.9M262.5 68.4h.9M259.9 67.5h.9M268.3 69.8h.9M267.2 74.3h.9M256.3 63.7h.9M261.1 60.8h.9M275.7 68.5h.9M263.7 77.2h.9M259.3 88.7h.9M257.1 76.7h.9M263 67.5h.9M255.5 94.9h.9M258.7 73.8h.9M259 63.5h.9M261.5 76.3h.9M264.9 84.4h.9M265.6 52.2h.9M277.6 62.8h.9M267.6 76.1h.9M264.7 56.6h.9M270.3 59.9h.9M258.6 81.2h.9M280.9 49.9h.9M264.1 82h.9M254.4 69.1h.9M250.2 76.3h.9M271.3 74.3h.9M258.7 83.4h.9M266.8 72.9h.9M271.4 63h.9M275.2 74.8h.9M255 69.5h.9M278.5 61.5h.9M254.6 76.5h.9M273.4 65.4h.9M271.5 78.7h.9M256.1 64.7h.9M266.9 72.5h.9M262.9 69.3h.9M262 70.9h.9M260.7 78.5h.9M254.6 72.8h.9M259.9 64.2h.9M267.9 74.7h.9M264.2 84.7h.9M257.1 75.7h.9M251.3 72.5h.9M279 80h.9M272.1 73.7h.9M266.9 71.9h.9M254.3 73.7h.9M260.3 69.3h.9M236.1 62.2h.9M231.7 85.6h.9M260.4 69.5h.9M243.8 78.3h.9M242.7 69.9h.9M228.7 82.1h.9M225.8 73.9h.9M233.1 83.6h.9M246.5 79.5h.9M235.8 74.8h.9M234.5 73.2h.9M243 72.4h.9M243.8 76.1h.9M258.1 68.5h.9M238.8 78.1h.9M230.4 84.5h.9M236.1 68.7h.9M246.9 49.6h.9M237.6 85.3h.9M247.5 86.9h.9M231.8 70.2h.9M243.2 70.4h.9M245.4 78h.9M236.1 89.2h.9M241.4 83.4h.9M256.8 80.2h.9M253.3 70.2h.9M253.2 74.5h.9M252.5 74.8h.9M236 76.7h.9M242 88h.9M254.1 75.8h.9M232.2 91.7h.9M239.2 75.3h.9M224.8 96.4h.9M233 72.8h.9M235.1 84.7h.9M217.8 67.5h.9M243.8 67h.9M236.1 87.2h.9M235.5 76.8h.9M239.2 80.4h.9M226.8 71.2h.9M263.1 78.9h.9M238.2 84.7h.9M243.4 76.1h.9M228.5 88.7h.9M237.4 82.8h.9M243.3 89.2h.9M238.8 80.9h.9M229.1 71.3h.9M241.9 74.9h.9M263.6 76.3h.9M242.1 82.2h.9M238.2 75.6h.9M239.4 84.1h.9M269.8 62.1h.9M261.6 71.4h.9M241.3 63.2h.9M245.6 66.9h.9M236.1 86.6h.9M238.8 77h.9M245 78.6h.9M250.3 90h.9M230.7 80.9h.9M233.7 84.1h.9M244.9 70.5h.9M242.4 71.3h.9M217.8 90.5h.9M236.7 67.1h.9M247.2 55.1h.9M239.6 90.9h.9M243.6 75.3h.9M229.7 94.4h.9M251 73h.9M229.6 85.6h.9M230.2 90h.9M240.7 84.4h.9M262.8 54.3h.9M239.3 89.6h.9M223.6 79h.9M247.2 75.9h.9M253.9 93.4h.9M260 67.5h.9M233.9 96.9h.9M222.4 85.3h.9M240.3 83.7h.9M245.7 75.4h.9M246.9 78.1h.9M250 64.8h.9M221.3 80.8h.9M233.6 85h.9M233.8 67.8h.9M247.3 66.5h.9M249.1 78.8h.9M234.3 76h.9M226.6 78h.9M246.8 64.4h.9M252.4 72.5h.9M269.9 57.8h.9M240 79.7h.9M258.6 65.9h.9M233.7 78h.9M226.3 68.6h.9M236.7 81.3h.9M231.7 83.1h.9M236 82h.9M234.5 67h.9M240.8 88h.9M248.5 73.1h.9M240.3 77.8h.9M235.2 66.8h.9M259.5 71.3h.9M244.6 75.1h.9M248.4 85.7h.9M239.5 74.8h.9M237.2 68.8h.9M248.2 74.7h.9M229 76.5h.9M255.6 73h.9M254.5 60.2h.9M253.6 69.3h.9M235.1 79.1h.9M223.7 87.4h.9M234.6 76.8h.9M239.9 71.1h.9M250.3 71.8h.9M237.1 74.8h.9M238.6 80.5h.9M257.1 66h.9M225.3 66.6h.9M252.9 70.3h.9M256.8 81.1h.9M227.9 88h.9M246.8 79.8h.9M237 84.1h.9M229.1 80.4h.9M215.8 80.3h.9M227.2 92.9h.9M250 82h.9M239.3 83.8h.9M246 78.6h.9M231.2 86.9h.9M237.7 79.4h.9M239.4 81.1h.9M224.4 87.4h.9M224.3 90.3h.9M242.6 68.4h.9M240.6 72.4h.9M233.3 87.3h.9M239 75.9h.9M239.3 57.1h.9M262.1 66.7h.9M222.8 67.9h.9M255.6 86.4h.9M267.5 68.8h.9M244.7 81.6h.9M255 63.7h.9M208.5 86.5h.9M256.6 66.9h.9M241.4 77.7h.9M217.7 84.3h.9M250.6 73.6h.9M255.6 75.4h.9M257 73.8h.9M250.6 63h.9M232.7 63.3h.9M233.2 82.3h.9M233.8 76.1h.9M242.7 80.7h.9M252.2 85.9h.9M242.4 91.5h.9M243 79.2h.9M255.3 79.3h.9M251.3 86.4h.9M266.9 63.3h.9M266.3 65.6h.9M232 90.6h.9M235 81h.9M225 82.6h.9M225.7 80h.9M247.5 74.1h.9M228.1 79.8h.9M232.9 89.6h.9M237.2 77.1h.9M255.9 82.2h.9M242.1 87.9h.9M232.7 71.7h.9M255.7 78.9h.9M245.1 71.9h.9M251.7 83.8h.9M253.9 75h.9M230.1 83.8h.9M246.4 80.7h.9M232.3 78h.9M254.1 73.3h.9M252 75h.9M229.4 83.4h.9M257.7 71.7h.9M224.7 78.5h.9M256.5 73.9h.9M239.1 68.4h.9M234.2 87.4h.9M230.9 87.9h.9M240.8 84.3h.9M239.1 74.2h.9M246.9 72.6h.9M226.6 87.7h.9M238.5 72.8h.9M247 87.2h.9M219 86.6h.9M248.7 82.3h.9M223.9 79.6h.9M215 95.8h.9M233.3 79.2h.9M242.5 85.4h.9M250.4 70.1h.9M232.9 75.2h.9M259.6 71.3h.9M252.9 60.7h.9M250 64.5h.9M259.1 74.4h.9M238.3 63.3h.9M238.3 86.4h.9M247.2 71h.9M248.8 65.6h.9M245.1 77.9h.9M241.2 83.6h.9M221.9 84h.9M248.4 72.4h.9M248.5 80.9h.9M230 91.1h.9M242.5 76.9h.9M246.7 68.2h.9M236.8 72.4h.9M248 69h.9M252.5 77.5h.9M227.4 91.1h.9M239.4 81.8h.9M252.2 83.9h.9M250.6 70.1h.9M255.8 66.4h.9M218.8 87.7h.9M248.1 90.9h.9M241.8 59.9h.9M256.3 72h.9M262 70h.9M231.5 84.4h.9M246.3 95.6h.9M234.3 92.4h.9M253.6 77.8h.9M223.5 80.6h.9M256.7 73.6h.9M250.6 69.5h.9M247.2 75.2h.9M218.3 93.2h.9M232.3 79.2h.9M252.4 77.3h.9M242.9 86.3h.9M241.3 80.1h.9M244.3 59.7h.9M248.9 83.3h.9M248.8 83.3h.9M236 79.6h.9M239.9 74.9h.9M242.7 83.2h.9M246.7 68.1h.9M242.7 84.4h.9M249.1 64.4h.9M219.3 83h.9M255.1 70.5h.9M234.3 69.7h.9M254.2 70.9h.9M244.6 81h.9M246.2 64h.9M261.8 74.6h.9M233.4 78h.9M244.6 81.2h.9M240.6 80.6h.9M242.3 73.8h.9M221.7 85.1h.9M233.4 68.1h.9M236.3 75.2h.9M230.1 78.2h.9M245.7 90.1h.9M228.4 94.7h.9M252.1 60.3h.9M249.7 80.5h.9M263.5 67.5h.9M230.6 81.3h.9M230.5 88.7h.9M247.8 81.5h.9M221 85.2h.9M243.2 74.9h.9M234.5 83.8h.9M234.3 73.9h.9M245.2 77.7h.9M241.9 77.4h.9M259.9 61.8h.9M245.6 68.7h.9M228.5 88.5h.9M255.9 77.6h.9M228 88.9h.9M239.5 72.1h.9M230.6 91.1h.9M233.1 84.6h.9M258.5 73.6h.9M239.9 89.3h.9M231.1 76.5h.9M234.9 80.9h.9M236 76.3h.9M254.4 63.3h.9M231.4 92.2h.9M241.5 63h.9M225.5 91.2h.9M235.5 77h.9M258.5 78.4h.9M242 78.8h.9M235.7 80.2h.9M234.3 83.7h.9M232.9 86.6h.9M235.2 82.2h.9M242.3 76h.9M255 69.4h.9M254.3 75.4h.9M231.1 74.6h.9M233.5 83h.9M248.9 73h.9M219.6 86.8h.9M239.5 85.9h.9M233.2 72h.9M227.9 83.1h.9M227.3 79.2h.9M247.5 79.6h.9M221.4 85.9h.9M231.6 84.5h.9M235.8 85h.9M236.5 67.5h.9M228 90.1h.9M250.8 66.5h.9M237.1 78.7h.9M238.2 79.3h.9M240.5 85.9h.9M236.7 87.5h.9M237.2 96.1h.9M254.9 72.2h.9M241.9 74h.9M238.3 75.8h.9M254.9 76.2h.9M239.5 93.3h.9M249.7 76.6h.9M239.5 74.5h.9M232.5 85.9h.9M250.8 75.2h.9M224.9 88.2h.9M245.8 69.4h.9M222 67.7h.9M243.9 72.3h.9M260.6 76.4h.9M248.4 76.2h.9M226.4 68h.9M241 78.7h.9M230.3 68.9h.9M229.7 86.8h.9M237.3 70.4h.9M250.2 80.2h.9M218.8 84.7h.9M242.5 82.6h.9M246.9 75.4h.9M238 70.2h.9M232.6 89.2h.9M247.7 63.2h.9M232.7 95h.9M248.6 74.8h.9M255.1 61.6h.9M247.2 91.6h.9M274.5 83.5h.9M246.7 50.4h.9M286.5 64h.9M254.2 83.9h.9M279.1 52.1h.9M213.6 90.3h.9M259.7 92.9h.9M250.4 85.7h.9M238.7 88.1h.9M280.6 78.1h.9M218.2 88h.9M248.5 72h.9M234.7 69.2h.9M285 83h.9M271.3 71.9h.9M226.6 64.6h.9M220.9 62.4h.9M212.9 70.5h.9M224.9 68h.9M282.6 85.4h.9M278.3 86.9h.9M272.7 87.5h.9M241.9 89.7h.9M248.2 67h.9M255.4 67.4h.9M273.5 89.4h.9M211.4 58.5h.9M225.1 83h.9M255.9 74.7h.9M222 81.3h.9M283.3 82.8h.9M214.5 81.4h.9M286.1 61h.9M227.6 51.1h.9M226 94.8h.9M243.8 92.2h.9M260.2 73.7h.9M286.5 81.1h.9M247.8 54.3h.9M280.3 71.5h.9M279.7 77.6h.9M286.9 82.9h.9M238.8 60.3h.9M247.6 54.4h.9M212.8 95.2h.9M240.7 89.9h.9M238.3 58.4h.9M220.7 88.7h.9M275.2 88.2h.9M232.6 58.5h.9M221.2 87.8h.9M220 68h.9M213 65.7h.9M269.3 57.5h.9M252.1 77.8h.9M251.4 78.8h.9M243 74h.9M285.3 54.7h.9M240.2 87.4h.9M247.7 64.9h.9M264.2 62.4h.9M282.6 80.1h.9M277.2 58.7h.9M279 92.8h.9M225.2 80.5h.9M283.8 87.1h.9M274.5 66h.9M236.5 70.1h.9M273.1 61.8h.9M284.5 61.8h.9M268.3 69.5h.9M268 87h.9M275.7 73.6h.9M278.8 89.2h.9M271.3 55.3h.9M217.1 63.6h.9M227.2 51.7h.9M220.4 92.9h.9M247 53h.9M216.2 75.5h.9M253.5 81.6h.9M282.3 59.6h.9M286.7 96.1h.9M214 96.1h.9M263.7 61.2h.9M222.1 56.6h.9M277.5 80.5h.9M213.5 74.2h.9M219 78.4h.9M236 79h.9M211.5 94.9h.9M262.1 86.1h.9M226.9 64.7h.9M266.5 85.1h.9M284.2 71.1h.9M247.3 95.8h.9M247.3 72.4h.9M287.8 50.5h.9M235.3 93.1h.9" stroke="#000" stroke-width=".9" stroke-opacity="0.47" fill="none"/>
<path d="M254.6 47.8L234.5 99.5H287.7" stroke="#c2c2c2" stroke-width="1" fill="none"/>
<text x="254.4" y="110.2" font-size="8.7">50.47%</text>
<path d="M182.1 60.5H185.1M182.1 89.4H185.1M182.1 118.2H185.1M182.1 139.2H185.1M183.5 80.7H185.1M183.5 75.6H185.1M183.5 72H185.1M183.5 69.2H185.1M183.5 66.9H185.1M183.5 65H185.1M183.5 63.3H185.1M183.5 61.8H185.1M183.5 109.6H185.1M183.5 104.5H185.1M183.5 100.9H185.1M183.5 98.1H185.1M183.5 95.8H185.1M183.5 93.9H185.1M183.5 92.2H185.1M183.5 90.7H185.1M183.5 133.3H185.1M183.5 129.7H185.1M183.5 126.9H185.1M183.5 124.6H185.1M183.5 122.7H185.1M183.5 121H185.1M183.5 119.5H185.1M183.5 51.8H185.1M183.5 121H185.1M183.5 124.2H185.1M183.5 127.4H185.1M183.5 130.6H185.1M183.5 133.8H185.1M183.5 137H185.1M183.5 143.4H185.1M183.5 146.6H185.1M201.7 150.5V153.5M235.4 150.5V153.5M279.3 150.5V153.5M248.6 150.5V152.1M256.3 150.5V152.1M261.8 150.5V152.1M266.1 150.5V152.1M269.6 150.5V152.1M272.5 150.5V152.1M275 150.5V152.1M277.3 150.5V152.1M188.1 150.5V152.1M191.5 150.5V152.1M194.9 150.5V152.1M198.3 150.5V152.1M205.1 150.5V152.1M208.5 150.5V152.1M211.9 150.5V152.1M215.3 150.5V152.1M218.7 150.5V152.1M222.1 150.5V152.1M225.5 150.5V152.1M228.9 150.5V152.1M232.3 150.5V152.1" stroke="#000" stroke-width="1.1" fill="none"/>
<path d="M182.1 47H289.1M182.1 150.5H289.1M185.1 46.4V153.5M289.1 46.4V153.5" stroke="#000" stroke-width="1.35" fill="none"/>
<text x="177.5" y="63" font-size="8.9" text-anchor="end">10<tspan font-size="6.6" dy="-4.3">6</tspan></text>
<text x="177.5" y="91.9" font-size="8.9" text-anchor="end">10<tspan font-size="6.6" dy="-4.3">5</tspan></text>
<text x="177.5" y="120.7" font-size="8.9" text-anchor="end">10<tspan font-size="6.6" dy="-4.3">4</tspan></text>
<text x="177.8" y="142.2" font-size="8.9" text-anchor="end">0</text>
<text x="201.9" y="165.8" font-size="8.9" text-anchor="middle">0</text>
<text x="236.4" y="165.8" font-size="9.2" text-anchor="middle">10<tspan font-size="6.6" dy="-4.3">6</tspan></text>
<text x="280.3" y="165.8" font-size="9.2" text-anchor="middle">10<tspan font-size="6.6" dy="-4.3">7</tspan></text>
<text x="373.6" y="37" font-size="11" text-anchor="middle">B2M  + CVX</text>
<path d="M359.9 78.8h.9M366.7 74.2h.9M373.2 69.1h.9M360.7 78.5h.9M374.2 75.1h.9M364.1 84.2h.9M369.2 70.2h.9M351.2 80.3h.9M371.5 90.3h.9M376.6 79.5h.9M362.2 68h.9M349.4 75.2h.9M364 72.7h.9M355.5 87.3h.9M350.6 93.5h.9M362.9 77.5h.9M365 65.5h.9M367.7 78.8h.9M352.2 92.8h.9M367 77.4h.9M363.6 75.7h.9M358.5 88.1h.9M339.6 96.1h.9M363.8 70.3h.9M367.5 77.8h.9M359 72.3h.9M349.7 93.4h.9M364.3 71h.9M367.3 78.9h.9M368.9 86.5h.9M349.6 71.8h.9M362.6 79.3h.9M362 94.6h.9M351.4 75.5h.9M352.3 86.3h.9M356.5 72.9h.9M356.3 84.3h.9M358.3 63.5h.9M359.5 69.2h.9M351.3 84h.9M375.5 72.6h.9M352.3 90.8h.9M365.3 82.1h.9M373.3 82.6h.9M373.2 78.9h.9M364.3 71.1h.9M369.3 74.5h.9M384.2 91.9h.9M357.7 90.8h.9M362.1 87h.9M360.2 90.4h.9M369.3 72.4h.9M362.1 97.2h.9M368.5 73.2h.9M364.2 78.7h.9M343.7 76.3h.9M357.6 87h.9M354 72.1h.9M365.5 73h.9M358.1 82.9h.9M366 75.1h.9M347.8 92.3h.9M332 95.5h.9M356.8 83.7h.9M359.1 73h.9M355.5 82.2h.9M346.2 80.3h.9M366 83.6h.9M370.7 63.9h.9M361.9 86.8h.9M352.4 84.2h.9M351.9 85.5h.9M380.8 77.7h.9M360.1 83.2h.9M357.5 68.1h.9M372 78.2h.9M357.3 59.8h.9M353.5 89.1h.9M366.2 74.6h.9M361.3 69.6h.9M364.3 80h.9M367 74.8h.9M363.3 96.9h.9M357.6 80.3h.9M363.4 96.3h.9M371.7 85.8h.9M352.2 82.6h.9M360 75.4h.9M356.3 96.1h.9M358.4 82.3h.9M357.7 85.3h.9M358 81.5h.9M356.3 74.7h.9M357 81.3h.9M354.4 78.1h.9M336.9 85.5h.9M367.9 74.3h.9M362 96h.9M364.4 92.9h.9M353 86.7h.9M368.7 77.4h.9M354.6 90.4h.9M369.5 87.2h.9M370.9 77.4h.9M371.6 70.2h.9M368.2 73.3h.9M369.6 85.2h.9M368.1 71.4h.9M361.5 63.8h.9M370.1 82.1h.9M366.3 77.3h.9M361.2 82.7h.9M360.7 92.3h.9M369.1 76.5h.9M365.1 67.4h.9M343.7 77.1h.9M367.3 76.8h.9M357.4 74.3h.9M368.4 78.9h.9M357.2 73.4h.9M367.7 73.9h.9M362.6 68h.9M365.9 75.1h.9M347 87.6h.9M369.2 81h.9M365.9 89.7h.9M350.2 87.6h.9M362.4 73.3h.9M368.9 79.2h.9M376.4 76.1h.9M358.5 88.6h.9M373.4 85.3h.9M367.8 85.4h.9M368.1 82.4h.9M352.2 94.3h.9M361.7 73.9h.9M358.8 78h.9M365.7 77.4h.9M360.6 82.7h.9M369.2 76.1h.9M363.6 82.4h.9M365.8 78.5h.9M369.6 72h.9M355.2 71.9h.9M371.6 81.3h.9M364.4 84.3h.9M360.9 74.2h.9M357.9 88h.9M368.1 80.1h.9M370.5 75.6h.9M352.2 72.1h.9M361.8 70.8h.9M361.3 76.3h.9M359.7 75.3h.9M369.5 72.7h.9M351.9 78.6h.9M343.9 89.4h.9M363.3 83h.9M346.7 73.9h.9M364.2 55.2h.9M362.6 86.2h.9M360.4 82.4h.9M352.8 82.3h.9M366.2 86.3h.9M359.6 90.9h.9M344.6 75.3h.9M359.1 81.5h.9M358.2 93.1h.9M368.2 70.9h.9M349.6 86.9h.9M363.5 88h.9M353.7 84.5h.9M344.4 83.1h.9M370.9 68.8h.9M338 86.4h.9M374.2 77.1h.9M342 80.2h.9M365 87.4h.9M371.9 60h.9M343.4 94.4h.9M343.4 81.5h.9M369.6 73h.9M365.8 87h.9M360.4 91.7h.9M365.3 89.8h.9M352.2 87.1h.9M361.7 82.1h.9M373.2 75.1h.9M359.7 87.8h.9M359.8 79.1h.9M374.4 81.7h.9M377.6 72.8h.9M360.2 92h.9M364.6 83.2h.9M358.5 89.2h.9M352.2 81.6h.9M355.4 82h.9M350 78.3h.9M345.2 90.2h.9M343.6 92.3h.9M357.8 91h.9M356.3 74.2h.9M383 93.9h.9M355.5 84.4h.9M364 90.3h.9M369.8 84.4h.9M356.1 63.5h.9M358.3 81.3h.9M365.8 90.9h.9M365.6 57.7h.9M360.7 88.4h.9M352.7 79.6h.9M345.4 88.6h.9M364.7 81h.9M350.7 72.9h.9M376.4 72.5h.9M355 80.3h.9M363.8 73.3h.9M370.6 80.9h.9M387.6 93h.9M351.1 91.5h.9M375.1 76.5h.9M360.2 81.8h.9M356.5 78.6h.9M358.8 85.4h.9M363.2 93.1h.9M358.3 85.2h.9M363.5 78h.9M370.9 96.2h.9M346 78h.9M362.1 85.8h.9M380.9 72.3h.9M364.4 81.5h.9M352.7 77.9h.9M369.4 66h.9M352.9 85.2h.9M359.4 83.6h.9M351 78.3h.9M354.1 77.3h.9M368.4 81.2h.9M369 84.8h.9M352.1 83h.9M356.4 78.8h.9M358 77.5h.9M361.9 85.1h.9M354.2 85.8h.9M358.4 92h.9M369.8 95h.9M356.7 94.6h.9M357.8 71.6h.9M358.3 82.7h.9M351.2 84.9h.9M353.9 83.6h.9M351.5 77.8h.9M357.4 80.8h.9M356.8 75.2h.9M359.9 85.2h.9M353.5 87.2h.9M365.9 66h.9M360.6 67.2h.9M359.2 78.7h.9M370.4 80.5h.9M364.8 83.1h.9M357.9 83.2h.9M347.6 62.6h.9M379.4 64.4h.9M365.1 72.3h.9M367.1 74.4h.9M352.1 77.3h.9M363.2 76.3h.9M375.5 65.7h.9M374.5 95.3h.9M371.6 80.2h.9M369.4 74h.9M365.1 78.2h.9M372.2 72.6h.9M362.8 81.9h.9M362.5 77h.9M355.1 85.5h.9M385.3 73.3h.9M365.9 85.2h.9M362.3 83.3h.9M376.6 82h.9M357.2 86.1h.9M356.2 76.5h.9M346.9 76.4h.9M357.5 78h.9M356.8 83.9h.9M366.1 81.4h.9M363.5 89h.9M353.1 82.1h.9M354.6 79.1h.9M362.3 87.2h.9M360.8 91.7h.9M365.7 74.2h.9M366.9 80.3h.9M366.9 89.2h.9M352 90.6h.9M364 78.9h.9M341.7 77.3h.9M367 88.7h.9M363.1 85.6h.9M356 86.1h.9M351.7 84h.9M349.6 78.8h.9M376 70.2h.9M357.6 83h.9M362.9 89.6h.9M362.9 69.8h.9M369.3 88.1h.9M368.7 76.5h.9M355.2 95.7h.9M347.6 82.6h.9M387.9 65.7h.9M364.7 89.4h.9M358.3 84.4h.9M355.5 72.8h.9M366.7 74.7h.9M352.9 91.8h.9M356.8 72.5h.9M354.1 74h.9M366.4 79.7h.9M357.7 75.7h.9M358.7 89h.9M348.6 80.2h.9M333.5 85h.9M364.8 72.2h.9M353.5 79.4h.9M373.3 72.9h.9M357.8 85.8h.9M361.2 73.3h.9M362.9 89.6h.9M366.4 79.3h.9M362.2 84.5h.9M349.4 75.3h.9M363.8 64.6h.9M347 67.8h.9M348.8 88.4h.9M356.6 82.6h.9M367.3 83.3h.9M357.4 96.8h.9M365.3 76.3h.9M365.1 76.4h.9M378.7 73h.9M361.3 94.5h.9M362.1 73.8h.9M349.5 94.9h.9M355.9 83h.9M359.6 79.6h.9M366.6 84.6h.9M356.5 77.9h.9M355.2 76.5h.9M358 89.3h.9M356.6 84.5h.9M361.5 78.9h.9M364 78.3h.9M367.2 81.5h.9M366.5 74.5h.9M372.6 80h.9M347.7 94.4h.9M362 93.5h.9M364 90.3h.9M358.5 90.6h.9M367.6 75.2h.9M366.5 78.7h.9M356.9 79.3h.9M369.2 73.9h.9M359.7 87.3h.9M363.2 91.7h.9M361.8 69.3h.9M360.5 74.8h.9M369.7 72.1h.9M359.1 74.4h.9M361 70.8h.9M353.8 82.2h.9M358 94.7h.9M363 86.4h.9M339.5 97h.9M363.5 80.1h.9M361.1 67.3h.9M363.6 85.7h.9M360.2 85.8h.9M364.4 70h.9M360.7 83.6h.9M367.1 75.7h.9M375.3 67.1h.9M361.9 72.5h.9M364.8 73.1h.9M360.3 74h.9M364 83.4h.9M363.8 82.8h.9M362 83.6h.9M368 75.2h.9M345.9 88.7h.9M366.3 95.4h.9M357.9 67.9h.9M358.4 93.7h.9M360.8 84.8h.9M355 86.4h.9M361.6 76.8h.9M366.1 76.2h.9M366.8 67.4h.9M358.6 71.5h.9M354.1 85.5h.9M355.5 71.3h.9M368 83.9h.9M375.7 80.8h.9M329.6 74.2h.9M356.9 71.2h.9M347 93.8h.9M366.7 79.5h.9M364.1 80.4h.9M365.8 81.9h.9M370.1 81.6h.9M366.7 85h.9M362.3 96h.9M363.1 80.4h.9M373.1 80.6h.9M352.8 73.5h.9M359.9 81.3h.9M345.8 81.8h.9M374.9 83.8h.9M356.6 89.4h.9M351.5 77.2h.9M353 86.3h.9M358.4 83.7h.9M371 76.4h.9M370.8 84.1h.9M375.2 79.9h.9M361.2 58.9h.9M358.7 94.9h.9M362 76.7h.9M369.7 70.8h.9M383.9 77.8h.9M348.1 88.4h.9M343.6 82.2h.9M358.6 72h.9M357.8 84.4h.9M356.1 92.9h.9M369.2 88.7h.9M353.4 85.6h.9M340.6 92h.9M366.5 91.7h.9M359.4 78.9h.9M371 87.1h.9M368.5 78.4h.9M362.6 82.6h.9M357.4 82.2h.9M356.2 87.6h.9M345.5 88.6h.9M354 80.7h.9M367.5 76h.9M362.7 74.9h.9M377.5 72.7h.9M359.3 83.6h.9M345.2 90.5h.9M365.9 76.6h.9M367.4 75.3h.9M347.5 91h.9M359 78h.9M364.6 76.7h.9M354.1 92.2h.9M356.7 83h.9M353.5 85.6h.9M349.9 87.3h.9M350.5 90.4h.9M362.8 83.7h.9M359 86.8h.9M348.4 76.6h.9M335.5 90.4h.9M363.3 57.6h.9M356 92h.9M363.5 89.4h.9M356.5 95.9h.9M363.7 81h.9M353 97.1h.9M360.7 81.5h.9M358.2 82.6h.9M361.1 68.4h.9M348.4 83.8h.9M352.7 82.4h.9M362 88.8h.9M383.2 80.3h.9M346.7 87.7h.9M363.9 82.8h.9M356.1 87.4h.9M359.4 76.1h.9M358.3 68.8h.9M358.2 77.2h.9M356.4 72.6h.9M361 78.9h.9M354.9 84.7h.9M357.7 82.4h.9M346.5 90.4h.9M359.3 87h.9M350.3 81.2h.9M361.7 88.8h.9M359.1 68.7h.9M363.3 80.6h.9M365.3 81.9h.9M365.5 71.7h.9M335 86.2h.9M366 83.6h.9M357.2 78.6h.9M362.4 87.3h.9M352.9 93.9h.9M364.3 79.3h.9M369 76h.9M372 82.3h.9M360.9 84.9h.9M361.3 73.5h.9M367.9 78.2h.9M376.5 75.5h.9M370.4 76.7h.9M361.9 82.6h.9M360.2 80.9h.9M360.9 80.7h.9M358.1 75.7h.9M350.4 76.9h.9M370.6 84.5h.9M352.1 82.5h.9M354.7 88h.9M356.8 71.8h.9M356.2 86.4h.9M354.8 78.9h.9M362.2 72.2h.9M356.1 76.8h.9M362.8 88.4h.9M368.2 86.3h.9M353.2 69.1h.9M355.6 87.6h.9M379.2 76.4h.9M351.6 77.8h.9M370.4 80.9h.9M372.2 69.3h.9M351.2 80h.9M359.3 79.8h.9M351.8 84.2h.9M362.7 68.6h.9M366.3 96.9h.9M349.6 85.7h.9M367.3 70.9h.9M370.6 82.2h.9M352.8 86.8h.9M374.6 83.4h.9M360.5 79.7h.9M382.6 69.5h.9M373.8 73.5h.9M356.3 86.3h.9M357.1 82.6h.9M352.7 86.5h.9M367.7 91.1h.9M357.7 78.2h.9M363.6 75.2h.9M359.3 79.9h.9M350.8 93.6h.9M355.3 89.1h.9M374.8 79.9h.9M363.7 68.4h.9M359.8 84.7h.9M358.2 82.1h.9M357.5 81.6h.9M360.8 83.1h.9M339 80.3h.9M368.1 79h.9M355.4 86.8h.9M355.4 73.4h.9M339.8 95.6h.9M368 89.9h.9M368.9 72.8h.9M371 72.7h.9M360.4 75.1h.9M350.6 81.1h.9M346 88.8h.9M374.3 83.4h.9M365.3 85.5h.9M361.8 75.1h.9M361.8 89.5h.9M353.2 86h.9M364 73.6h.9M354.2 90h.9M363.4 72.2h.9M340.7 82.6h.9M357.9 94.8h.9M341.4 79.9h.9M372.4 78.2h.9M340.2 83.3h.9M351 88.4h.9M364.4 77.6h.9M360 78.6h.9M368.5 57.9h.9M374 71.6h.9M364.7 78.7h.9M361.8 73.5h.9M345.4 92h.9M357 92.8h.9M354.6 80.1h.9M359.6 84.8h.9M344.7 83.4h.9M354.2 89.6h.9M355.9 90.6h.9M378.2 90.6h.9M366.9 85.1h.9M359.1 86.6h.9M363.4 91.8h.9M358.3 75.1h.9M358.8 92.3h.9M355.8 80.7h.9M344.1 88.3h.9M369.6 84.9h.9M368.5 78.4h.9M368.1 87.9h.9M358 71.5h.9M363.9 81.9h.9M373.9 68.2h.9M360.5 79.7h.9M342.1 78.8h.9M355.5 93.4h.9M366.4 79.7h.9M364.5 71h.9M360.7 70.5h.9M363.2 72.9h.9M367 89.3h.9M347.9 90h.9M353.1 84.4h.9M347.8 95.1h.9M357 84.6h.9M350.2 91.2h.9M363.7 86.1h.9M360 85.2h.9M361 71.7h.9M366.2 78.6h.9M347.7 88.1h.9M361.6 82.2h.9M365.5 78.3h.9M355.2 80.5h.9M365.4 75.8h.9M365.2 86.8h.9M366.3 73.4h.9M356.6 74.4h.9M361.1 86.7h.9M367.9 85.1h.9M365.1 76.7h.9M362.5 81.8h.9M353.2 80.3h.9M353 85.7h.9M361.4 90.8h.9M358.6 90.2h.9M362.2 82.2h.9M360.2 80h.9M352.9 73.8h.9M361.2 84.3h.9M363.1 84.2h.9M376.5 79.8h.9M377.4 87.2h.9M356.9 87.9h.9M367.1 85.6h.9M353 78.1h.9M364 89.9h.9M361.5 88.8h.9M360.4 93.7h.9M351.9 93.9h.9M367.4 89.8h.9M366.7 72.3h.9M355.4 91.2h.9M368.2 85.9h.9M353.8 80.3h.9M357.7 74.6h.9M355.3 89.5h.9M358.6 84.6h.9M361.5 86.6h.9M358.7 77.2h.9M360.2 85.3h.9M363.7 77.1h.9M358.6 81.2h.9M357.2 75.2h.9M366 85.2h.9M364.3 95.9h.9M346.1 81h.9M394.6 60.9h.9M404.3 66h.9M379.4 66h.9M397.1 76.1h.9M389.6 78.9h.9M411.6 91.2h.9M406.5 76.3h.9M404.2 68.9h.9M404.1 75.2h.9M412.5 72.3h.9M397.6 69.6h.9M393.9 83.3h.9M407.6 61.8h.9M398.8 81.3h.9M397.2 50.7h.9M410.8 75.7h.9M422.5 87.8h.9M405.7 54.8h.9M392.7 87.7h.9M413.7 74.8h.9M396.6 74.1h.9M394.9 81.3h.9M401.3 56.6h.9M396.9 65.7h.9M378.8 74h.9M407.2 86.5h.9M398.2 62.3h.9M415 62.8h.9M393.5 92.9h.9M398.7 69.7h.9M400.4 78.4h.9M391.7 88.6h.9M397.5 73.8h.9M393.6 88.2h.9M399.6 79.7h.9M403.5 56.8h.9M395.3 64.1h.9M400.1 64.3h.9M406.5 70.9h.9M414.7 79.6h.9M418.8 75.1h.9M398.1 86.1h.9M407.4 83h.9M407.9 68.9h.9M406.5 86.8h.9M400.8 79.2h.9M412 67.5h.9M408.7 61.3h.9M398.8 79.8h.9M412.1 91.7h.9M396.4 64h.9M403.8 72.9h.9M394 77.2h.9M412.9 75.4h.9M419.2 80.2h.9M400.3 72.7h.9M414.5 67.4h.9M411.5 71.8h.9M395.1 57.8h.9M417 50h.9M407.9 65.8h.9M380.6 68.4h.9M409.2 76h.9M406 76.7h.9M400.9 80.8h.9M395.6 67.2h.9M398.2 69.1h.9M397.1 72h.9M403.2 81.4h.9M399.4 63.1h.9M404.5 95.5h.9M409.7 70.4h.9M385.7 63.2h.9M416.6 81.7h.9M390.1 94.8h.9M407.4 58.5h.9M393.3 89.3h.9M383.4 72.1h.9M407.3 70.8h.9M380 66.6h.9M392.1 72.7h.9M409.4 85.2h.9M400.8 71.4h.9M398.6 64.3h.9M407.7 82.2h.9M403.1 72.9h.9M406.3 72.5h.9M403.2 83.7h.9M389.8 75.1h.9M419.3 63.4h.9M381.2 70.4h.9M420.3 72.9h.9M390.6 65.9h.9M405.7 59.7h.9M393.5 76.4h.9M410.7 74.6h.9M409.8 76.2h.9M403.7 78.6h.9M408.1 75.3h.9M401.5 83.5h.9M401.2 75.1h.9M385.3 67.8h.9M388.8 56.4h.9M384 63.2h.9M394 85.8h.9M398.3 76.6h.9M400.5 74.9h.9M398.8 83.3h.9M407.8 62.9h.9M396.8 66.2h.9M395.3 60h.9M383.3 70.8h.9M409.3 84.6h.9M414.8 71.6h.9M383.7 79h.9M402.1 70.4h.9M406 76.5h.9M411.6 87.4h.9M398 70.8h.9M397.4 84.4h.9M412.3 79.2h.9M381.9 75.2h.9M389.3 81.1h.9M409.7 63.4h.9M392.6 76.6h.9M414.3 71.7h.9M399.3 82.1h.9M408.5 79.9h.9M412.2 70.8h.9M400.1 69.2h.9M408.4 58.6h.9M390.1 67.9h.9M404.9 69.6h.9M403.1 87.6h.9M410.7 78.9h.9M415.2 65.6h.9M411.3 75.2h.9M398.5 70.3h.9M387.3 88.2h.9M409.2 84.3h.9M398.3 87.6h.9M400.3 64.2h.9M401.8 83.4h.9M410.5 76.3h.9M401.9 86.7h.9M413.5 60.2h.9M391.5 81.4h.9M405.9 75.8h.9M404.4 73.8h.9M392 78.2h.9M408.2 71.6h.9M398.2 60.1h.9M408.7 69h.9M388.6 89h.9M410.7 78.2h.9M390.8 92.5h.9M420.9 65.1h.9M420.2 86.6h.9M397.8 77.3h.9M399.4 64.8h.9M408.3 73.3h.9M394.7 83.8h.9M412.3 62.4h.9M396.1 73.5h.9M396.4 91.9h.9M410.5 63.8h.9M394.1 50.7h.9M407.3 63.3h.9M407.7 72.1h.9M406 88.3h.9M402.9 64h.9M406.4 55.4h.9M415.5 74.3h.9M406.4 58.5h.9M398.5 81.6h.9M411.5 69h.9M413 71.1h.9M393.7 86.8h.9M384.3 81.9h.9M405.7 86h.9M399.2 71.7h.9M400.6 68.2h.9M416.2 87.3h.9M408.4 79.9h.9M393.3 69.9h.9M398.9 71.4h.9M403.5 68.6h.9M399.1 66.6h.9M387.1 64.8h.9M409.7 76.9h.9M405.4 82.5h.9M408.4 69.5h.9M396.1 76.6h.9M413 62.5h.9M406.8 78.3h.9M395.6 66.9h.9M395.2 79.1h.9M395.8 74.5h.9M408.3 77.1h.9M404.2 75.9h.9M388.6 72.8h.9M390.7 80.8h.9M415.8 83.8h.9M395.5 68.2h.9M406.3 71h.9M404.3 61.2h.9M409.8 83.9h.9M390.2 90.5h.9M397.9 73.5h.9M382.5 83.4h.9M392.8 83.8h.9M414.2 70.7h.9M410.4 73.6h.9M388.3 72.8h.9M410.3 88.2h.9M399.6 74h.9M384 83.3h.9M405.7 71.4h.9M395.3 74.1h.9M408.1 56.6h.9M391.2 79.9h.9M407.1 66h.9M394.3 77.5h.9M394.8 57.2h.9M400.4 85.4h.9M402.2 65.8h.9M408.6 84.6h.9M401.4 84.2h.9M405.9 79.1h.9M406.1 71.7h.9M414.2 78.2h.9M408.5 60h.9M399.1 62.6h.9M379 63.3h.9M387.8 88.9h.9M401.4 78.9h.9M402.4 67.3h.9M404 92.2h.9M400.6 88h.9M403.7 74h.9M397.3 74.8h.9M419.4 67.5h.9M398.7 68.3h.9M401.9 68h.9M417.7 64.3h.9M403.7 81.9h.9M417.5 85.5h.9M394.7 81.5h.9M389.1 62.4h.9M412.9 69.6h.9M419.4 70.1h.9M400.5 74h.9M409.8 88.7h.9M411.2 90.3h.9M388.9 82.4h.9M399 71h.9M400.2 56.8h.9M392.6 96.8h.9M395 96.2h.9M414.6 66.3h.9M383.4 81.1h.9M398.1 67.8h.9M383.9 77.2h.9M394.2 59.6h.9M396.2 61h.9M390.9 64.7h.9M405.3 66.8h.9M405.5 76.4h.9M410 73.2h.9M412.3 59.5h.9M403.2 61.9h.9M398.1 79.8h.9M401.7 84.1h.9M398.4 74.9h.9M401.1 76.6h.9M400.1 72.3h.9M394.5 76.6h.9M406 69.3h.9M393.7 68.2h.9M412.1 77.1h.9M390.2 66.1h.9M409 71.9h.9M384.8 77h.9M422.5 69.6h.9M410.6 76.2h.9M398.4 66.4h.9M402.1 67h.9M399.6 59.6h.9M405.8 68.1h.9M406.5 74.7h.9M420.4 89.5h.9M382.2 80.6h.9M412.7 79.3h.9M395.8 73.9h.9M402.3 78.4h.9M422.5 59.4h.9M395.5 92.5h.9M405.6 76.2h.9M407.5 63.4h.9M407.5 66.5h.9M410.3 65h.9M403.9 91.1h.9M385.4 74.5h.9M401.9 66.7h.9M390.9 70.2h.9M404.5 55.2h.9M397.3 68.3h.9M411.5 78.6h.9M420.8 82.1h.9M410.8 83.8h.9M393.8 67.1h.9M398.8 80.3h.9M393.2 68.6h.9M402.7 80.7h.9M413.2 79h.9M398.4 89.1h.9M400.1 91.2h.9M403.6 69.8h.9M388.4 62h.9M381.5 71.7h.9M400 75.6h.9M400.4 86h.9M423.4 64.3h.9M390.5 85.3h.9M412.5 60.7h.9M399.3 82.4h.9M412.6 76.5h.9M400.1 76.1h.9M391.6 71.6h.9M415.7 72.4h.9M409.9 69.8h.9M403.3 78.7h.9M387.2 75h.9M413.9 57.3h.9M397.1 53.7h.9M387.7 62.5h.9M398.6 75.5h.9M400.5 69.6h.9M406.9 76.6h.9M419.9 72.1h.9M396.3 82h.9M415.8 83.6h.9M393.2 77.6h.9M415.4 67.6h.9M402.9 52.8h.9M402.5 75.7h.9M402.8 68.2h.9M408.6 61.6h.9M404.9 79.8h.9M382.5 71.9h.9M409 66.4h.9M398.9 65.8h.9M401.8 76.6h.9M413.5 64.4h.9M400.7 70.4h.9M389.1 86.9h.9M395.4 65.3h.9M405.9 77.7h.9M407.8 55.3h.9M405.4 76.7h.9M390.1 68.4h.9M415 77.9h.9M395.8 66.8h.9M402.8 91.9h.9M399.4 70.9h.9M404.4 79.8h.9M409.1 62h.9M421 58.2h.9M395.7 83.4h.9M406.2 88.9h.9M402.4 84.7h.9M403.5 83.2h.9M410.8 88.7h.9M397.2 70.1h.9M418.2 72.2h.9M395.2 85.3h.9M382.1 79h.9M395.2 91.9h.9M406.9 64.1h.9M422.5 72.3h.9M389.6 84.2h.9M393.1 87.9h.9M404.7 74.4h.9M394 55.2h.9M411.8 68.6h.9M395.7 67.4h.9M416.7 76.1h.9M416.6 80.4h.9M398.9 78.7h.9M401.1 50.2h.9M403.5 75.2h.9M397.1 84.3h.9M404.9 81.9h.9M391.1 85.3h.9M393.2 67.8h.9M407.4 64.5h.9M387.9 79.7h.9M422 74.4h.9M408.8 53.3h.9M399.4 67.7h.9M395.1 83.5h.9M387.9 74.6h.9M396.9 74.6h.9M393.8 84h.9M391.3 81.9h.9M398.8 75h.9M410.5 82.3h.9M408.9 71.6h.9M385.1 77h.9M409.6 56.6h.9M413.9 69.5h.9M402.3 63.5h.9M399 80h.9M411.9 59.8h.9M404.2 79.8h.9M411.2 58.4h.9M407.2 64.7h.9M390.5 77h.9M402.3 79.8h.9M405.9 54h.9M421 75.2h.9M401.1 75.4h.9M401.6 71.4h.9M409.2 76.8h.9M397.1 80.1h.9M401.7 76.3h.9M398 79.4h.9M394.2 73.9h.9M397.9 65.5h.9M391.4 78.4h.9M414.9 74.3h.9M398 70h.9M403.5 65.8h.9M403.9 64.5h.9M414.6 67.7h.9M420.7 79.5h.9M399.2 63.5h.9M405.3 78.6h.9M406.3 70.2h.9M394.7 80h.9M404.5 78.9h.9M396.9 61.4h.9M408.1 79h.9M406.4 71.7h.9M388.5 77.6h.9M422 71.4h.9M405.3 83.5h.9M413.2 77.1h.9M391 66.7h.9M405.5 65.1h.9M396 74.6h.9M401.1 85.7h.9M401.5 97h.9M386 66.7h.9M395.4 84.1h.9M404.3 69.2h.9M418 67.7h.9M389 92.3h.9M385.1 78.1h.9M402.5 70.7h.9M401.4 58.6h.9M398 67.6h.9M404.3 71.8h.9M401.4 67.5h.9M407.6 71h.9M400.2 52.7h.9M423.2 81.4h.9M404.5 91.1h.9M404.8 81.9h.9M393.6 65.7h.9M381.2 69.5h.9M394.1 71.8h.9M397.4 77.3h.9M414.9 91.8h.9M416 75.4h.9M395.9 74.7h.9M405 89.6h.9M407.2 86.6h.9M402.5 74h.9M423.5 63.3h.9M406.1 73.8h.9M405.8 58.6h.9M396.1 64h.9M388.8 91.3h.9M411.8 76.4h.9M387 74.1h.9M382.2 76.9h.9M400.1 86h.9M406.8 96.8h.9M395.2 77h.9M414.3 68.6h.9M420 78.6h.9M381.3 80.7h.9M393.6 69.6h.9M416.1 90.3h.9M398.9 74.3h.9M405.5 67.4h.9M400.5 80.2h.9M408.3 82.5h.9M420.6 69.2h.9M392.3 90h.9M397.5 75.5h.9M404.6 70.2h.9M397.2 86.1h.9M408.4 86.4h.9M395.6 85.8h.9M416.7 82.6h.9M392.1 74.9h.9M410.7 70.6h.9M421.3 75.1h.9M412.1 80.7h.9M402.4 79.1h.9M397 67.4h.9M397.1 70h.9M393.9 83.5h.9M410.7 67.1h.9M401.5 71.1h.9M395.7 60.1h.9M388.7 81.6h.9M411.1 69.8h.9M420.6 61.3h.9M395.1 61.8h.9M391 84.3h.9M389.7 65.1h.9M397.5 71.8h.9M401.2 76.5h.9M402.4 68.3h.9M395 75h.9M394.3 66h.9M384.1 70.1h.9M402.4 73.2h.9M405.8 64.6h.9M410.4 86.1h.9M393.6 60.1h.9M400.3 83.9h.9M410.1 84.4h.9M386 65.9h.9M414.3 67.5h.9M385.5 72.1h.9M413.1 67h.9M404.7 94.2h.9M401.2 75.6h.9M409.5 68.3h.9M400.9 64.9h.9M398.4 84.2h.9M403.5 90.4h.9M405.8 66.1h.9M393.7 84h.9M408.4 71.6h.9M405.3 83h.9M389.7 65.8h.9M416 55.5h.9M405.9 57.9h.9M410.7 70h.9M401.9 91.2h.9M406.3 73.3h.9M412.1 80.7h.9M394 69.9h.9M406.8 61.1h.9M384.7 83.3h.9M404.4 72h.9M403.5 73.8h.9M396.2 79.5h.9M403 53.6h.9M394.2 84.4h.9M398.9 71.8h.9M407.1 76.9h.9M387.3 91.1h.9M402.6 92.3h.9M398.2 83.6h.9M392.6 58h.9M406.3 65.6h.9M394.7 61.9h.9M410.8 77.5h.9M403.1 72.4h.9M402.4 80.9h.9M398 57h.9M392.9 51.3h.9M410.9 52.9h.9M404.3 67.1h.9M395.4 59.6h.9M396.8 83.4h.9M404.9 75.3h.9M399.7 88h.9M419 75.1h.9M401.2 88.5h.9M398.1 74.2h.9M398.1 81.7h.9M403.9 81.4h.9M396.8 65.1h.9M408.8 86.1h.9M410.1 77.3h.9M394.5 81.5h.9M405.4 59.4h.9M414.3 70.4h.9M421.6 61.6h.9M403.7 87.8h.9M402.5 77.2h.9M414.2 68.4h.9M392.4 73.6h.9M409.7 75h.9M386.2 72.3h.9M408.5 72h.9M399.2 87.4h.9M395.2 59.2h.9M382.4 84.1h.9M420.6 64.8h.9M399.1 70.2h.9M399.2 83.5h.9M410 52.6h.9M416.5 70.5h.9M413.3 87.5h.9M411.6 73.4h.9M410.3 73.9h.9M393.6 89.1h.9M403.8 68.3h.9M405.6 79.2h.9M410.9 64.6h.9M408.6 62.8h.9M388 72.6h.9M396.3 77.9h.9M407.8 76.1h.9M402.4 66.6h.9M402.4 79.8h.9M400.4 74.7h.9M397.9 64h.9M397.8 66.2h.9M403.4 60.9h.9M401.4 71h.9M395 80.6h.9M400.3 95.2h.9M398.7 62h.9M384.8 66.5h.9M405.3 81.1h.9M397 74.6h.9M379.2 78.9h.9M414.6 69h.9M392.2 59.2h.9M391.9 81.9h.9M392.6 73.6h.9M378.2 70.7h.9M397.7 82.1h.9M366.6 70h.9M366.7 73h.9M373.7 78.5h.9M400 69.6h.9M397.1 65.1h.9M363.5 64.5h.9M392.1 66.9h.9M377.8 77.4h.9M403.7 89.4h.9M382.5 89.6h.9M391.6 71.5h.9M373.9 69.3h.9M378.2 81.5h.9M374.6 68.1h.9M382.8 77.4h.9M375 83.6h.9M362.5 83h.9M400.7 67.5h.9M374 77h.9M356.5 84.6h.9M371.6 78.6h.9M392.4 61.9h.9M362 89.2h.9M378.9 83.4h.9M362.6 95.7h.9M399.4 80.9h.9M386.4 78h.9M378.8 66.1h.9M404.7 83.5h.9M404.3 74.8h.9M395.7 76.4h.9M379.3 91h.9M358.2 74.3h.9M366.4 81h.9M357.5 84.6h.9M406.3 74h.9M372.7 69.1h.9M380.2 73.5h.9M389.1 87.2h.9M406.4 68.3h.9M371.9 77.7h.9M402.2 83.4h.9M377.7 64.6h.9M380.4 81.3h.9M356.9 87.9h.9M393 74.6h.9M370.3 79.7h.9M371.1 73.5h.9M383.7 77h.9M375.4 66.1h.9M395.5 73.4h.9M370.9 78.9h.9M386.1 82.8h.9M381.4 71.5h.9M377.5 71.5h.9M389.8 75.3h.9M382.7 88h.9M384.9 52.8h.9M372.4 82.5h.9M366.2 91.3h.9M373.4 66.2h.9M389.9 62.1h.9M377 85.2h.9M369.2 74.7h.9M373.3 74.2h.9M389.7 88.9h.9M373.9 70.7h.9M379.9 68.1h.9M349.9 70.5h.9M392.6 58.4h.9M381.4 63.5h.9M377.8 95.7h.9M401.4 77h.9M379.7 64.1h.9M405.9 82.1h.9M369.9 90.6h.9M398.6 64.3h.9M384.2 82.7h.9M358 93.5h.9M385.5 65.9h.9M368.8 65.3h.9M364.3 76.6h.9M377.6 78.2h.9M356 87.1h.9M383.6 67.2h.9M381.9 85.7h.9M372.3 70.4h.9M400.5 74.2h.9M378.4 72.9h.9M372.9 82.1h.9M364.1 74.5h.9M379.4 77.1h.9M389 63.6h.9M365.6 67.3h.9M368 83.6h.9M390.6 70.2h.9M384.5 82.8h.9M381.1 79.1h.9M399.8 55h.9M363.3 80.2h.9M371.4 56.4h.9M354.6 80.1h.9M382.4 88.8h.9M393.6 84.5h.9M396.5 75.1h.9M366.7 87.6h.9M392.4 75.7h.9M391.3 75.3h.9M371 64.3h.9M404.8 53.6h.9M385.4 85.9h.9M375.1 91.7h.9M386.1 75.8h.9M357.1 86.9h.9M396.5 63.4h.9M389.1 66h.9M371.4 72.3h.9M378.7 57.8h.9M387 74.3h.9M400.5 60.3h.9M372 79.2h.9M359.1 94.9h.9M373.6 73.3h.9M364.5 91.7h.9M371.4 66.4h.9M389.5 82.1h.9M376.1 81.8h.9M368.3 81.6h.9M396.5 73.2h.9M384.2 89.3h.9M380.7 71.6h.9M386.7 62.8h.9M369.5 83.1h.9M415.7 71.6h.9M375.3 72.6h.9M369.7 86.7h.9M374.3 73.5h.9M376.3 85.5h.9M364.6 82.9h.9M372.4 74.3h.9M386.8 88.9h.9M381.4 79.5h.9M377.3 57.5h.9M358.9 86.6h.9M358.7 79.7h.9M383.8 62.1h.9M372.3 75.2h.9M392.1 64.9h.9M383.8 75h.9M360.2 80.1h.9M378 58.8h.9M366 79.4h.9M387 81.8h.9M388.2 58h.9M407.3 67.4h.9M381.3 80.8h.9M386.2 68.6h.9M384.9 77.1h.9M385.9 65.7h.9M348.7 90.7h.9M371 71.5h.9M385.5 78.4h.9M391.6 84.2h.9M368.3 76.5h.9M395 80.5h.9M383.3 52.9h.9M376.9 69.4h.9M372.9 70.4h.9M383.6 92.5h.9M379 71.2h.9M397.2 74.9h.9M388.3 50.9h.9M375.1 80.8h.9M371.8 87.3h.9M370.7 81.7h.9M379.3 49.1h.9M383.4 76.6h.9M387.2 81h.9M391.6 83.8h.9M386.2 77.3h.9M371.1 64.5h.9M367.1 82.1h.9M377 87.9h.9M377.8 69.6h.9M387.1 78.5h.9M373.7 75.5h.9M375.7 80.2h.9M399.3 73.5h.9M371.5 74.3h.9M395.5 97.5h.9M377.1 80h.9M371.7 85.1h.9M359.2 81.1h.9M374.1 80.8h.9M369.4 80.1h.9M383.3 59.7h.9M359.9 72.5h.9M376.6 81.7h.9M387.2 71.7h.9M367 57h.9M376.1 56.7h.9M388.3 68.8h.9M360.6 87.2h.9M378.1 84.2h.9M363.4 73.5h.9M398.3 72.4h.9M377.3 75.1h.9M383.5 69.5h.9M399 64.3h.9M380.4 86.8h.9M383.4 80.6h.9M388.8 80.9h.9M373.9 73.1h.9M393.2 66.2h.9M384.2 62.2h.9M389.1 65.8h.9M378.8 73.3h.9M374 75.4h.9M379.2 84.6h.9M377.8 82.5h.9M364.6 93.5h.9M384.8 75.3h.9M394.2 79.7h.9M380.5 77.7h.9M378.7 87.5h.9M382.7 80.4h.9M385.9 81h.9M383.5 74h.9M395.1 55.2h.9M363.7 71.1h.9M393 89.6h.9M389.7 75.2h.9M382.9 79.7h.9M376.6 77h.9M366.3 79.9h.9M383.1 63.3h.9M396.4 66.7h.9M372.3 80.7h.9M380.3 64.8h.9M380.3 63.4h.9M388.4 64.6h.9M381.3 72.5h.9M382.9 70h.9M393.9 77.2h.9M361.4 75.2h.9M382.4 79.6h.9M361.5 96.7h.9M365.5 73.3h.9M349.2 63.9h.9M389.6 80h.9M393.6 74.1h.9M373.9 74.2h.9M384.2 87.6h.9M375.5 75.1h.9M377.5 79.3h.9M376.9 67.8h.9M385.5 76.9h.9M372.8 76.4h.9M368.8 78h.9M378.9 88.6h.9M390.1 73.2h.9M368.5 67.9h.9M399.6 72.6h.9M381 84.9h.9M391.8 61.3h.9M364.7 81.5h.9M372.4 81.7h.9M384.3 71.7h.9M386.1 74.5h.9M381.1 82.9h.9M401 59.6h.9M390.2 92.5h.9M380.1 69.3h.9M371.1 76.3h.9M407.6 81.3h.9M400.4 89.7h.9M384.8 74.4h.9M360.6 86h.9M379.3 66h.9M379.8 88.7h.9M385.2 75.6h.9M386.5 64.2h.9M373.3 84.8h.9M388.6 86h.9M393 76.4h.9M391.8 92.9h.9M381.5 88h.9M370 87.1h.9M372.3 80.9h.9M368.1 89.4h.9M396.6 79.8h.9M385 82.8h.9M371 92.9h.9M380.9 78.6h.9M368.8 91.2h.9M392.9 67.6h.9M387.4 59h.9M374.5 86h.9M380.3 72h.9M376.7 81.1h.9M369.2 80.4h.9M366.5 66.9h.9M376.4 76.9h.9M367.3 69.3h.9M383.2 77h.9M376.8 77.5h.9M376.5 90.6h.9M379.7 75.7h.9M362.9 90.5h.9M394.9 65.1h.9M358.6 85.2h.9M372.7 66.5h.9M388.2 82.3h.9M385.4 75.4h.9M380.3 70.6h.9M395.1 70.2h.9M365.4 80.9h.9M375.9 71.6h.9M382.7 77.8h.9M379.8 89.5h.9M372 78.6h.9M388 57.3h.9M369.1 76.7h.9M382.6 93.9h.9M373.2 72.3h.9M382.9 87.5h.9M380.7 73.9h.9M380.9 83.9h.9M383.6 73.6h.9M374.3 63.6h.9M383.5 70.5h.9M404.8 84.4h.9M369.8 81.3h.9M401 70.5h.9M373.3 77.1h.9M386.8 71.5h.9M383.1 78.3h.9M378.7 82.5h.9M397.9 66.3h.9M370.6 80.4h.9M368 76.8h.9M385.9 59.7h.9M373.5 63.8h.9M404.2 69.7h.9M390.4 51.4h.9M394.2 83.2h.9M386.6 81.9h.9M387.1 69.6h.9M359.9 76.4h.9M381.9 76h.9M381.6 76.1h.9M379.7 88.7h.9M379.4 69.4h.9M361.8 83.4h.9M389.8 70.6h.9M393.1 66.4h.9M362.5 80.4h.9M373.8 62.6h.9M389.8 54.1h.9M381.5 68.9h.9M367.3 81.8h.9M373.3 91.1h.9M399.8 89.4h.9M408.1 78.4h.9M369.5 87h.9M388.7 91.3h.9M370.6 81h.9M374.3 74.6h.9M393.7 92.9h.9M374.6 68.8h.9M370.3 78.1h.9M402.2 61.2h.9M384.6 89.3h.9M375.1 73.4h.9M395.8 75.8h.9M378.2 73.6h.9M372.1 68.7h.9M391.5 72.6h.9M369 84.9h.9M383 63.1h.9M387.5 63.5h.9M383.7 66.4h.9M382.2 85.6h.9M381.8 80.6h.9M361.7 89.8h.9M380.6 81.6h.9M380.9 71.3h.9M391.7 75h.9M378.7 71.3h.9M369.5 69h.9M367.3 76.8h.9M380.3 78.9h.9M381.7 76.8h.9M398.1 77.4h.9M372.3 63.7h.9M373.3 78.4h.9M380.4 80.7h.9M370.1 72.5h.9M378.3 80.4h.9M353.4 87.9h.9M357 78.4h.9M371.6 93.3h.9M378.8 63.1h.9M383.5 85.2h.9M387.9 66.2h.9M374.5 80h.9M366 94.8h.9M392.9 84h.9M351.9 65.5h.9M350.7 78.9h.9M404.9 85.2h.9M362.3 60.1h.9M359.9 94.9h.9M366.6 60.7h.9M391.9 51.8h.9M366 75h.9M398.7 72.3h.9M396.9 57.3h.9M378.7 72.7h.9M419 62.8h.9M405.8 88.2h.9M358.3 73.1h.9M365.3 74.7h.9M356 56.8h.9M402.4 94.5h.9M362.4 61.9h.9M382.4 77.4h.9M354.7 86.5h.9M415.1 74.5h.9M405 65h.9M398.8 80.2h.9M401.4 83.7h.9M375.5 56.5h.9M362.2 62h.9M349 58.6h.9M379.2 51.1h.9M417.5 79.2h.9M349.7 97h.9M362.5 62.8h.9M388.1 94.1h.9M353.3 68.1h.9M370.5 92.9h.9M405.5 54.4h.9M364.1 64.9h.9M371.1 89.8h.9M369.3 92.7h.9M363.4 87.7h.9M409.7 82.1h.9M420.7 64.6h.9M393.1 96.3h.9M367.2 77h.9M366.3 88.5h.9M400.7 68.7h.9M403 94.1h.9M410.5 79.3h.9M358.1 83.4h.9M362.9 56.7h.9M373.8 69.5h.9M380.6 54.6h.9M410.3 66.6h.9M354.3 76.7h.9M370.6 63.7h.9M356.5 50.3h.9M409.6 70.2h.9M402.3 85.6h.9M409.8 67.8h.9M372 86.5h.9M388 68.2h.9M415.9 75.8h.9M349.2 64.2h.9M409.2 54.1h.9M406.7 86.7h.9M381.1 74.1h.9M407.2 87.3h.9M405.9 86.9h.9M361.4 86.6h.9M422.1 67.9h.9M420 63.8h.9M367.3 60.6h.9M421.1 72h.9M389.6 78.4h.9M386.9 90.5h.9M407.2 96.9h.9M418.1 84.3h.9M367.3 76.7h.9M357 63.6h.9M412.2 77.4h.9M381.6 63.3h.9M390 90.9h.9M384.5 60.7h.9M415.2 69.3h.9M391.3 60.6h.9M401.8 60.2h.9M406.7 85.9h.9M347.8 59.5h.9M390.8 65.1h.9M394.1 52.1h.9M355.6 92.8h.9M360.5 92.2h.9M352.8 67.7h.9M379.5 93.2h.9M407.3 60.8h.9M366.5 61.9h.9M414.7 76.1h.9M352.8 60.2h.9M374.1 92.6h.9M365.5 95.6h.9M421.3 55.8h.9M360.5 71h.9M413.2 69.9h.9M387.5 96.5h.9M368.4 96.3h.9M379.8 52.9h.9M357.7 94.9h.9M394.4 80.4h.9M398.9 72.2h.9M381.7 70.5h.9M408.6 90.2h.9M406.6 56h.9M399.6 68.7h.9M405.5 54.7h.9M380.6 68.7h.9M359.6 87.6h.9M388.3 89.1h.9M383.2 56.6h.9M359 61.7h.9M401.2 82.9h.9M381.8 58.1h.9M399.6 52.3h.9M362.3 90.8h.9M365.6 51.1h.9M354.9 91.9h.9M417.5 78.2h.9M400.7 68.6h.9M371.4 64.1h.9M351.6 68.4h.9M373.5 92.2h.9M407.7 77.2h.9M416.8 56.8h.9M360.4 76.4h.9M418.8 64.7h.9M363.1 92.4h.9M350.3 57.5h.9M357.8 73.3h.9M349 51.1h.9M366.2 62.4h.9M406.9 83.3h.9M384.5 78.9h.9M408.6 93.2h.9M354.7 57.3h.9M405.2 71.9h.9M358.1 54.8h.9M372.4 82.7h.9M419.5 54.9h.9M403.8 93.4h.9M403.8 72.9h.9M397.3 75.4h.9M375.9 67.3h.9M395.9 68.7h.9M380.7 91.1h.9M408.5 85.7h.9M399.5 68.2h.9M416.1 88.4h.9M412 67.8h.9M412.2 53.8h.9M354.9 60.7h.9M349.2 69.9h.9M377 70.8h.9M420.4 58.2h.9M394.3 83.1h.9M392.1 61.2h.9M411.2 80.6h.9M396.4 74.8h.9M356.3 80.4h.9M384.1 92h.9M414.4 83.4h.9M409.7 78.9h.9M352.3 82.1h.9M424.5 74.3h.9M387.7 96.7h.9M369.9 88.4h.9M380.8 57.4h.9M420.2 57.3h.9M416.6 70.5h.9M375 93.3h.9M396.7 56.7h.9M353.1 61.2h.9M408.6 97h.9M353.4 85.1h.9M402.8 75.6h.9M372 57.8h.9M359.3 51.5h.9M358.7 65.5h.9M422.5 58.9h.9M364.7 91.5h.9M383.8 74.3h.9M359.6 73.8h.9M385.4 78.8h.9M410.8 73.2h.9M366.8 61.2h.9M402.6 84.5h.9M375 84.7h.9M357.2 92.7h.9M410.2 73h.9" stroke="#000" stroke-width=".9" stroke-opacity="0.47" fill="none"/>
<path d="M391.1 47.8L371 99.5H424.2" stroke="#c2c2c2" stroke-width="1" fill="none"/>
<text x="390.9" y="110.2" font-size="8.7">48.97%</text>
<path d="M318.6 60.5H321.6M318.6 89.4H321.6M318.6 118.2H321.6M318.6 139.2H321.6M320 80.7H321.6M320 75.6H321.6M320 72H321.6M320 69.2H321.6M320 66.9H321.6M320 65H321.6M320 63.3H321.6M320 61.8H321.6M320 109.6H321.6M320 104.5H321.6M320 100.9H321.6M320 98.1H321.6M320 95.8H321.6M320 93.9H321.6M320 92.2H321.6M320 90.7H321.6M320 133.3H321.6M320 129.7H321.6M320 126.9H321.6M320 124.6H321.6M320 122.7H321.6M320 121H321.6M320 119.5H321.6M320 51.8H321.6M320 121H321.6M320 124.2H321.6M320 127.4H321.6M320 130.6H321.6M320 133.8H321.6M320 137H321.6M320 143.4H321.6M320 146.6H321.6M338.2 150.5V153.5M371.9 150.5V153.5M415.8 150.5V153.5M385.1 150.5V152.1M392.8 150.5V152.1M398.3 150.5V152.1M402.6 150.5V152.1M406.1 150.5V152.1M409 150.5V152.1M411.5 150.5V152.1M413.8 150.5V152.1M324.6 150.5V152.1M328 150.5V152.1M331.4 150.5V152.1M334.8 150.5V152.1M341.6 150.5V152.1M345 150.5V152.1M348.4 150.5V152.1M351.8 150.5V152.1M355.2 150.5V152.1M358.6 150.5V152.1M362 150.5V152.1M365.4 150.5V152.1M368.8 150.5V152.1" stroke="#000" stroke-width="1.1" fill="none"/>
<path d="M318.6 47H425.6M318.6 150.5H425.6M321.6 46.4V153.5M425.6 46.4V153.5" stroke="#000" stroke-width="1.35" fill="none"/>
<text x="314" y="63" font-size="8.9" text-anchor="end">10<tspan font-size="6.6" dy="-4.3">6</tspan></text>
<text x="314" y="91.9" font-size="8.9" text-anchor="end">10<tspan font-size="6.6" dy="-4.3">5</tspan></text>
<text x="314" y="120.7" font-size="8.9" text-anchor="end">10<tspan font-size="6.6" dy="-4.3">4</tspan></text>
<text x="314.3" y="142.2" font-size="8.9" text-anchor="end">0</text>
<text x="100.5" y="187.9" font-size="11" text-anchor="middle">ITGA2B  + CVX</text>
<path d="M83 212.5h.9M97.1 204.6h.9M97.9 223.8h.9M86.3 220.4h.9M105.9 215.8h.9M94.6 206.9h.9M105.9 202.7h.9M70.6 235.6h.9M91.3 216.1h.9M89.6 227.9h.9M71.8 219h.9M94.3 222.8h.9M82.5 234.5h.9M69.5 241.3h.9M81.9 229.2h.9M86.2 221.8h.9M109.8 206.2h.9M83.4 227.4h.9M75 227.4h.9M72.5 239.6h.9M91.1 228.2h.9M89.3 224.4h.9M91.1 219.1h.9M77.6 234.9h.9M80.4 225.2h.9M66.9 239.4h.9M82 210h.9M74.6 234.2h.9M98.2 207.7h.9M89.8 211.4h.9M97.2 221.3h.9M93.6 217.9h.9M81 230.7h.9M101.6 212.6h.9M83.6 233.5h.9M106.7 202.3h.9M87.7 214.4h.9M97.8 212.5h.9M103.7 198.3h.9M88.2 223.6h.9M105 216h.9M80.9 215.8h.9M90.3 232.4h.9M65.7 243.9h.9M110.4 218.1h.9M88.8 227.7h.9M92.6 216.3h.9M85.5 236.8h.9M87.6 234.8h.9M98.1 208.3h.9M87.3 225.1h.9M83.6 221.7h.9M82.7 236.4h.9M84.8 211.9h.9M95.9 212.3h.9M75.3 214.8h.9M90.8 224.9h.9M67.9 221.4h.9M97.3 202.3h.9M85.4 227.4h.9M86.6 220.2h.9M102.8 202.5h.9M83 218h.9M73.4 232.7h.9M72.9 220.9h.9M88 225.2h.9M109.7 207.4h.9M95.4 221.8h.9M87.5 222.3h.9M103.1 218.2h.9M103.7 210.3h.9M87.4 231.9h.9M104.6 208.7h.9M97.7 212.4h.9M90.1 212.6h.9M55.6 230.3h.9M94.6 221.5h.9M101.8 206.7h.9M96.8 232.1h.9M94.5 223.5h.9M76 225.5h.9M95.1 214.7h.9M88.2 213.4h.9M99 214.1h.9M87.6 222.2h.9M105.8 212.1h.9M85.4 226.2h.9M93.3 221.3h.9M84.6 237.9h.9M85 230.2h.9M91 217.7h.9M89.8 232.2h.9M85.2 224h.9M89.9 224.1h.9M90.6 216.4h.9M93.6 210h.9M82.4 199.1h.9M102.5 213.8h.9M86.1 213h.9M88.4 228.8h.9M84 243.6h.9M80.3 217.4h.9M86.8 231.8h.9M72.8 236.9h.9M107 206.8h.9M67.3 232.1h.9M93.2 217h.9M95.6 215.7h.9M94.5 229.1h.9M123.7 205.7h.9M91.5 221.5h.9M81.1 225.8h.9M116.5 213.9h.9M82 227.3h.9M76.5 233.6h.9M81.1 230.2h.9M86.2 228.5h.9M93.7 223.1h.9M90.2 214.4h.9M75.4 234.2h.9M102.1 225.6h.9M117.9 206.5h.9M85.5 229.1h.9M90 222.8h.9M95.1 212.6h.9M105.8 213.6h.9M81.3 224.2h.9M81.7 230h.9M78.4 227.7h.9M96.9 207h.9M98.3 211.9h.9M70.1 240.8h.9M67.5 237.9h.9M78.2 231.7h.9M76.5 234.8h.9M91.4 214.2h.9M88.8 215.2h.9M107.2 201.1h.9M100.5 216h.9M96.3 224.2h.9M101.6 209.9h.9M80.4 227.5h.9M76.9 233.4h.9M99.3 228.8h.9M102.9 215.6h.9M70.5 231.3h.9M97.8 211.6h.9M95.2 209.7h.9M83.5 223.4h.9M83.4 210.9h.9M87.5 223h.9M84.1 213.2h.9M94.5 209.9h.9M89.8 234.9h.9M104.2 215h.9M93.7 208h.9M93.3 206.9h.9M67.5 234.8h.9M63.8 229.3h.9M91.5 209.2h.9M83.2 224.6h.9M78.5 222h.9M86.5 231h.9M77.3 232.8h.9M84.7 220.6h.9M91.6 235.3h.9M87.3 229.8h.9M94.6 216.1h.9M87.9 240.1h.9M106.5 215.7h.9M66.1 238.2h.9M114.4 198h.9M75.3 231.2h.9M88.4 208.1h.9M107.4 220.4h.9M97 227.3h.9M90.6 207.3h.9M91.3 223.6h.9M65.8 229.4h.9M98.2 222h.9M100.1 209.2h.9M83.4 224.2h.9M80.3 242.3h.9M84.4 226.1h.9M91.6 216h.9M97 221.7h.9M98.6 208.4h.9M99.2 219h.9M94.6 215.5h.9M75.5 243.2h.9M113.4 202h.9M94.1 223.5h.9M93 207.4h.9M95.8 232.3h.9M87.7 221h.9M98.9 227.9h.9M101.5 202.5h.9M102.5 204.6h.9M94.3 213.2h.9M113.7 206.8h.9M84.2 222.1h.9M96.7 217.3h.9M78.2 217.3h.9M99.5 205.7h.9M91.3 221h.9M98.4 210.4h.9M73.3 242.4h.9M102.3 226.3h.9M86.1 222.4h.9M90.4 226.2h.9M71 244.3h.9M88.5 217.2h.9M87.8 221.3h.9M109 204.9h.9M77.5 214.2h.9M104.7 214.6h.9M95.1 203.6h.9M107.8 199.3h.9M74.4 209.8h.9M99.2 215.1h.9M79.6 238.2h.9M81.1 232.1h.9M89 224.3h.9M88 218.7h.9M79.5 232.5h.9M92.1 229.8h.9M94.4 211.5h.9M88.2 226.9h.9M92.1 225.1h.9M80.6 227.6h.9M103.9 208.1h.9M107.5 204.2h.9M89.5 215.9h.9M100.8 232.7h.9M103.3 202.2h.9M102.8 223.6h.9M89 231.6h.9M67.7 223.5h.9M85.8 227h.9M115.4 204h.9M88.5 229.7h.9M91.3 221.4h.9M82.2 216.6h.9M97.2 202.6h.9M86.6 221.4h.9M94.5 217.4h.9M88.2 237.7h.9M80.3 233.8h.9M88.4 232.2h.9M86.3 212.3h.9M78.3 221.1h.9M69.5 236.7h.9M103 223.8h.9M82 215.4h.9M79.7 215.3h.9M84 225.6h.9M96.8 197.2h.9M84.4 223.5h.9M88.3 208.7h.9M110 213.6h.9M103.9 212.5h.9M93.3 219.5h.9M89.9 219.8h.9M91.7 216h.9M99.1 212h.9M92.3 211.5h.9M81.6 220.2h.9M88.8 210.5h.9M93.6 216.5h.9M92.6 209.7h.9M96.2 222.2h.9M92.5 197h.9M94.7 220.8h.9M100.9 214.1h.9M96.4 225.4h.9M83.5 224.4h.9M73.9 222.1h.9M84.1 217.2h.9M100.6 220.3h.9M100.3 206.5h.9M87.2 219h.9M82.4 222.3h.9M85 224.6h.9M100.9 206.6h.9M83.4 211.7h.9M82.5 222h.9M101.8 217.7h.9M84.9 239.6h.9M90.5 218.4h.9M87.1 218h.9M95.4 227.8h.9M78.5 230.3h.9M93.4 205.1h.9M105 203.3h.9M81.2 236.1h.9M98.8 226.3h.9M93.6 211.6h.9M113.6 201h.9M84.6 222.5h.9M86.8 234.5h.9M91.3 221.3h.9M110 202h.9M85.9 214.7h.9M90.9 216h.9M104.9 201.5h.9M52.6 223.5h.9M74.2 244.9h.9M98.4 211.3h.9M96.2 211.6h.9M75.4 231.6h.9M95 215.2h.9M91.6 220.8h.9M85.7 211.8h.9M83.2 228.3h.9M86.4 224.9h.9M82.1 228.6h.9M83.2 212.5h.9M87.2 221.6h.9M99.3 197.8h.9M97.6 215.7h.9M81.9 241.4h.9M98.2 220.2h.9M101.6 204.7h.9M90 214.8h.9M97.3 206.9h.9M91.4 222h.9M93.3 210.1h.9M78.8 226.5h.9M85 200.6h.9M73.1 229.2h.9M98.2 203.9h.9M73.4 232h.9M88.3 208.5h.9M81.9 215.4h.9M94 221.8h.9M89.2 211.3h.9M89 219.5h.9M82.7 229.3h.9M92.1 218.1h.9M89.4 213h.9M99.1 219.7h.9M115.8 208.1h.9M78.3 222.3h.9M89.3 218.1h.9M99.8 219.1h.9M84.9 223.3h.9M74 226.8h.9M82.7 223.4h.9M104 213.8h.9M82.7 217.9h.9M96.9 215.4h.9M85.1 228.9h.9M91 212.7h.9M86.5 229.2h.9M85.5 231.3h.9M96 223.7h.9M95.1 223.9h.9M96.4 198.9h.9M79.4 239.8h.9M97.6 217.9h.9M109.7 209.2h.9M98.5 203h.9M90.9 228h.9M85.5 228.3h.9M79.8 219.3h.9M99 223.2h.9M88 214.5h.9M88.3 211.9h.9M97.5 216.2h.9M77.2 227.4h.9M81.4 232.6h.9M77.5 230.6h.9M79 234.2h.9M93.1 224.8h.9M92.8 216.9h.9M117.7 199.9h.9M99.1 218.9h.9M86.1 215.9h.9M107.4 210.5h.9M86.3 230h.9M93.8 217.4h.9M104.5 216h.9M105.4 220.3h.9M97.5 219.8h.9M79.6 216.5h.9M80.7 234.1h.9M88 220.9h.9M83.2 224.5h.9M98.1 215.1h.9M87.2 219.8h.9M103.2 222.4h.9M76.5 236.8h.9M99.2 210.8h.9M86 231.9h.9M79.5 238.8h.9M83.1 238.8h.9M87.3 229.1h.9M100.3 209.1h.9M97.3 213.9h.9M68.7 221.1h.9M83.7 212.3h.9M94.2 226h.9M74 233.6h.9M89.7 238.1h.9M75.9 222.5h.9M96.8 241.3h.9M77.6 225.3h.9M84.6 229.6h.9M81.3 226.9h.9M99.6 207.9h.9M85.5 222.1h.9M92.2 217.7h.9M100.8 216.4h.9M94.5 207.7h.9M98.8 215.9h.9M81.5 222.1h.9M82.5 233.1h.9M84.4 229h.9M81.9 220.9h.9M90.8 220.7h.9M85.7 217.4h.9M96.1 205.6h.9M94.8 226.6h.9M102.3 212.9h.9M89.1 228h.9M95.1 209h.9M107.3 211.2h.9M87.6 210h.9M96.3 218.8h.9M76.8 238.4h.9M90.5 225.2h.9M92.4 225h.9M97 205.9h.9M78.6 212.5h.9M84.2 230.1h.9M92.5 210.3h.9M72.3 221.7h.9M95.1 211.2h.9M79.7 207.5h.9M98.8 207.7h.9M86.2 238.8h.9M95 219.4h.9M103.8 196.8h.9M82.1 224.4h.9M102.8 198h.9M99.7 216.4h.9M97.3 212.5h.9M79.5 223.4h.9M88.8 208.6h.9M94.2 211.7h.9M88 233.5h.9M73.5 225.4h.9M85 229.4h.9M105.2 207.7h.9M81.7 209.1h.9M104.1 216.3h.9M92.6 217.1h.9M102.1 229.5h.9M100.6 226.2h.9M85.1 222.8h.9M100.6 207.7h.9M86.8 213.7h.9M85.4 211.4h.9M81.2 237.1h.9M91.7 215.9h.9M81.9 224.6h.9M84.6 224.1h.9M103 213.4h.9M84.6 235h.9M88.2 222h.9M94.9 213.2h.9M101.2 209.6h.9M95.5 234.9h.9M82.8 207.2h.9M87 211.9h.9M82 233.1h.9M71.1 241.3h.9M78.3 244.4h.9M102.1 220.6h.9M100.8 228.5h.9M73.8 229.1h.9M87.2 229.1h.9M85.2 222.8h.9M91.6 228.1h.9M90.7 221.3h.9M114.8 203.2h.9M79.2 224.1h.9M92.2 219.5h.9M80.5 225h.9M83 224.9h.9M79.7 226.4h.9M82.9 217.4h.9M90.5 230.7h.9M94.8 218.2h.9M97.5 223.3h.9M77 223.9h.9M76.1 228.2h.9M92.6 216h.9M114 203.2h.9M88.7 232h.9M108.4 213.3h.9M110.8 213.9h.9M96.8 220.4h.9M73.6 238.3h.9M99.5 202.9h.9M94.4 222.5h.9M82.6 223h.9M97.9 204.1h.9M86.3 229.9h.9M101 211h.9M89.3 229.4h.9M91.5 211.6h.9M86 236h.9M88.2 225.6h.9M80.8 228.1h.9M79.8 223.3h.9M86.5 213.2h.9M81.8 215.3h.9M98.8 225h.9M94.9 201.1h.9M92.2 224.2h.9M71.7 236.7h.9M84.6 220.1h.9M88.5 217.1h.9M99 209.9h.9M104.1 214.6h.9M101.7 213.7h.9M88 222.3h.9M89.3 207.4h.9M68 225.4h.9M111.3 216.7h.9M89.2 211.1h.9M87 207.8h.9M92.2 229.1h.9M83.2 212.4h.9M87.6 230.1h.9M99.9 219.2h.9M79.1 234h.9M103.8 215.4h.9M88.3 208.3h.9M88.8 219.6h.9M89.2 221h.9M91.5 217.9h.9M92.8 222h.9M85.5 217.6h.9M69.4 220.5h.9M81.9 232.6h.9M83.8 224.4h.9M91.5 226.8h.9M89.4 241.4h.9M79.8 231.6h.9M90.4 225.6h.9M92.5 208.8h.9M92.8 226.3h.9M98 215.3h.9M100.3 212h.9M101.7 217.1h.9M80.6 218.7h.9M89.2 226.7h.9M75.2 240.1h.9M91.7 234.2h.9M85.5 207h.9M79.6 230.1h.9M113.4 217.6h.9M101.3 204.5h.9M84.5 221.5h.9M107.4 219.8h.9M81 230.7h.9M83.1 220.3h.9M87.3 217.2h.9M86.4 220h.9M78 224.3h.9M104.2 197.5h.9M93.6 218.2h.9M92.9 217.6h.9M98.7 215.9h.9M91.9 218.6h.9M82 216.5h.9M88.6 228.9h.9M76.2 236.9h.9M101 203h.9M80.3 227.6h.9M76.4 237.5h.9M83 228.2h.9M74.7 234.8h.9M112.3 204.7h.9M98.7 221.7h.9M101.5 205.1h.9M103.4 206.1h.9M89.9 209.4h.9M94.5 213.8h.9M85.8 229.3h.9M93.6 225h.9M85.4 226.7h.9M90.1 219.3h.9M80.1 223.4h.9M102.8 209h.9M91.7 207.6h.9M89.7 221.7h.9M74.8 236.1h.9M91.9 209.2h.9M99.9 213.2h.9M88.4 219.7h.9M81.4 235h.9M91.7 213.7h.9M102.2 212.4h.9M96.2 215.5h.9M77.3 241.2h.9M87.7 216.3h.9M104.4 201.7h.9M81.6 210.2h.9M93.8 214.8h.9M81.5 217.8h.9M90.6 220.7h.9M98.1 203.3h.9M87.6 223.5h.9M88.5 225.6h.9M82.1 212h.9M108.2 197.2h.9M104.7 230.3h.9M104.2 213.2h.9M87.5 224.3h.9M64.8 219.1h.9M97.7 203.1h.9M91.9 223.3h.9M84 228.7h.9M85.9 228.8h.9M88.6 231h.9M85 226.3h.9M80.1 238.8h.9M92.3 200.1h.9M105.9 228.3h.9M97.6 209.4h.9M83.7 220.3h.9M100.7 223.9h.9M94.6 221.4h.9M105.7 213.5h.9M94.5 209.4h.9M94.8 218h.9M87.6 229.6h.9M73.4 226.1h.9M81.6 226.6h.9M83 224.9h.9M83.7 223.8h.9M75.2 228.5h.9M99.1 198.3h.9M94.7 219.5h.9M72.7 240.4h.9M85.7 235.9h.9M77.4 232.5h.9M88.9 214.6h.9M92.7 203h.9M81.4 229.8h.9M94.2 212.7h.9M97.4 232.3h.9M111.9 220h.9M110.4 214.6h.9M88.5 212.8h.9M89.8 206.6h.9M88.9 219h.9M82.2 219.3h.9M86.4 237.9h.9M93.6 217.5h.9M87.4 218.8h.9M86.5 223.6h.9M95.5 226.8h.9M83.7 217.3h.9M82.9 232.2h.9M78.7 218.8h.9M99.5 208.2h.9M84.7 219.1h.9M104.4 208.3h.9M80.2 231.7h.9M83.5 238.6h.9M94.6 222.1h.9M94.2 209.8h.9M77.5 220h.9M91.8 210.2h.9M96.5 209.2h.9M98.7 208.8h.9M85.3 217.5h.9M94.9 225.7h.9M79.5 240.1h.9M88.9 218.5h.9M90.2 215h.9M101.8 205.5h.9M78.2 231.9h.9M82.2 227.9h.9M72.9 221.8h.9M96.1 209.5h.9M57.7 235.1h.9M80.3 230.5h.9M112.2 203.7h.9M90.8 208.8h.9M78.7 233.4h.9M86.5 217.7h.9M94.3 208.7h.9M104.7 224.2h.9M92.4 226.4h.9M85.2 229.8h.9M95.5 210.1h.9M92 222h.9M96.5 211.5h.9M95.9 218.4h.9M81.3 220.2h.9M102.8 206.1h.9M83.5 222.9h.9M87 209.2h.9M92.6 234.1h.9M91.9 226.1h.9M83.9 218.6h.9M76.8 219.3h.9M88.6 214.3h.9M97.8 203.7h.9M104 199.6h.9M95.7 199.3h.9M84.4 217.7h.9M103.6 206.6h.9M95.9 218h.9M78.5 231.9h.9M98.7 201.3h.9M79.4 220.7h.9M99 207.6h.9M82.4 221.1h.9M101.8 214.7h.9M90.9 226h.9M71.4 236.3h.9M78 226.1h.9M96.7 230.8h.9M99.5 228.7h.9M71.5 243h.9M78.3 230.6h.9M88.3 231.7h.9M95.3 228.9h.9M89.4 215.4h.9M91.5 236.4h.9M75.4 233.6h.9M98.2 222.4h.9M84.4 220.7h.9M98.4 212h.9M83 222.8h.9M96 214.1h.9M87 233.3h.9M88 213.2h.9M89.4 217.7h.9M96.8 218.4h.9M79.2 226.6h.9M99 230.9h.9M75 221h.9M101.1 233.7h.9M92.4 211h.9M122 196.6h.9M98.4 227.4h.9M99.2 215.8h.9M84 212.2h.9M98.7 207.7h.9M94.6 216h.9M102.3 212.9h.9M98.1 221.4h.9M117.4 202.8h.9M109.9 214.1h.9M69.8 231.4h.9M97.7 221.9h.9M82.1 210.9h.9M70.7 241.5h.9M76.9 222.9h.9M77 215.8h.9M87.9 231.3h.9M91.1 218.6h.9M78.7 241.6h.9M88.9 205.3h.9M91 206.8h.9M92.7 216.2h.9M83.7 219.9h.9M90.4 220.3h.9M82.7 221.3h.9M98.7 207.6h.9M88.9 209.7h.9M114.5 207.4h.9M85.1 221.9h.9M97.3 200.6h.9M88.2 228.7h.9M90.9 223.9h.9M81.7 230.8h.9M95.9 216.1h.9M87.5 218.6h.9M95 213.5h.9M81.8 213h.9M87.4 210.5h.9M99.6 212.9h.9M95.6 226.4h.9M84.3 224.3h.9M92 215.3h.9M100.3 220.7h.9M95.3 210.9h.9M100.9 215.3h.9M86.2 228.3h.9M87.5 209.4h.9M102.8 209.9h.9M86.9 225.3h.9M87.6 211h.9M79.3 220.8h.9M85.2 212.2h.9M112.7 210.3h.9M102.2 228.5h.9M84.9 232.4h.9M101 224.3h.9M85.3 211.4h.9M107.2 216.3h.9M87.5 242.3h.9M89.9 236.3h.9M84.7 216.1h.9M81.4 239.8h.9M99.8 208.7h.9M77.1 244.1h.9M79.3 224.6h.9M76.8 233.9h.9M81.3 223.3h.9M99.7 214.7h.9M95 213.8h.9M104 216.6h.9M99.7 218.3h.9M73.8 241h.9M92.6 216.9h.9M71.9 235.8h.9M85.5 224.7h.9M90.3 227.3h.9M85.8 225.7h.9M96 216.7h.9M82.6 227.3h.9M105.4 203.3h.9M92.2 211.1h.9M91.4 199.8h.9M99.8 215.6h.9M101 214.3h.9M84.8 215.6h.9M117.5 210.8h.9M74.7 224.2h.9M99.3 220.4h.9M91.4 221.1h.9M89.6 223.6h.9M98.7 222.5h.9M87.9 231.4h.9M98.1 211.9h.9M91.9 207.5h.9M84.9 213.1h.9M97.7 213.9h.9M88.6 237.3h.9M78.1 241.2h.9M84.7 225.2h.9M89.6 223.8h.9M116.1 199.9h.9M96.7 230.4h.9M95.6 206.6h.9M101.4 215.5h.9M110.6 201.5h.9M87.3 215.2h.9M90.9 208.9h.9M94.7 227.9h.9M83.9 229.6h.9M80 228.3h.9M83.5 227.8h.9M108 211.3h.9M93.2 217.7h.9M96.8 229.2h.9M89 218.5h.9M81.1 221.4h.9M89.2 219.7h.9M85 215.8h.9M94.2 212.1h.9M104.5 217.3h.9M83.9 243.5h.9M95.4 220.8h.9M103.5 208h.9M76.3 225.1h.9M82.8 217.4h.9M93.5 220.2h.9M100.9 210.4h.9M92.6 211.5h.9M85.9 219.8h.9M102.5 222.8h.9M104.5 215h.9M93.9 216.5h.9M108.1 203.6h.9M100.4 222.2h.9M82.4 231.5h.9M84.2 228.4h.9M81 213.6h.9M79.8 213.7h.9M86.1 204.8h.9M82 205.7h.9M105.6 203.8h.9M99.1 213.9h.9M99.2 201.8h.9M85.4 229.2h.9M88.5 226.1h.9M95.9 213.1h.9M83.6 211.9h.9M103.1 221h.9M99.3 224.2h.9M81.6 222.9h.9M115.3 213.4h.9M100.7 209.4h.9M72.2 230.6h.9M82.5 223.7h.9M81 210.7h.9M94.5 211.8h.9M81.5 212.8h.9M83.6 238.1h.9M99.3 213.7h.9M81.3 215.1h.9M103.9 211.4h.9M84.3 208.7h.9M100 211.3h.9M100.1 214.4h.9M98.5 211.9h.9M79.9 219.1h.9M98.9 209.7h.9M91.1 217.1h.9M79.2 231.8h.9M94.1 230.8h.9M95.7 231.2h.9M102.4 223.1h.9M93.2 210.4h.9M76.4 226.6h.9M96.9 213.2h.9M91.8 222.5h.9M70.3 219.7h.9M94.6 209.1h.9M92.4 235.6h.9M73.2 224.9h.9M93.3 209.2h.9M94.8 208h.9M86.7 228.3h.9M99.4 209.6h.9M97.6 208.9h.9M77.9 217.3h.9M111.3 204.1h.9M89.7 220.3h.9M88.9 214.4h.9M68.8 242.2h.9M99.9 217.7h.9M77.2 218.4h.9M86.4 208.1h.9M69.7 230.8h.9M96.3 204.7h.9M104.2 199.2h.9M93.9 212.7h.9M98.5 221.5h.9M83.1 226h.9M96.5 227.3h.9M111 214.1h.9M80.3 225.1h.9M88 213.8h.9M91.7 222.1h.9M87.5 210.4h.9M84.9 221.6h.9M89.9 203.2h.9M99.5 211h.9M78.1 232.4h.9M108.6 217.1h.9M85.4 228.4h.9M84.5 219h.9M100 208.7h.9M84.7 212.4h.9M95.7 214.4h.9M96.4 211.2h.9M97.9 216.1h.9M90.2 229.2h.9M71.7 218.7h.9M98.2 214.8h.9M100.9 216.1h.9M87.6 210.4h.9M98.3 230.6h.9M94.5 208.1h.9M102.6 231.8h.9M82 236.2h.9M97.8 221.7h.9M96.3 216.2h.9M102.5 217.2h.9M77.2 222.8h.9M79.6 222.6h.9M83.5 206.9h.9M89.2 226.3h.9M86.3 216.7h.9M102.7 214.4h.9M97 218.7h.9M100.2 195.9h.9M96.7 220.2h.9M107.2 204.8h.9M101.1 210.5h.9M115.8 198h.9M90.6 219.1h.9M89.9 220.3h.9M107.7 212.4h.9M80.9 219.3h.9M80.4 217.8h.9M89 213.3h.9M99.3 220.9h.9M76.4 230.8h.9M102.6 226.3h.9M72.3 207.2h.9M86.8 216.1h.9M90 215.5h.9M90.4 222.4h.9M107.1 215.8h.9M94.2 213.8h.9M83.9 216h.9M95.7 222.6h.9M107.9 217.1h.9M84.9 199.4h.9M105.1 210.2h.9M91.1 221.9h.9M87.9 213.8h.9M106.5 198.1h.9M92 220.9h.9M106.1 203.6h.9M97.2 210h.9M81.1 217.4h.9M79.8 233.5h.9M93.2 209.9h.9M85 226.1h.9M81.6 222.8h.9M76.4 236.1h.9M105.3 211.7h.9M93 219.3h.9M94.5 222h.9M87.5 208.6h.9M95.4 219h.9M93.2 219.6h.9M92.4 211.2h.9M87.6 220.8h.9M53.6 229.4h.9M97.9 212.6h.9M92.7 213.1h.9M79.7 207.8h.9M107.7 206.7h.9M75.2 228.9h.9M103.1 204h.9M97.1 217.5h.9M76.6 234.7h.9M85.8 221.4h.9M99 215.7h.9M84.2 234.3h.9M84.5 202.8h.9M110 199.5h.9M100.4 203.2h.9M85.1 213.9h.9M100.4 222.4h.9M87.3 232.5h.9M86.9 212.7h.9M82.3 216.6h.9M86.1 232.2h.9M75.7 228.4h.9M106.6 199.5h.9M81.7 208.6h.9M81.1 227.8h.9M92.9 228.4h.9M101.9 202.9h.9M104.8 203.4h.9M94.2 233.2h.9M97.1 221.5h.9M106.1 217.7h.9M91 225.3h.9M86.4 235.8h.9M73.8 220h.9M86.9 214.9h.9M75.6 218.1h.9M90.5 241.8h.9M89.7 222.1h.9M98.6 209.7h.9M93.2 209h.9M83.7 216.2h.9M95.1 237.2h.9M89.8 219.3h.9M79 232h.9M90.8 204.9h.9M89.5 219.9h.9M77.7 236.5h.9M83 226.3h.9M110.1 205.3h.9M93.1 208.2h.9M93.5 219.6h.9M103.1 215.3h.9M79.4 236.6h.9M85.4 228.6h.9M78.4 230.8h.9M78.5 221.9h.9M90.2 225.3h.9M93.6 212.2h.9M95.1 205.1h.9M103.5 213.7h.9M83.6 220.9h.9M94.6 223h.9M100.2 218.9h.9M81.5 224.9h.9M88.6 222h.9M97.2 217.9h.9M82.6 226.9h.9M91.2 211h.9M104 209.8h.9M81.6 230.2h.9M70.9 240.8h.9M97.2 223.7h.9M83 230.2h.9M90 215.3h.9M87.6 224.1h.9M103.3 225.7h.9M97.3 205.1h.9M96.8 210.2h.9M83.5 218.5h.9M82.1 231.7h.9M62.1 236h.9M73.5 241.5h.9M87.4 230.2h.9M87.7 214.5h.9M80.4 221.3h.9M77.8 217.5h.9M76.6 234.3h.9M70.2 229.1h.9M72 232.3h.9M94 211.5h.9M69.3 234.4h.9M100.8 217.1h.9M90.4 235.6h.9M84.5 204.1h.9M88.5 213.3h.9M98.4 213.7h.9M95.7 203.4h.9M80.6 224.2h.9M82.7 229.6h.9M93.4 230.5h.9M89.2 232.5h.9M94.7 212.1h.9M89.8 221.4h.9M88.4 217.9h.9M93 215h.9M80 218.5h.9M91.1 201h.9M71.8 235.1h.9M97.1 222.4h.9M98.4 218.9h.9M73.8 217.9h.9M82.9 225.4h.9M95 208.4h.9M88.6 224.3h.9M67.3 232.4h.9M82.5 236.9h.9M98 209.6h.9M85 230.9h.9M106.2 212h.9M92.5 197.8h.9M87.1 220.8h.9M102.5 222.3h.9M82.7 227.7h.9M91.6 228.8h.9M85.8 228.5h.9M92.8 212.1h.9M79.9 233.3h.9M94.1 226.3h.9M96.9 225.8h.9M101.9 222.2h.9M65.3 234.4h.9M78.1 240.7h.9M75.1 221.5h.9M87.3 221.5h.9M90.1 217.7h.9M94.8 221.3h.9M109.6 202.8h.9M102.1 220h.9M92.1 211.6h.9M89.8 228.7h.9M98.9 214.7h.9M96.1 213.7h.9M89.9 208h.9M91.7 223.9h.9M97.1 215.8h.9M107.5 209.7h.9M82.5 227.3h.9M69.2 238.9h.9M99.2 214.4h.9M98.8 215.5h.9M91.3 225.6h.9M95.4 233.4h.9M95.8 234.2h.9M64 217.1h.9M90.4 229.2h.9M90.2 211.5h.9M94.5 235.5h.9M81.9 219.4h.9M97.9 222.4h.9M81 219.3h.9M85.3 213.4h.9M93.5 224.4h.9M84.7 234.2h.9M87 216.1h.9M91.5 242.6h.9M96.6 209.9h.9M89.3 236.4h.9M82.6 217.4h.9M68.7 232.4h.9M86.3 224.7h.9M73.5 226.8h.9M105.5 208.5h.9M77.9 210.9h.9M95.4 216.2h.9M71.3 233.7h.9M73.9 227h.9M89.4 222.8h.9M76.5 231.7h.9M97.8 207.4h.9M90.3 227.8h.9M92.6 220.2h.9M94.4 219.2h.9M95.1 228h.9M96.4 212.7h.9M88 230.5h.9M91 214.8h.9M103.5 212h.9M94.3 220.8h.9M88.1 216.4h.9M79.2 215.9h.9M83.9 213.5h.9M91.1 209.4h.9M90.4 225.2h.9M74.1 235.1h.9M89.7 217.3h.9M90.8 223.9h.9M97.6 219.4h.9M97.1 226.6h.9M100.8 202.8h.9M81.8 234h.9M84.7 232.6h.9M90.8 209.6h.9M81.2 230.3h.9M88.1 212.8h.9M88.5 219.3h.9M74.4 240.4h.9M87.2 205.9h.9M97.6 203.4h.9M87.5 214.4h.9M77.8 233.6h.9M93.1 209.4h.9M82.4 231.6h.9M84.4 217.2h.9M90.8 213.9h.9M85.8 230.3h.9M76.3 237.4h.9M89.2 222.3h.9M89.2 220.5h.9M87.2 233h.9M89.7 234.1h.9M94.4 211.7h.9M85.3 217.6h.9M80.3 219.5h.9M93.1 234.1h.9M86.7 214.4h.9M83.9 213h.9M89.5 223.2h.9M82.7 238.1h.9M80.2 217.7h.9M83.5 225.4h.9M83.1 212.7h.9M96.4 206.4h.9M106.2 219.5h.9M96.2 215.2h.9M89.4 218h.9M87.2 223.6h.9M94.1 218.6h.9M85 224.1h.9M80.7 217.7h.9M76.4 222.3h.9M99.3 230.5h.9M85.2 217.3h.9M111.9 209.3h.9M91 211.8h.9M92.9 230h.9M100 216.6h.9M84.5 223.6h.9M108.6 220.8h.9M91.8 208.7h.9M75.9 226h.9M85.1 217.2h.9M86.9 219.6h.9M87.5 213h.9M94.3 212.3h.9M89 236.8h.9M74.6 218.5h.9M86.1 211.5h.9M93.4 206.9h.9M77.5 228.2h.9M81.1 239.3h.9M103.3 213.4h.9M99.5 215h.9M100.2 211.5h.9M93.2 240.7h.9M82.3 216.7h.9M85.9 212.7h.9M93.4 216.2h.9M89.7 222.4h.9M88.1 219.6h.9M94.3 207.1h.9M79.3 217.9h.9M83.5 223.9h.9M82.4 220.8h.9M82.8 222.6h.9M85.4 213.9h.9M94.6 228.7h.9M88.1 226.5h.9M111.3 216.4h.9M89.7 215.1h.9M87 223.6h.9M99.4 207.7h.9M85 225.4h.9M88.4 219.1h.9M88 220.4h.9M74.8 216h.9M85 222.5h.9M93.9 222.9h.9M67.5 223.8h.9M84.6 222.1h.9M94.7 220.8h.9M98.4 224h.9M91.8 217.2h.9M112.2 201.5h.9M104.2 222.8h.9M94.9 227.9h.9M86.4 219.2h.9M86.6 217.4h.9M98.5 221.3h.9M88.2 224h.9M100 204.2h.9M79 229.1h.9M96.7 216.2h.9M93 214.9h.9M78.5 229.3h.9M93.9 213.6h.9M87 208.2h.9M92.8 234.4h.9M115.7 205.6h.9M103.4 221.3h.9M86.2 222.6h.9M86.2 225.2h.9M86.1 229.7h.9M96 222h.9M81.1 211h.9M79.3 234.6h.9M75.7 224.8h.9M83.2 226.4h.9M82.9 220.7h.9M95.1 231.8h.9M86.6 228.9h.9M95 214.5h.9M104.8 218.6h.9M89.9 219.3h.9M67.2 236.4h.9M87.4 220.8h.9M92.7 213.6h.9M89.2 221.3h.9M96.2 222h.9M90 218.9h.9M76.5 233.3h.9M96.4 216.2h.9M89.9 229.6h.9M93.9 217.3h.9M80.5 216.8h.9M82.6 216.5h.9M93.1 200.2h.9M85.1 236.5h.9M91.6 222.4h.9M77.9 227.8h.9M85.3 214.9h.9M95.5 217.9h.9M94.6 213.9h.9M92.5 220.6h.9M73.6 228.6h.9M86.2 212.8h.9M105.1 220h.9M93.4 206.9h.9M107.9 201.2h.9M101.2 221.8h.9M71.8 220.6h.9M88.7 228.4h.9M90.7 219.9h.9M97.9 210.4h.9M81.2 231.8h.9M91.6 206.5h.9M84.1 203.9h.9M91.6 237.2h.9M93.4 213.6h.9M87.5 231.4h.9M95.1 225.7h.9M88.5 224.4h.9M94 220.5h.9M83.1 234.3h.9M102 223.3h.9M73.5 242h.9M92.5 230h.9M83.4 224h.9M101.1 204.3h.9M94.7 216h.9M87.5 226.6h.9M84.7 230.9h.9M99.7 229.4h.9M88.4 230h.9M109.1 200.8h.9M91.9 221.4h.9M70.4 243.9h.9M101 213.5h.9M81.1 225.9h.9M98 200.9h.9M85.7 225.8h.9M97.4 209.3h.9M87.1 214.4h.9M100.4 210.4h.9M88.9 219.2h.9M61.2 243.9h.9M74.6 218.2h.9M75.5 233.4h.9M106.5 220.4h.9M98.7 219.9h.9M95.1 225.5h.9M93.5 216.2h.9M96.6 223.7h.9M81.4 222.2h.9M104.2 200.8h.9M94.3 220.7h.9M80.9 215.2h.9M77.4 233.7h.9M85.8 227.3h.9M98.2 228.4h.9M84.7 218.6h.9M87.7 226.6h.9M86 217.7h.9M77.3 227.7h.9M76.3 207.3h.9M71.7 229.6h.9M88 233.5h.9M85.9 229.4h.9M97.9 213.4h.9M106.1 227.9h.9M93 222.3h.9M73.7 224.6h.9M85.2 222.9h.9M96.3 213h.9M108.4 217h.9M72.6 229.1h.9M88.1 226.2h.9M95.5 224.1h.9M88.7 213.4h.9M90.2 220.7h.9M85.4 204.8h.9M77.8 233.7h.9M92.1 195.9h.9M78 228.7h.9M98.8 228.1h.9M96.2 217.7h.9M100 210.2h.9M98.2 213h.9M107.9 223h.9M103.5 211.6h.9M93.6 226.7h.9M94 211.6h.9M100.8 204.5h.9M78 222h.9M76.9 231.9h.9M77.6 225.9h.9M106.8 212.5h.9M103.6 212.3h.9M86.1 222.9h.9M89.2 215.5h.9M79.5 202.2h.9M95.9 208.1h.9M75.1 238.5h.9M88.3 228.4h.9M72.2 207.8h.9M80.6 205.9h.9M91.2 220.3h.9M81.9 218.1h.9M91.2 216.6h.9M65.3 240.9h.9M119.2 195.7h.9M87.7 204h.9M94.6 209.6h.9M88.9 230.6h.9M94.4 217.5h.9M103.4 197.9h.9M107.8 206.2h.9M91.9 220.9h.9M74.7 227h.9M94.7 222.1h.9M90.6 226.1h.9M96.5 212h.9M83.5 236.2h.9M82.4 216.3h.9M96 221.5h.9M84.9 223.4h.9M94.3 206.3h.9M77.1 227.5h.9M85 236.8h.9M84.1 220.7h.9M95.3 211.1h.9M84 219.8h.9M80.8 221.7h.9M101.6 217.6h.9M102.8 228.8h.9M92 231.3h.9M93.5 221.5h.9M91.6 226h.9M93.4 213.1h.9M88.6 216.5h.9M77.1 221.7h.9M92.9 231.4h.9M84.6 222.3h.9M89.5 213.4h.9M89.9 213.8h.9M83.6 228.5h.9M85.5 219.3h.9M92.6 217.5h.9M100.2 211.2h.9M98.7 224.4h.9M100.6 196.8h.9M91.6 221.4h.9M92.8 210.3h.9M84.9 221.1h.9M89.3 236.9h.9M93.9 222.3h.9M92.1 214h.9M95.1 219.7h.9M91 218.8h.9M92.5 228.5h.9M80.4 225.2h.9M89.7 225.2h.9M92.9 215h.9M98.2 211.7h.9M92.1 211.8h.9M99.8 211h.9M105.7 213.6h.9M90.2 213.9h.9M93.7 212.4h.9M87.9 226h.9M85.4 217.4h.9M98.8 219.7h.9M83.9 233.4h.9M71.6 216.3h.9M88.3 215.3h.9M73 227h.9M94.4 223.7h.9M81.7 238h.9M85.6 212.7h.9M86.7 216.7h.9M84.6 224.9h.9M79.9 226.9h.9M89.1 228.2h.9M75.4 245h.9M89.4 226.6h.9M96.3 224.4h.9M105 213.9h.9M85.1 224.4h.9M86.2 219.7h.9M98.2 204.2h.9M109 208.6h.9M90.1 228.9h.9M104 215.7h.9M98.4 208.1h.9M92.4 213.7h.9M82.7 230.3h.9M88 234.7h.9M96.7 216.8h.9M111.2 200.4h.9M84.2 217.9h.9M105.7 208.3h.9M109 205.8h.9M74.4 226.9h.9M93.4 234h.9M98.4 202.3h.9M103 215.9h.9M93.6 214.3h.9M90.6 221.1h.9M91.4 210.8h.9M81.6 223.2h.9M115.1 201.1h.9M78.9 229.6h.9M72.6 234.7h.9M95.6 223.2h.9M105.9 210.7h.9M86.5 225.4h.9M90.6 221.8h.9M89.6 237.7h.9M88.4 220.1h.9M83 231.2h.9M83.3 231.3h.9M70.2 226.8h.9M75.6 215.9h.9M106.7 204.1h.9M93.7 224.9h.9M92.6 219.5h.9M106.6 197.6h.9M81.2 222.8h.9M85.3 233.1h.9M93 214.1h.9M71.2 223.6h.9M96.2 220.5h.9M101.1 211h.9M82.4 231.8h.9M90.5 229.9h.9M111.2 211.3h.9M83.5 232.5h.9M83.1 225.5h.9M81.5 208h.9M88.6 224.5h.9M81.8 227.2h.9M110.3 212.2h.9M91.2 231.6h.9M95.1 219.5h.9M93.1 230.5h.9M87.5 222h.9M77.8 232.4h.9M93.7 207.9h.9M84.6 222.6h.9M102 209.8h.9M85 235.8h.9M82 221.1h.9M98 219.8h.9M102.4 230.5h.9M77.5 219.7h.9M87.4 220.2h.9M78.7 232h.9M95.3 224.6h.9M97.5 224.6h.9M101.5 207.9h.9M93.4 208.1h.9M97 212.3h.9M86 223.8h.9M95.4 217h.9M82 219.6h.9M96.7 228.4h.9M85.4 217.7h.9M99 213h.9M88.4 210.9h.9M97.5 213h.9M81.7 228.9h.9M95 213.1h.9M98.1 219.8h.9M68.1 238.1h.9M95.9 225.2h.9M79.6 221.8h.9M77.4 208.5h.9M90.5 232h.9M104.1 208h.9M73.8 237.7h.9M73.2 227.8h.9M74.2 222.1h.9M68.7 223.6h.9M97.6 237.8h.9M97.6 228.2h.9M75.5 229.7h.9M102.4 226h.9M92.1 199.5h.9M102.9 213.7h.9M110.8 205.5h.9M95.5 205.9h.9M87.3 218.3h.9M100.2 199.2h.9M96.2 214h.9M112.7 209.6h.9M93.2 226.7h.9M73.7 241.1h.9M85.3 236.1h.9M82.6 210h.9M104.8 224.9h.9M87.9 221.8h.9M92.1 204.8h.9M78 228.7h.9M80.6 223.3h.9M99 211.7h.9M91.9 221.2h.9M79.1 208h.9M108.5 213.5h.9M108.1 218.6h.9M77.9 222.3h.9M99.1 225.4h.9M81.4 241.5h.9M94.9 225.1h.9M101.5 224.4h.9M67.9 229h.9M107.2 209.5h.9M102.3 197.2h.9M106.1 227h.9M93.2 207h.9M96.9 200.6h.9M94.1 227h.9M102.2 213.7h.9M93.5 216.7h.9M77.4 234.5h.9M85.2 231.1h.9M93.7 233.5h.9M95.7 206.9h.9M88.1 216.4h.9M95.7 208.3h.9M85.5 223.9h.9M79 231.6h.9M115.2 196.9h.9M87 210.4h.9M86.7 220.3h.9M99.1 208.1h.9M79.2 228.8h.9M95.7 229.1h.9M85.8 240.9h.9M99.6 220.9h.9M100.1 225.4h.9M85.1 222.2h.9M91.4 232.7h.9M123.2 220.4h.9M126.5 219.3h.9M122.9 212.1h.9M100.8 212.3h.9M118.5 225.6h.9M118.2 214.3h.9M126.2 215.5h.9M122.1 220.2h.9M108.5 214h.9M115.3 233.2h.9M120.9 215h.9M109.2 223.2h.9M106.6 218.6h.9M122.3 220.1h.9M126.4 220.5h.9M109.7 215.7h.9M104.4 229.3h.9M121.8 209.8h.9M124.1 201.1h.9M115 214.7h.9M119.1 221h.9M98.6 232.3h.9M134.2 216.6h.9M106.5 216.5h.9M126.8 208.2h.9M114.7 218.6h.9M121.6 219.7h.9M118.1 214.9h.9M98.1 218.8h.9M109 232.1h.9M126 221.3h.9M109.4 214.8h.9M124 226.3h.9M134.6 205.9h.9M103 228.9h.9M124.1 224.2h.9M123.7 208.3h.9M118.7 208.5h.9M117.7 200.1h.9M114 221.2h.9M105.3 227.6h.9M110.4 228.5h.9M118.7 221.2h.9M128.7 210.9h.9M126 222.1h.9M133.1 197.8h.9M123.2 216.7h.9M124.6 217h.9M122.2 212.6h.9M109.5 237h.9M128.3 214.2h.9M114.4 230.6h.9M120.2 223.1h.9M144.2 199.3h.9M115.5 235.5h.9M126.3 221.6h.9M123.7 213h.9M121.4 213h.9M116.4 207.4h.9M114.2 216.9h.9M140.3 201h.9M100.6 228.1h.9M108.2 217.8h.9M138.3 209.7h.9M125.9 210.7h.9M106.3 208.2h.9M109.2 216.5h.9M114.4 209.9h.9M124.7 209.9h.9M113.5 227.2h.9M118.6 205.4h.9M106 204.4h.9M135.5 204.5h.9M135.6 233.6h.9M131.3 203h.9M123.3 215.5h.9M140.1 199.5h.9M128.3 218.1h.9M129.3 223h.9M109.3 219.6h.9M120.9 225.4h.9M120.3 204.8h.9M116.3 219.1h.9M121.2 216h.9M110.2 214.9h.9M131.8 210.4h.9M110.6 210h.9M125.7 213.8h.9M120.1 216h.9M110.8 215h.9M131.8 200.7h.9M116.8 205.8h.9M130.3 205.4h.9M118.7 219.5h.9M105.2 222.3h.9M108.3 223.2h.9M120.3 226.6h.9M117.4 213.5h.9M122.3 216.4h.9M129.3 217.3h.9M109.7 225.7h.9M124.5 216h.9M108.3 222.5h.9M121.2 232.2h.9M147 198.7h.9M132.3 204.3h.9M119.2 221h.9M145.8 215.3h.9M141 216h.9M130 209.6h.9M139.2 211.7h.9M120 219.6h.9M119.6 215.9h.9M114.3 224.4h.9M129.2 215.5h.9M108.1 223.2h.9M122.3 229.7h.9M123.9 209.3h.9M121 227.4h.9M132.6 227.2h.9M148.1 218.4h.9M111.5 222.5h.9M134.5 205h.9M107.1 207.7h.9M110.7 219.9h.9M132.7 230.3h.9M125 197.6h.9M107 208.2h.9M116.4 224.9h.9M118.5 221.6h.9M105.8 206.3h.9M122.3 213.1h.9M114.6 221.3h.9M111.9 205.7h.9M128.1 219.2h.9M110.9 208h.9M137.1 215.6h.9M114.4 220.2h.9M109.8 214.5h.9M134.9 203.3h.9M121 213.6h.9M128.7 208.8h.9M121.8 208.5h.9M114.5 216.3h.9M131.1 216.7h.9M120.1 206.5h.9M133.1 205.5h.9M103.3 228.9h.9M128.9 209.7h.9M125.8 219.7h.9M119.7 229.6h.9M114.7 214.8h.9M117.3 218.6h.9M95.1 202.2h.9M113.2 215.7h.9M131.4 214.6h.9M100.3 216h.9M122 226.2h.9M88.5 215.8h.9M120 227.5h.9M122.6 208.7h.9M116 207.9h.9M119.1 211h.9M107.9 219.5h.9M122.4 204.2h.9M105.7 210.5h.9M127.9 205.5h.9M126.6 220h.9M118.2 219.8h.9M141.4 215.1h.9M114 212.8h.9M129.8 206h.9M120.3 211.7h.9M121.2 215.6h.9M132.8 211.8h.9M132.2 224.2h.9M123.3 219.6h.9M120 216.5h.9M128.2 222.8h.9M118.3 208.7h.9M111.9 207.4h.9M112.5 225.5h.9M94.3 231.3h.9M119.9 216.1h.9M121.8 222.5h.9M131.8 205h.9M124.8 211.1h.9M133.9 210.4h.9M141.2 208.7h.9M123.4 222.1h.9M112.3 220.5h.9M130.1 211.5h.9M104.7 201.4h.9M122.8 224.6h.9M126.1 211h.9M142.1 225.6h.9M105.2 220.4h.9M114.6 203.4h.9M138.7 219.1h.9M105 218.4h.9M122 212.2h.9M124.1 211h.9M99.6 233.5h.9M140.3 210.4h.9M112.7 218h.9M123.6 223.1h.9M134.4 198.2h.9M104.7 230h.9M122.9 207.4h.9M118.7 222.1h.9M118.3 209.7h.9M110.3 216.4h.9M140.7 216.6h.9M104.4 213.5h.9M119.6 204.2h.9M128.5 215.3h.9M118.5 213.2h.9M116 213.2h.9M117.2 215.1h.9M139.7 223.1h.9M121.1 204.6h.9M118.6 213.1h.9M109.9 222.2h.9M118.4 207.1h.9M126 211.1h.9M122.2 218.1h.9M131.9 199.6h.9M105.2 233.7h.9M118.1 214.6h.9M110.1 223.7h.9M122.6 197.2h.9M127.6 213h.9M128.4 233.3h.9M117.7 210.7h.9M126.7 221h.9M117 218.5h.9M126.8 197.7h.9M128.6 213.5h.9M115.7 209h.9M103.9 224.9h.9M128.8 195.9h.9M118.5 222.4h.9M100.1 204h.9M133.3 205.6h.9M130.9 220.4h.9M101.7 230.2h.9M101.9 222h.9M115.5 215.3h.9M105.8 219.1h.9M129.8 234.3h.9M147.5 198.4h.9M151.5 196.5h.9M117.2 209.6h.9M133.7 212.5h.9M114.8 199.9h.9M127 228.5h.9M113.2 238.9h.9M132.3 228.4h.9M130.3 204.8h.9M148.6 211.9h.9M143.5 211.8h.9M121.6 210.3h.9M138.4 226.2h.9M149.8 227.8h.9M115.8 209.2h.9M132.3 213.9h.9M116.4 211h.9M120.9 208.3h.9M130.8 225.1h.9M110.9 231.2h.9M130.2 227.5h.9M122.6 237.9h.9M113.1 237h.9M132.3 238h.9M118.7 230.4h.9M118.7 213h.9M149.1 228.8h.9M128.4 238.1h.9M132.9 209h.9M114.7 212.3h.9M149.5 198.5h.9M134.6 235.6h.9M122.6 230.9h.9M137.7 202.6h.9M136.9 216.2h.9M130.4 209.7h.9M128 212.1h.9M114.4 215.9h.9M141.7 237.1h.9M112.1 210.6h.9M113.1 221.7h.9M136.1 228.8h.9M146.3 227.2h.9M147.4 199.1h.9M119.5 212.1h.9M143.9 232.3h.9M118 204.8h.9M118.4 216.4h.9M129.4 230.6h.9M134.1 206.1h.9M132.3 218h.9M148 237.5h.9M130.9 201.6h.9M125.3 209.5h.9M129.5 198.6h.9M118.1 199.9h.9M140.1 231.3h.9M117.7 219.8h.9M130.3 223.4h.9M114.3 208.5h.9M140.1 227.1h.9M125.4 203.6h.9M142.7 205.9h.9M117.4 200.1h.9M130.5 237.2h.9M146.3 211.3h.9M140.4 209.7h.9M119 215.2h.9M114.5 207.3h.9M135 235.8h.9M150.7 209.3h.9M127.1 199.4h.9M139.3 232.8h.9M138.4 228h.9M150.6 205.2h.9M127.2 213.3h.9M114.2 204.2h.9M114.5 235.3h.9M147.8 235.8h.9M119.3 199.8h.9M134.4 206.6h.9M136.6 214.8h.9M147.4 223.5h.9M127.9 232.4h.9M120.8 235.2h.9M147.7 236.7h.9M135.7 221.6h.9M151.2 228.7h.9M142.4 235h.9M137.7 228.6h.9M129.9 217h.9M110.5 232.3h.9M144.2 223.9h.9" stroke="#000" stroke-width=".9" stroke-opacity="0.5" fill="none"/>
<path d="M118 195.3L97.9 247.7H151.1" stroke="#c2c2c2" stroke-width="1" fill="none"/>
<text x="117.8" y="259" font-size="8.7">13.53%</text>
<path d="M45.5 208H48.5M45.5 236.9H48.5M45.5 265.7H48.5M45.5 286.7H48.5M46.9 228.2H48.5M46.9 223.1H48.5M46.9 219.5H48.5M46.9 216.7H48.5M46.9 214.4H48.5M46.9 212.5H48.5M46.9 210.8H48.5M46.9 209.3H48.5M46.9 257.1H48.5M46.9 252H48.5M46.9 248.4H48.5M46.9 245.6H48.5M46.9 243.3H48.5M46.9 241.4H48.5M46.9 239.7H48.5M46.9 238.2H48.5M46.9 280.8H48.5M46.9 277.2H48.5M46.9 274.4H48.5M46.9 272.1H48.5M46.9 270.2H48.5M46.9 268.5H48.5M46.9 267H48.5M46.9 199.3H48.5M46.9 268.5H48.5M46.9 271.7H48.5M46.9 274.9H48.5M46.9 278.1H48.5M46.9 281.3H48.5M46.9 284.5H48.5M46.9 290.9H48.5M46.9 294.1H48.5M65.1 298V301M98.8 298V301M142.7 298V301M112 298V299.6M119.7 298V299.6M125.2 298V299.6M129.5 298V299.6M133 298V299.6M135.9 298V299.6M138.4 298V299.6M140.7 298V299.6M51.5 298V299.6M54.9 298V299.6M58.3 298V299.6M61.7 298V299.6M68.5 298V299.6M71.9 298V299.6M75.3 298V299.6M78.7 298V299.6M82.1 298V299.6M85.5 298V299.6M88.9 298V299.6M92.3 298V299.6M95.7 298V299.6" stroke="#000" stroke-width="1.1" fill="none"/>
<path d="M45.5 194.5H152.5M45.5 298H152.5M48.5 193.9V301M152.5 193.9V301" stroke="#000" stroke-width="1.35" fill="none"/>
<text x="40.9" y="210.5" font-size="8.9" text-anchor="end">10<tspan font-size="6.6" dy="-4.3">6</tspan></text>
<text x="40.9" y="239.4" font-size="8.9" text-anchor="end">10<tspan font-size="6.6" dy="-4.3">5</tspan></text>
<text x="40.9" y="268.2" font-size="8.9" text-anchor="end">10<tspan font-size="6.6" dy="-4.3">4</tspan></text>
<text x="41.2" y="289.7" font-size="8.9" text-anchor="end">0</text>
<text x="65.3" y="313.3" font-size="8.9" text-anchor="middle">0</text>
<text x="99.8" y="313.3" font-size="9.2" text-anchor="middle">10<tspan font-size="6.6" dy="-4.3">6</tspan></text>
<text x="143.7" y="313.3" font-size="9.2" text-anchor="middle">10<tspan font-size="6.6" dy="-4.3">7</tspan></text>
<text x="237.1" y="187.9" font-size="11" text-anchor="middle">GP6  + CVX</text>
<path d="M223.6 211h.9M226.7 218.6h.9M222.8 222.9h.9M227 219.8h.9M221.2 211.1h.9M219.6 212.3h.9M238 200.2h.9M217.8 230.5h.9M220.2 228.9h.9M216.8 208.5h.9M222 218.7h.9M222.7 210.5h.9M217.8 239.2h.9M219.4 223.6h.9M214 209.7h.9M225.5 223.8h.9M207.6 221.3h.9M221.2 217.7h.9M226.2 201.2h.9M209 244.9h.9M229.3 203.2h.9M227.8 220.3h.9M213.6 229.9h.9M222 212.8h.9M225.7 222.7h.9M230 208.7h.9M221.6 232.4h.9M228 211.1h.9M216.5 231.7h.9M221 217h.9M222.8 212.7h.9M225.9 224.4h.9M232.2 217.2h.9M228.8 232.5h.9M221.8 207.3h.9M218.4 227h.9M218.6 229.8h.9M220.5 222.7h.9M216.2 220h.9M228.6 235.7h.9M233 215.4h.9M220.5 222.8h.9M222.5 213.7h.9M214.9 238.9h.9M209.8 234.5h.9M219 224.1h.9M221 234.7h.9M229.4 226.5h.9M228.9 216.9h.9M233.5 211.3h.9M223.6 202.5h.9M209.8 206.2h.9M225.3 232.6h.9M225.4 215.6h.9M219.1 227.6h.9M232.6 218.7h.9M212.3 232h.9M223.5 204.2h.9M220.2 215.4h.9M228.5 228.2h.9M220.2 239.3h.9M214.5 214.9h.9M227.6 231h.9M223.2 218.8h.9M220.7 230.7h.9M215.6 226.4h.9M234.1 218.2h.9M231 205.4h.9M222.5 238.9h.9M216.1 221.9h.9M227.2 218.5h.9M221.7 223.6h.9M218.8 226.3h.9M214.6 230h.9M217.9 215.1h.9M216.4 226h.9M221.4 222.7h.9M218.4 208.2h.9M215.8 222h.9M214.4 231.6h.9M221.6 199.1h.9M219.2 224.2h.9M217.8 228.2h.9M217 231h.9M229 210.1h.9M226.7 223.1h.9M224.4 226.8h.9M217.1 237.5h.9M220.6 233.2h.9M219.6 216h.9M217.2 220h.9M220.6 232.8h.9M233.8 223.3h.9M213.5 228.4h.9M223.3 211.8h.9M215.3 225.4h.9M222.5 239.6h.9M234.1 218.9h.9M222.7 225h.9M214.2 231.5h.9M217.1 237.3h.9M221.1 222.9h.9M215.5 217.8h.9M217.7 243.9h.9M228.3 210.9h.9M222.2 238.8h.9M225.8 204.3h.9M223.4 217.7h.9M220.5 223.5h.9M215 214.3h.9M231.6 233.5h.9M211.3 218.2h.9M224 200.2h.9M217.5 227.5h.9M218 209h.9M219.8 232.8h.9M219.6 220.9h.9M226.8 210.6h.9M217.5 236h.9M223.9 217.9h.9M215.9 234.6h.9M222.1 227.3h.9M230.1 213h.9M224.1 212.8h.9M215.5 231.3h.9M219.4 222.3h.9M224.4 220.1h.9M212.9 239h.9M222.1 215.9h.9M220.9 202.9h.9M237.4 211.1h.9M213.1 226h.9M228.4 229.7h.9M221.6 234.1h.9M224.8 229.4h.9M222.2 225h.9M227.7 214.7h.9M223.9 221.3h.9M220.6 233.6h.9M230.1 213.8h.9M233.8 214.5h.9M214.3 226.7h.9M223.3 225.5h.9M229.6 226.1h.9M221.3 243.5h.9M217.6 218h.9M226.8 214.5h.9M232.6 199.6h.9M224.2 219.9h.9M209.5 220.4h.9M225.7 225.1h.9M217 211.3h.9M236.8 216.8h.9M221.4 232.9h.9M222.6 219.2h.9M228.4 215.3h.9M225.9 204.7h.9M220.7 223.9h.9M228 212.2h.9M217.9 220.5h.9M224.6 225.9h.9M227.4 224.8h.9M228.9 220.5h.9M232.2 213.9h.9M227.5 227.3h.9M220.5 236h.9M225.5 232.4h.9M218 233.1h.9M227.8 213.6h.9M224.9 235.6h.9M239.1 207.9h.9M221.1 219.4h.9M214.5 219.7h.9M239.1 210.8h.9M226.3 228.2h.9M230 228.7h.9M230.5 214.4h.9M226.9 213.5h.9M214.4 231.9h.9M232.2 217.9h.9M221.4 238.1h.9M223.1 224.2h.9M221 208.6h.9M220.7 217.9h.9M223.2 210.4h.9M212.1 204.9h.9M232.8 198.7h.9M233.4 216.8h.9M216.5 228.1h.9M229.5 204h.9M220.4 230.2h.9M221.8 208.3h.9M227.6 214.8h.9M214.3 229.6h.9M216.8 228.7h.9M222.8 224h.9M224 216.6h.9M229.1 206.1h.9M218.1 218.6h.9M235 200.8h.9M221 208.9h.9M223.7 230.4h.9M217.1 227.4h.9M216.8 217.8h.9M219.6 227h.9M216.7 220.1h.9M223.4 211.1h.9M222.9 217.8h.9M231 211.4h.9M223.3 230.7h.9M220.9 232.1h.9M214.5 236.7h.9M206.4 238.6h.9M219.3 225.8h.9M221.2 219.6h.9M220.9 223.1h.9M219.9 219.9h.9M229.4 196.2h.9M221.5 235.3h.9M214.5 221.4h.9M220.3 226.6h.9M224.7 234.1h.9M225 203.7h.9M217.4 219.3h.9M227.3 206h.9M215.5 233.3h.9M232.7 199.7h.9M240 197.4h.9M217.8 230.7h.9M225.3 222.2h.9M219 221.2h.9M222.7 213.4h.9M218 236.5h.9M221.4 214.1h.9M232.1 214.9h.9M217.7 227h.9M214.1 226.6h.9M218.5 224.5h.9M221.1 209.9h.9M217.2 227h.9M208.2 230.5h.9M225.4 213.6h.9M233.2 220.1h.9M216.5 208.5h.9M231.6 223.8h.9M226.9 208.3h.9M229.5 216.7h.9M209.1 239.4h.9M233.8 222.6h.9M220.7 209.6h.9M222.4 220.2h.9M237.4 207h.9M214 223.4h.9M214 207.9h.9M216.5 234.9h.9M218.7 219.2h.9M215.1 225.1h.9M213.2 230.5h.9M209 232.9h.9M230.8 221h.9M230.8 218.3h.9M212.7 225.3h.9M216.3 234.9h.9M216.1 230h.9M231.8 214.2h.9M212.7 232.9h.9M236.2 210.9h.9M214.8 240.1h.9M219.9 215.9h.9M225.3 212.8h.9M225.3 205.4h.9M232.1 230.4h.9M219.8 229.9h.9M213.5 236.2h.9M227.3 210.4h.9M229.6 225.3h.9M215.5 224h.9M212 222.1h.9M230.5 220.5h.9M225.9 221.6h.9M225.8 206.1h.9M232.2 213.2h.9M206.1 221.2h.9M228.8 224.2h.9M220.2 223.9h.9M225.7 223.1h.9M225.9 211.8h.9M239.5 224.5h.9M212.6 236.1h.9M227.9 223.7h.9M208.7 216.4h.9M224.5 216.4h.9M226.8 221.8h.9M214.2 218.3h.9M216.9 204.5h.9M218 233.4h.9M238 197.5h.9M226.1 229.6h.9M214.2 231.2h.9M228.1 212.2h.9M220.3 205.2h.9M237.5 209.7h.9M226.5 202.5h.9M231.4 217.7h.9M221.5 219.3h.9M222.7 215.5h.9M231 224h.9M215.6 225h.9M236.8 204.7h.9M229.3 198.8h.9M218.1 218.6h.9M217.2 221.5h.9M226.1 228.6h.9M214.3 239.9h.9M217.6 227.6h.9M212.4 223.4h.9M228.6 223.2h.9M223.4 234.3h.9M215.4 243.2h.9M229.7 214.6h.9M209.9 244.1h.9M222.8 222.4h.9M227.2 210.8h.9M214.2 232.8h.9M217.1 237.6h.9M219 218.6h.9M218.1 221.8h.9M213.2 225.3h.9M231 201.7h.9M225.9 201.6h.9M223.1 211.8h.9M229.5 224.1h.9M220.9 224.1h.9M226.6 210.1h.9M213.6 219.9h.9M226.9 202h.9M233.6 208h.9M222.7 228.5h.9M226.5 211.6h.9M229.1 201.8h.9M226.1 212.8h.9M220.3 232.1h.9M219.8 222.7h.9M208.2 219h.9M233.5 222.9h.9M228.8 222.2h.9M220.3 223.9h.9M234.1 213.2h.9M222.3 201.7h.9M226.8 229.4h.9M216.8 237.6h.9M229.1 217.6h.9M221 219.3h.9M225.5 215.5h.9M222.6 229.2h.9M229.6 218.8h.9M221.2 231.6h.9M230.2 208.2h.9M227.6 199.2h.9M227.4 234.3h.9M219.4 225.1h.9M218.7 225.3h.9M217.5 215h.9M219.1 218h.9M217.3 210.9h.9M219.9 226.1h.9M222.3 224.6h.9M218.4 212.1h.9M212 240.3h.9M223.3 209.3h.9M225.1 229h.9M208.4 233.2h.9M211.1 226.3h.9M231.9 216.5h.9M228.7 210.7h.9M220.6 201.9h.9M232 217.4h.9M227.3 231.1h.9M231.5 215.6h.9M211.9 216.2h.9M208.8 241.6h.9M229.1 200.3h.9M218.4 207.3h.9M233.9 218.4h.9M219 219.1h.9M221.8 226.6h.9M222.7 232.4h.9M218.9 238.8h.9M234.7 196.7h.9M225.4 207.8h.9M227.3 212.1h.9M223.6 214.8h.9M202.2 236.9h.9M226.9 224.7h.9M220.3 216.7h.9M225.8 204.9h.9M216.2 230.1h.9M217.1 213.3h.9M215.6 219.6h.9M213.8 215.2h.9M221.8 229.4h.9M230.9 217.6h.9M223.8 218.5h.9M208.4 238.6h.9M235.5 208h.9M210.7 226.1h.9M218.7 202h.9M219.4 231h.9M228.1 228.4h.9M229.3 198h.9M220.7 215.6h.9M228.8 201.1h.9M220.1 214h.9M225 206.3h.9M223.6 221.6h.9M226.1 201h.9M236.3 200.4h.9M221.2 209.2h.9M224.2 227.2h.9M223.2 224.1h.9M216.7 229.2h.9M224.4 211.4h.9M223.9 212.3h.9M228.6 230.7h.9M223.2 206.7h.9M226.6 228.2h.9M236.9 200.1h.9M225.3 208.7h.9M239 204h.9M207.5 222.3h.9M219.8 231h.9M215.3 240.4h.9M226.3 211.5h.9M222.3 233.7h.9M227.4 202.5h.9M222.9 216.9h.9M232.7 212.5h.9M216.6 233.5h.9M215.1 223.6h.9M227 218h.9M226.2 210.2h.9M214.3 232.6h.9M227.7 216.1h.9M215.3 226.8h.9M221.9 207.4h.9M220.8 221h.9M220.8 221.9h.9M225.5 213.9h.9M222.4 203h.9M231 225.3h.9M232.5 206.1h.9M219.3 230.7h.9M225.7 216.1h.9M205 226.6h.9M229 218.3h.9M213.6 227.3h.9M226 219.5h.9M219.9 209.2h.9M223.8 232.1h.9M212.2 238h.9M221.3 220.5h.9M233.6 216.1h.9M229.4 218.3h.9M211.8 226.5h.9M223.5 207.8h.9M222.9 222.7h.9M225.6 209.6h.9M223.3 230.8h.9M221.7 212.4h.9M218.9 201.4h.9M215.4 224.7h.9M220.9 221.9h.9M228.9 212.9h.9M229.5 214.5h.9M231.3 217.5h.9M223.8 220.9h.9M214.8 236.6h.9M226.9 220.6h.9M216.6 233.7h.9M221.1 217h.9M209.8 245h.9M234.7 204.4h.9M239.7 200.2h.9M232.1 216.6h.9M210.9 225.4h.9M227.4 224.8h.9M221.5 206.5h.9M224.4 210.7h.9M222.9 228.3h.9M221.8 202.4h.9M220.1 208.1h.9M221.7 211.3h.9M230.3 226.6h.9M228.7 221.3h.9M215.2 225.4h.9M224.7 217.2h.9M220.8 227h.9M230.2 206.2h.9M219.6 217.1h.9M231.6 219.7h.9M222.7 214.5h.9M228.9 217.1h.9M207.8 231.9h.9M231.1 205.2h.9M224.3 218.3h.9M227.6 228.3h.9M205.1 224.8h.9M222.8 228.1h.9M224.5 227.8h.9M221.8 218.4h.9M226 231.8h.9M234.6 222.3h.9M228.4 219.3h.9M224.1 228.8h.9M240.4 196.6h.9M224.8 221.4h.9M231 217.9h.9M226.7 219.1h.9M218.8 219.6h.9M220.8 209.2h.9M235.6 205.8h.9M225.9 221.3h.9M215.6 227.7h.9M225.8 213h.9M214.9 213.8h.9M217.5 219.5h.9M228.2 217h.9M220.3 238.3h.9M214.9 221.9h.9M213.1 229h.9M221.4 225.9h.9M233.1 215.6h.9M222.2 221.7h.9M208.2 221.4h.9M233.8 208h.9M223 219.3h.9M211.2 241.7h.9M212.1 229h.9M231.1 217.3h.9M226.4 215.1h.9M226.1 217.9h.9M226 217.3h.9M221 230.8h.9M226.8 222.5h.9M226.3 236.9h.9M213.5 227h.9M218.3 230h.9M216.6 228.4h.9M230 227.2h.9M220.3 221.8h.9M210.8 225.6h.9M227.7 207.5h.9M216.9 223.6h.9M226.1 200.8h.9M225.1 207.5h.9M210.4 231.1h.9M216.8 205.8h.9M226.4 240.1h.9M228.8 203.2h.9M219.4 214.4h.9M221.4 232.8h.9M211.8 221.1h.9M214.1 234.7h.9M229.2 208.3h.9M212.5 232.7h.9M223.9 223.8h.9M218.5 212.1h.9M219.2 218.8h.9M223.2 217.1h.9M223.7 224.1h.9M226.2 212.2h.9M214.8 229.6h.9M223.3 213.1h.9M206.1 229.7h.9M234.5 222.9h.9M215.2 232.6h.9M220.1 222.1h.9M226.7 214.3h.9M231.3 207.5h.9M216 241.8h.9M215.5 227.8h.9M209.4 228.2h.9M227.2 206.3h.9M214.4 228.7h.9M222.9 211.3h.9M220.2 226.4h.9M217.1 237.5h.9M229.8 222h.9M216.5 233.3h.9M216.9 208.6h.9M229.4 212.3h.9M233.5 207.3h.9M209.3 228.7h.9M232.9 203.9h.9M228 209.9h.9M211.4 239.9h.9M233.6 195.6h.9M232.3 202.2h.9M220.8 233.7h.9M230 219.3h.9M216.2 235.9h.9M221.9 222.1h.9M235.9 223.6h.9M219.8 211.3h.9M217.3 229.5h.9M220.5 220.2h.9M222.2 232.9h.9M230 218.6h.9M218.7 210.2h.9M229.2 222.4h.9M221.6 205h.9M239.6 217.5h.9M220.7 215h.9M233.6 209.6h.9M215.4 234.3h.9M226 222.5h.9M210.4 239.3h.9M223.1 221.1h.9M220.4 226.1h.9M226.8 211.4h.9M224.6 227.4h.9M217.2 227h.9M220.4 221h.9M215 219.4h.9M224.2 214.4h.9M215.9 229.6h.9M220.2 239.7h.9M218.6 240.3h.9M224.1 205.9h.9M219 236h.9M227.2 228.7h.9M216.3 232.8h.9M220.5 208.1h.9M232.7 232.3h.9M231.1 207.7h.9M222.9 230.2h.9M236.9 222.5h.9M221.9 210.3h.9M228.6 210.2h.9M207.1 230.3h.9M223.4 225.9h.9M224.2 222.4h.9M210 239.9h.9M221.4 210.6h.9M223.4 215.8h.9M223.7 214.3h.9M224.3 239.9h.9M222.1 218h.9M223.7 215.2h.9M226.4 208.4h.9M211.8 223.2h.9M223.1 211.8h.9M221.2 225.8h.9M209.2 220.7h.9M215.2 221.9h.9M216.9 238.2h.9M209.9 220.3h.9M222 198.6h.9M223.4 233.3h.9M214.7 220h.9M228 206.8h.9M226.8 214.7h.9M218.1 215.7h.9M212.2 220.8h.9M229.9 225.1h.9M219.7 219.2h.9M228.4 213.7h.9M219 218h.9M228.8 210.5h.9M207.1 239.1h.9M219.2 208.2h.9M214.7 224.4h.9M219.3 219h.9M217.3 224h.9M223.8 212.4h.9M224.3 222.8h.9M222.7 212.2h.9M223.7 231.7h.9M220 216.9h.9M231.7 207.8h.9M234.5 210.5h.9M230 228.2h.9M212.9 214.7h.9M229.8 228.3h.9M212.8 218.1h.9M230 223.3h.9M228.1 206.6h.9M227.1 214.5h.9M224.4 201.8h.9M234.5 204.8h.9M220.3 236.4h.9M221.1 215.8h.9M217.3 224.3h.9M219.6 240.7h.9M222.9 235h.9M224.2 227.8h.9M228.3 200.5h.9M223 219.5h.9M226.6 224.5h.9M226.8 222.5h.9M225 231.4h.9M224.1 218.8h.9M218.5 220h.9M216.6 239.7h.9M222.5 227.5h.9M227.8 214.2h.9M217.8 219.8h.9M227 213.4h.9M215 230.3h.9M234 223.8h.9M232.8 212.9h.9M216.6 239.3h.9M212.4 226h.9M214.4 222.4h.9M224.9 225.1h.9M219.5 225.9h.9M225.4 218h.9M219.1 205.5h.9M216.4 213.3h.9M227.9 209h.9M226.3 208.1h.9M212.9 224.4h.9M219.7 215.6h.9M225 226.3h.9M223.4 212h.9M224 225.6h.9M230.3 226h.9M232.1 201.8h.9M222.5 222.7h.9M212.4 236.9h.9M229.5 221.6h.9M216.5 214h.9M214.6 223.8h.9M222.8 219.6h.9M219.6 205.7h.9M225.3 228.3h.9M218.5 221.2h.9M222.1 229.5h.9M222.5 216h.9M220.7 221.3h.9M218.5 230.9h.9M211.7 218h.9M225.3 197.3h.9M212.3 238.7h.9M227.8 240.7h.9M228.4 218.2h.9M220 237.6h.9M226.2 196.1h.9M220.4 239.1h.9M223.1 237.7h.9M224.2 227.7h.9M241.2 213.6h.9M219.3 208.4h.9M219.6 211.6h.9M222.6 216.4h.9M223.5 203.6h.9M214.6 241h.9M226.6 218.3h.9M229.1 204.1h.9M218.3 232.6h.9M226.2 217.6h.9M232.2 208.1h.9M224.9 204.8h.9M218.5 220.5h.9M237.3 201.8h.9M223.2 213.9h.9M223.2 206.5h.9M219.2 233h.9M217.3 228.1h.9M219.8 229.2h.9M230.4 200.2h.9M219 243h.9M222 209.6h.9M217 216.1h.9M217.2 223.4h.9M213.2 220.5h.9M218.3 202.7h.9M213.7 241.8h.9M216.8 224.9h.9M218 204.4h.9M221.2 209.7h.9M212.9 228.5h.9M226.5 225.6h.9M217.1 237.5h.9M228.8 204.9h.9M214.1 222.5h.9M227.5 205.5h.9M229.7 212.6h.9M219.4 230.6h.9M227.4 224.1h.9M226 213.1h.9M228.2 216.7h.9M231.9 204h.9M224.8 206.5h.9M231 219.4h.9M227.6 213.2h.9M223.7 230h.9M214.4 224.7h.9M219.7 211.2h.9M223.2 216.1h.9M213.4 231h.9M225.5 222.4h.9M221.1 230.1h.9M226.5 229h.9M231.6 206.9h.9M212.5 228.5h.9M224.6 229.5h.9M221.8 212.4h.9M219.2 217.8h.9M223.7 218.4h.9M216 236.4h.9M227.9 222.6h.9M235.6 230.3h.9M221.2 230.1h.9M227.6 229.5h.9M220.2 223h.9M228.2 211.4h.9M228.5 197.9h.9M221 218h.9M236.4 206.3h.9M225.5 219.8h.9M218.2 237.7h.9M218.8 217.8h.9M237.4 209.3h.9M228.1 204h.9M215.3 228.6h.9M222.8 229.8h.9M223.3 229.8h.9M227.9 229h.9M223.8 201.6h.9M222.3 214.7h.9M234.9 213.1h.9M219.2 219.3h.9M221.7 221.1h.9M217.9 209h.9M216.3 223.6h.9M223.5 204.8h.9M219.1 227.5h.9M210.2 233.2h.9M220.1 240.4h.9M228.1 205.7h.9M224.8 211h.9M224 230.7h.9M226.3 207.1h.9M215.5 219.3h.9M222.3 221.4h.9M227.4 240.9h.9M220.8 226.3h.9M225.9 219.8h.9M222.6 217.3h.9M219.1 225.8h.9M229.9 209.9h.9M215.6 198.3h.9M212.7 226.4h.9M221.5 214.2h.9M214.4 236.5h.9M232.1 218.4h.9M231.1 235.9h.9M225.3 223h.9M225.6 218.8h.9M225.2 224.1h.9M235.3 211.4h.9M214.1 226.6h.9M218.1 224.1h.9M225 216.6h.9M224.1 220.9h.9M214.1 213.1h.9M224 223.2h.9M210.9 225.6h.9M229.7 214.1h.9M227.5 220.8h.9M215.1 205.1h.9M231.4 206h.9M222.2 224.2h.9M216.2 226.9h.9M225.6 226.9h.9M230.2 231.3h.9M216.4 243.2h.9M224.5 199.2h.9M217.2 212.3h.9M215 224h.9M231.3 215.6h.9M225.5 217.4h.9M222.3 220.6h.9M231.7 210.7h.9M222.9 219.8h.9M222.6 220.8h.9M219.2 216.3h.9M209.5 243.5h.9M219.7 227.9h.9M213.4 225.6h.9M238.8 204.9h.9M226.1 213.5h.9M223.5 209.9h.9M230.7 214.8h.9M216.4 219.8h.9M235.7 203.6h.9M222.3 222.3h.9M226.1 239.5h.9M222.8 211.6h.9M226.1 205.8h.9M218.9 216.9h.9M218 213.1h.9M228.4 209.6h.9M224.2 200.5h.9M227.1 213.9h.9M227.1 199.7h.9M229.6 218.7h.9M218.7 236h.9M227.3 209.3h.9M224.1 216.6h.9M220.1 217.1h.9M226.1 237.7h.9M225.5 206.9h.9M224.1 222.8h.9M217 230.3h.9M218.1 226h.9M222.2 222.5h.9M226.7 220h.9M212.9 227.5h.9M216.2 229.1h.9M217.4 212.2h.9M224.5 221.4h.9M227.2 196h.9M217 222.9h.9M229.5 212.8h.9M230.6 200.3h.9M224 222.8h.9M226.5 208.5h.9M226.3 217.2h.9M223.5 219.3h.9M224.2 199.5h.9M219.4 231.2h.9M218.3 225.8h.9M213.6 239h.9M223.7 221.7h.9M224.4 207.6h.9M216.2 220.4h.9M232.6 213.1h.9M228.9 232h.9M226.1 206.3h.9M228.2 223.4h.9M222.6 225.9h.9M226.8 200.1h.9M218.4 218.1h.9M223.9 212.8h.9M221.1 217.5h.9M224.2 211.2h.9M222.7 218.1h.9M211.5 230.8h.9M228.5 218.4h.9M219.1 212.1h.9M219 213.2h.9M226.5 224.2h.9M234.9 201.2h.9M227 230.9h.9M224 218.7h.9M220.4 216.1h.9M223.8 234.2h.9M216.9 232.8h.9M225.1 212.1h.9M221.4 210.5h.9M225.5 219h.9M203.3 232.7h.9M224.2 224.1h.9M213.5 212.9h.9M230.1 214.7h.9M220 203.3h.9M228.3 216.1h.9M239.9 214.2h.9M228.8 200.7h.9M206.2 243.3h.9M237.3 212.8h.9M218.5 223.7h.9M219.2 212.1h.9M230.2 220.1h.9M203.4 225.2h.9M211 226.7h.9M217.9 212.2h.9M218.4 220.3h.9M215.5 207.4h.9M225.3 225.8h.9M237.7 198.1h.9M221.3 222.5h.9M229.9 195.9h.9M211.2 225h.9M227.7 214.6h.9M224.2 205.8h.9M220.1 235.7h.9M223.7 232.7h.9M224.8 215.4h.9M216.9 202.6h.9M224 202.7h.9M232.3 216.5h.9M228.9 208.8h.9M224.9 235.7h.9M209.2 219.8h.9M228.6 203.5h.9M219.4 225.6h.9M213.2 219.1h.9M211.6 237.8h.9M227 224h.9M218.4 238.6h.9M221.6 214.7h.9M231 204.2h.9M230.3 218.9h.9M217.9 215.7h.9M222.5 224.9h.9M230.6 215.9h.9M214.2 230.7h.9M227.4 227.7h.9M232 195.7h.9M222.7 236.7h.9M225 228.1h.9M217.9 235.9h.9M226.7 205.6h.9M218.3 221.2h.9M217.9 234.4h.9M218.2 234.3h.9M235 210.6h.9M225.3 212.3h.9M228.1 211.8h.9M231.2 224.2h.9M228.4 210.7h.9M231 206.3h.9M234.1 216h.9M216 238h.9M216 242.7h.9M220.1 237.8h.9M223.3 216.8h.9M210.2 234.3h.9M210.2 229h.9M221.8 219.3h.9M224.6 232.2h.9M222.1 236.4h.9M235.4 212.9h.9M229.6 216.6h.9M222.8 210h.9M219.2 206.9h.9M226.4 203h.9M221.1 220.1h.9M217.9 220.7h.9M219.5 241.7h.9M217.4 221.3h.9M222.9 228.1h.9M231.4 210.3h.9M216.6 209.1h.9M227 203h.9M234 210.8h.9M232.3 208.9h.9M225.6 214.7h.9M217.5 216.4h.9M217.2 223.1h.9M222.9 220.7h.9M224.8 233.6h.9M226.9 217h.9M221.7 221.1h.9M214.6 243.5h.9M210.2 224.8h.9M215.3 223.5h.9M221.3 223.8h.9M234.6 208.6h.9M225.3 229.7h.9M212.8 233h.9M224.4 216.3h.9M223.2 207.8h.9M227.9 201.3h.9M218.7 232h.9M219.5 222.5h.9M217.7 224h.9M223.2 201.3h.9M217.4 209.4h.9M221.6 219.8h.9M226.7 212.9h.9M224.1 225.8h.9M217.3 221h.9M218.6 219.4h.9M226.8 228.7h.9M223.5 224.2h.9M228.6 218.5h.9M220.6 216.7h.9M225.4 202.6h.9M220.4 208.6h.9M227.3 223.4h.9M206.7 242.5h.9M206.8 233.4h.9M216.3 224.6h.9M227.3 227.5h.9M216.7 235.2h.9M222 225.3h.9M223.5 219.6h.9M219.4 227.6h.9M220.9 221.9h.9M214.7 218.8h.9M227.9 231.9h.9M217.8 229.9h.9M228.1 224.6h.9M215.5 214.5h.9M220.5 233.4h.9M207.1 240.8h.9M211.4 228.6h.9M226 215.7h.9M220.5 240.8h.9M233.6 213.4h.9M226.7 230h.9M221.5 218.8h.9M223 231h.9M221.9 213.1h.9M219.8 219.1h.9M225.3 217.2h.9M213.1 242.1h.9M230 214.6h.9M205.4 235.5h.9M226.8 226.9h.9M221.7 213.9h.9M229.1 226h.9M230.5 217.7h.9M217.1 216.6h.9M222.5 219.7h.9M222.3 231.2h.9M222.7 208.1h.9M223.5 206.9h.9M218.4 226.1h.9M222.2 232.3h.9M228 220.5h.9M216.8 228.3h.9M227.3 221.1h.9M233.6 214.9h.9M230.1 215.5h.9M225.1 203h.9M220.1 214h.9M219.2 232.9h.9M222.8 232h.9M227 215.9h.9M228.8 199.1h.9M216 222.8h.9M224.9 233.6h.9M227.8 205.2h.9M231.4 226.1h.9M219.5 210.9h.9M225.4 208.3h.9M214.7 230.3h.9M230.3 228.7h.9M226.3 229.6h.9M222.2 214.1h.9M215.3 209.7h.9M226.1 228.7h.9M225.5 215.1h.9M208.6 238.1h.9M216.2 213.9h.9M226 218h.9M221.3 220.5h.9M216.7 237.1h.9M224 222.8h.9M215.7 231.9h.9M227.4 204.5h.9M224.5 225.5h.9M220.9 223h.9M220.5 221.6h.9M228.1 216.4h.9M212.5 216h.9M231.2 217.7h.9M220.6 232h.9M223.3 207.3h.9M219.3 225.9h.9M232.1 215.2h.9M226.3 219.5h.9M217.9 205.5h.9M216.8 219.6h.9M216.8 237.4h.9M226.5 237.2h.9M225.3 225h.9M227.5 205.4h.9M223.5 226.7h.9M222.7 220.4h.9M226.4 206.6h.9M221.9 227.9h.9M212.7 213.1h.9M228.9 220h.9M222.5 228.6h.9M221.2 217.5h.9M222.6 207.7h.9M220.8 207h.9M222.3 225.2h.9M224.9 217.5h.9M230 227.5h.9M207.9 224.2h.9M214.4 230.2h.9M222 210.4h.9M220.5 222.1h.9M211.5 233.9h.9M222.7 223.2h.9M224.4 222.2h.9M225 238.5h.9M219.4 232.2h.9M225.7 206.2h.9M217.4 225.9h.9M218.2 219.3h.9M223.6 225.4h.9M230.3 213.6h.9M226.6 207.2h.9M225.8 210.7h.9M232 217.8h.9M225.4 215h.9M219.8 234.9h.9M222.6 204.4h.9M216.8 225.8h.9M207.5 226.2h.9M213.7 222.2h.9M220.8 230.4h.9M230.7 219.1h.9M224.2 212.5h.9M221.9 204.5h.9M222.5 222.2h.9M225.7 229.8h.9M220.4 223.6h.9M222 235.6h.9M218.9 228.8h.9M224.9 196.6h.9M214.4 227.4h.9M230.3 228.2h.9M230.4 215.7h.9M215.8 222.1h.9M211.4 212.4h.9M235.6 223.3h.9M219.4 226.6h.9M230.3 226h.9M223.4 225.4h.9M213.9 206.6h.9M234.5 202.7h.9M238.6 207.9h.9M231.7 229.7h.9M238.9 219.6h.9M222.6 232.1h.9M216.8 235.3h.9M224.3 220.8h.9M217.5 210.1h.9M228.7 224.7h.9M233.3 213.2h.9M230.3 212h.9M221.2 209.4h.9M227.5 225.6h.9M212 237.3h.9M242.4 202.3h.9M216.1 225.8h.9M223 210.5h.9M223.4 214.3h.9M213.5 222.8h.9M224.6 212h.9M204.1 214h.9M236.7 233.2h.9M221.2 235.2h.9M219 238.7h.9M219.4 211.4h.9M222.5 227.8h.9M220.9 227.3h.9M226.6 215.3h.9M209.9 221.3h.9M225.7 212.8h.9M205.2 223.8h.9M219 227.6h.9M221.1 206.9h.9M215 228.4h.9M223.9 212.6h.9M232.4 217.7h.9M232.8 225.3h.9M214.9 242.9h.9M208 235h.9M229.1 240.3h.9M205.6 233.6h.9M223.4 208.7h.9M217 232h.9M211 235.1h.9M231 232.2h.9M225.8 224h.9M224 212.8h.9M233.7 215h.9M218.9 228.7h.9M226.2 210.7h.9M217.5 242.4h.9M223.4 229.8h.9M226.8 225.4h.9M221.9 220h.9M217.4 202.1h.9M219 224.8h.9M197 226h.9M222 217.9h.9M217.6 217h.9M231.9 218.4h.9M200.2 217.2h.9M239.7 225.6h.9M217.5 227.7h.9M213.6 209.3h.9M223 231.3h.9M223.7 231h.9M232.5 207.9h.9M236.2 238.1h.9M216.6 218.9h.9M228.3 215.2h.9M222.6 226.1h.9M222.5 207.8h.9M222.4 229.9h.9M238.2 212.4h.9M208.4 238.7h.9M219.6 240.2h.9M231.3 223.8h.9M235.6 205.3h.9M218.9 195.9h.9M220.9 233.4h.9M219.9 220.7h.9M230.1 231.7h.9M242.2 218.5h.9M211.5 222.4h.9M234.1 205.6h.9M217.7 215.2h.9M234.2 233.9h.9M231.8 235.3h.9M214.9 221h.9M231.3 218.1h.9M220.2 227.7h.9M216 215.6h.9M218 236.4h.9M227.5 222.1h.9M226.1 205.7h.9M227.6 217h.9M223.8 226.7h.9M221.9 230.9h.9M209.8 227.9h.9M218.1 237.1h.9M224.6 229.8h.9M212.8 213.5h.9M232.2 233.6h.9M242.9 205.4h.9M226.3 217.2h.9M237.1 233.8h.9M216.7 219.4h.9M223.3 199.8h.9M209.4 241.3h.9M218.7 216.2h.9M228.7 208.9h.9M218 232.9h.9M226.6 221.1h.9M234.3 229.6h.9M216.7 228.9h.9M223.8 225.9h.9M231.2 229.7h.9M214.2 239.1h.9M224.3 225.5h.9M224.4 214.4h.9M224.7 228.6h.9M241.1 221.5h.9M225.1 211.2h.9M237.5 217h.9M232.1 202.8h.9M228 210.7h.9M233.7 213.9h.9M228 223.4h.9M226 222.8h.9M225.5 230.5h.9M218.6 213.5h.9M222.8 207.7h.9M212.4 225.7h.9M224.7 210h.9M219.1 226.8h.9M223.3 212.8h.9M226.5 225.1h.9M220.2 207.6h.9M231.2 196.1h.9M231 221.4h.9M233.7 233.1h.9M221.3 227.2h.9M235.7 217.3h.9M231.3 232.2h.9M220.3 205.8h.9M226.6 218.5h.9M219.7 206.7h.9M217.3 227.4h.9M221.4 235h.9M209.4 227.1h.9M229.3 218.1h.9M218 231.1h.9M224.8 211.9h.9M213.3 227.4h.9M209.1 218.3h.9M213.9 245h.9M214.4 227.1h.9M213.9 240h.9M214.2 218.9h.9M214.6 221.6h.9M219 208.8h.9M208.8 228.2h.9M208.4 239.8h.9M214.2 226h.9M224 219.9h.9M248.1 230.2h.9M219.2 217.4h.9M217.1 200.9h.9M225.7 227.8h.9M212.4 220.3h.9M211.8 229.5h.9M217.4 228h.9M228.8 208.2h.9M225.5 217h.9M228.4 205.6h.9M227.4 229.3h.9M223.9 207.3h.9M222.1 219.1h.9M215.4 210h.9M232.6 212.4h.9M223 216.9h.9M231.3 243.4h.9M219.7 214.6h.9M231.2 235.1h.9M208.5 219.9h.9M219.2 211.7h.9M226.3 220.9h.9M230.9 224.4h.9M225.3 196.4h.9M231.9 220.9h.9M223.7 208h.9M220.8 215.6h.9M229.2 199.4h.9M233.9 231.2h.9M230.5 206.8h.9M234.8 199h.9M209.4 221.4h.9M229.7 208.5h.9M218.2 239.5h.9M237.3 222.4h.9M220.1 209.2h.9M213.3 229.7h.9M206.7 241.4h.9M218.3 218.6h.9M226.5 227.6h.9M217.8 216.4h.9M234.4 221.5h.9M227.6 210.7h.9M224.1 198.4h.9M220.2 213.7h.9M204.5 236.5h.9M215.3 208.1h.9M233.9 219.8h.9M230.6 222.1h.9M223.6 197.9h.9M220.9 216.4h.9M233.5 230.7h.9M219.8 213h.9M216.5 242.3h.9M231.9 210.5h.9M221.8 219.7h.9M230.3 198.9h.9M223.9 211.3h.9M225.9 216.7h.9M211.9 213.8h.9M217.3 236.3h.9M224 222.7h.9M214.3 213.1h.9M231.6 209.9h.9M218.1 212.6h.9M206.4 204h.9M211.6 206.2h.9M221 228.1h.9M228.9 218.9h.9M218.6 222.4h.9M205.3 232.5h.9M213.9 239.8h.9M234.3 213.3h.9M230 202.5h.9M219 198.2h.9M222.2 233.3h.9M229.2 201.1h.9M229.7 200.5h.9M219.5 230.8h.9M229.8 216.4h.9M231 198.7h.9M216 216.7h.9M228.3 205.4h.9M220.8 229.2h.9M230.3 228.9h.9M218.1 205.8h.9M221.1 222.6h.9M216.9 216.5h.9M225.5 220.5h.9M213.5 232.2h.9M229.6 225.6h.9M216.2 223h.9M212.2 223.2h.9M211.7 215.3h.9M209.9 229.4h.9M217.4 205.8h.9M220.1 224.8h.9M228.2 211.2h.9M217.8 231.8h.9M220.5 235h.9M211.8 230.1h.9M228.8 219.8h.9M215.3 237.4h.9M230.7 211.5h.9M226 227h.9M224.7 208.3h.9M230.5 229.6h.9M233.3 213h.9M214.5 232.8h.9M230.8 240.4h.9M238.9 218.5h.9M208.3 223.2h.9M250 227.7h.9M264.9 221.5h.9M263.8 197.9h.9M263.9 209.4h.9M269 230.4h.9M250.6 203.4h.9M264.3 198.5h.9M287.7 235.7h.9M247.7 218.7h.9M279.1 202.1h.9M269.6 211.9h.9M253.1 230.6h.9M273.9 230.5h.9M259.8 207.6h.9M265.8 227.5h.9M254.4 210.7h.9M288 204.7h.9M285.2 219.9h.9M266.8 212.1h.9M265.7 227.8h.9M262 232.2h.9M269.9 235.5h.9M272.2 226.9h.9M277.7 211.4h.9M251.4 211h.9M284.3 204.8h.9M248.3 215.7h.9M285.3 226.5h.9M254.4 199.4h.9M266.1 201.9h.9M281.2 224.5h.9M260.3 207.5h.9M249.6 219h.9M274.3 218.1h.9M276.4 204h.9M262.6 231.8h.9M273.4 215.6h.9M281.3 198.9h.9M245.2 231.7h.9M273 226h.9M271.9 203.9h.9M264.6 228.6h.9M253.7 202.1h.9M259.7 216.4h.9M262.7 223.6h.9M280.2 236.2h.9M277 234.6h.9M267 232h.9M258.1 233.8h.9M282.6 202h.9M246.8 199.4h.9M260.6 201.8h.9M259.5 224.1h.9M265.9 199.2h.9M247 205.3h.9M263.4 199.4h.9M251.3 222h.9M247.7 223.9h.9M287.8 206.5h.9M280.9 207.2h.9M259.5 235.5h.9M273.1 214.4h.9M255.4 208h.9M283.2 223.8h.9M272.5 225.6h.9M263.9 217.9h.9M257.5 200.9h.9M264 207.6h.9M277.3 228.7h.9M278.6 208.3h.9M247.5 203.7h.9M286.9 208.4h.9M267.6 226.7h.9M284 233h.9M247.5 231.6h.9M282.1 232.2h.9M270.5 232.4h.9M249.2 235.3h.9M245.1 230.6h.9M255.4 221.9h.9M284.4 209.2h.9M273.4 236.4h.9M259.2 206.1h.9M258.1 209.9h.9M276 227.3h.9M262.2 214.6h.9M248.9 199.1h.9M272.6 218.9h.9M267 231.8h.9M282.7 217.9h.9M249.3 227.4h.9M273.5 205.3h.9M278.3 228h.9M266.8 210.4h.9M279.5 211.4h.9M283.2 226.3h.9M276.7 219.4h.9M253.6 214.4h.9M250.4 211.4h.9M268.6 209.6h.9M287.3 231.7h.9M286.2 220.1h.9M264.8 227.5h.9M271.8 234.7h.9M258.5 215.2h.9M272.5 225.4h.9M245.9 200.3h.9M283.7 216.9h.9M284.1 224h.9M274.5 227.1h.9M251.2 221.6h.9M257.2 216h.9M282.3 233.8h.9M258.2 204.4h.9M279.2 224.4h.9M282 212.8h.9M275.7 198h.9M258 236.4h.9M271.8 227.6h.9M282 230.6h.9M276 201.8h.9M280.3 229.6h.9M282.7 214.9h.9M267.9 208.5h.9M274.1 219.2h.9M269.4 230.6h.9M287.3 234.3h.9M249.1 217.3h.9M246.2 226.9h.9M279.4 230h.9" stroke="#000" stroke-width=".9" stroke-opacity="0.5" fill="none"/>
<path d="M254.6 195.3L234.5 247.7H287.7" stroke="#c2c2c2" stroke-width="1" fill="none"/>
<text x="254.4" y="259" font-size="8.7">7.62%</text>
<path d="M182.1 208H185.1M182.1 236.9H185.1M182.1 265.7H185.1M182.1 286.7H185.1M183.5 228.2H185.1M183.5 223.1H185.1M183.5 219.5H185.1M183.5 216.7H185.1M183.5 214.4H185.1M183.5 212.5H185.1M183.5 210.8H185.1M183.5 209.3H185.1M183.5 257.1H185.1M183.5 252H185.1M183.5 248.4H185.1M183.5 245.6H185.1M183.5 243.3H185.1M183.5 241.4H185.1M183.5 239.7H185.1M183.5 238.2H185.1M183.5 280.8H185.1M183.5 277.2H185.1M183.5 274.4H185.1M183.5 272.1H185.1M183.5 270.2H185.1M183.5 268.5H185.1M183.5 267H185.1M183.5 199.3H185.1M183.5 268.5H185.1M183.5 271.7H185.1M183.5 274.9H185.1M183.5 278.1H185.1M183.5 281.3H185.1M183.5 284.5H185.1M183.5 290.9H185.1M183.5 294.1H185.1M201.7 298V301M235.4 298V301M279.3 298V301M248.6 298V299.6M256.3 298V299.6M261.8 298V299.6M266.1 298V299.6M269.6 298V299.6M272.5 298V299.6M275 298V299.6M277.3 298V299.6M188.1 298V299.6M191.5 298V299.6M194.9 298V299.6M198.3 298V299.6M205.1 298V299.6M208.5 298V299.6M211.9 298V299.6M215.3 298V299.6M218.7 298V299.6M222.1 298V299.6M225.5 298V299.6M228.9 298V299.6M232.3 298V299.6" stroke="#000" stroke-width="1.1" fill="none"/>
<path d="M182.1 194.5H289.1M182.1 298H289.1M185.1 193.9V301M289.1 193.9V301" stroke="#000" stroke-width="1.35" fill="none"/>
<text x="177.5" y="210.5" font-size="8.9" text-anchor="end">10<tspan font-size="6.6" dy="-4.3">6</tspan></text>
<text x="177.5" y="239.4" font-size="8.9" text-anchor="end">10<tspan font-size="6.6" dy="-4.3">5</tspan></text>
<text x="177.5" y="268.2" font-size="8.9" text-anchor="end">10<tspan font-size="6.6" dy="-4.3">4</tspan></text>
<text x="177.8" y="289.7" font-size="8.9" text-anchor="end">0</text>
<text x="201.9" y="313.3" font-size="8.9" text-anchor="middle">0</text>
<text x="236.4" y="313.3" font-size="9.2" text-anchor="middle">10<tspan font-size="6.6" dy="-4.3">6</tspan></text>
<text x="280.3" y="313.3" font-size="9.2" text-anchor="middle">10<tspan font-size="6.6" dy="-4.3">7</tspan></text>
<text x="373.6" y="187.9" font-size="11" text-anchor="middle">RASGRP2  + CVX</text>
<path d="M363.1 217.1h.9M362.4 210.2h.9M370 208.6h.9M350.9 233.9h.9M364.3 228.4h.9M360.1 220.5h.9M362.8 218h.9M368.9 237.6h.9M372 215.5h.9M364.3 209.5h.9M374.4 221.5h.9M366.2 213.6h.9M353.5 226.3h.9M374.8 214.1h.9M352.8 219.9h.9M353.3 235.8h.9M368.5 222h.9M371.3 220.3h.9M357.5 224.1h.9M352.1 232.2h.9M357.4 229.7h.9M370.7 226.9h.9M339.5 234.1h.9M375.1 215.6h.9M372 213.7h.9M371.4 227.7h.9M364 207.5h.9M370.3 226.7h.9M353 226.4h.9M369.9 216.8h.9M365.4 214.5h.9M344.9 218.2h.9M356.1 232h.9M361.2 230.3h.9M376.2 214.7h.9M359.1 220.6h.9M364.9 229h.9M365.9 214.3h.9M372.4 222.3h.9M371.5 228.4h.9M367.9 212.9h.9M358.6 227h.9M360 218.2h.9M346 222h.9M352 238.5h.9M369.2 223.1h.9M364.2 234.4h.9M357 231.3h.9M378.6 223.5h.9M360.5 219.9h.9M366.6 217.5h.9M371.3 204.4h.9M363 217.4h.9M365.5 215.9h.9M353.7 227.6h.9M366.9 212.2h.9M371.1 214.9h.9M359.2 229.8h.9M362.2 211.1h.9M369.3 220.2h.9M358.6 219.1h.9M367.7 221.9h.9M378.9 201.2h.9M349.7 218.2h.9M356.6 219.2h.9M370.7 223.8h.9M359.8 219.6h.9M350.3 233h.9M365.7 213.6h.9M370.5 213.6h.9M377.9 208.9h.9M359.6 224.1h.9M367.2 237.9h.9M365 213h.9M356 227.2h.9M363.5 220h.9M363.2 224.7h.9M374.2 225.1h.9M375.8 234h.9M366.6 213.6h.9M358.3 227.6h.9M382 203.8h.9M368.4 213.8h.9M366 229.4h.9M352.9 224.3h.9M368.5 225.7h.9M349.1 215.6h.9M362.9 229.6h.9M376.5 212h.9M384.7 223h.9M353.1 225.8h.9M371.9 219h.9M368.5 223.2h.9M363.5 210.5h.9M362.3 227.2h.9M371.9 199.8h.9M358.2 215.3h.9M367.2 198.1h.9M360.6 223.6h.9M366.1 205.3h.9M351.8 213h.9M375.8 208.2h.9M353.5 215.1h.9M362.5 232.2h.9M359.8 230.4h.9M356.1 222.4h.9M358.7 209.1h.9M361.4 213.8h.9M357.3 214.1h.9M368.4 210.4h.9M371.8 205.7h.9M373.4 239.1h.9M358 203.7h.9M374.3 199.2h.9M364.3 228h.9M367.4 229.5h.9M374.8 222.8h.9M360.1 214.6h.9M366.2 228.3h.9M347.1 209.2h.9M372.5 206.5h.9M374.9 216.6h.9M364.2 230.1h.9M346.4 228.7h.9M353.3 226.2h.9M352.8 210.1h.9M355.6 223.9h.9M351.5 221.7h.9M370.3 215.8h.9M358.4 219.7h.9M365.9 226.2h.9M365.1 218.3h.9M370.9 207.3h.9M376.8 225.4h.9M375.5 219.8h.9M357.1 214.4h.9M381.7 213.6h.9M362.1 233.8h.9M366 235.3h.9M364.3 226.6h.9M365.5 196.4h.9M371.2 206.3h.9M343.7 219.4h.9M353.6 218.4h.9M363.5 213.1h.9M372.5 225.3h.9M369.9 213.4h.9M363 225.4h.9M359.5 237.2h.9M362.7 211.7h.9M378.3 214.9h.9M357.1 234h.9M348 231.8h.9M358.5 221.8h.9M352.4 234.8h.9M370.7 219.5h.9M366.4 235.9h.9M367 213.1h.9M361.3 222.4h.9M376.1 226.9h.9M387.5 228.5h.9M374.2 229.7h.9M359.9 229.6h.9M367.7 211.5h.9M360.2 235.4h.9M374.5 210.2h.9M356.3 222.1h.9M369.7 230.5h.9M382 227.9h.9M361.9 213.5h.9M362.7 213h.9M353.1 230.4h.9M351.9 222.4h.9M371.4 221.1h.9M358.1 211.4h.9M368 224h.9M374.4 211.5h.9M368 225.1h.9M361.1 206.5h.9M371.7 212.2h.9M368.2 218.8h.9M368.8 225.8h.9M371.1 216h.9M363.6 214.3h.9M375 220.2h.9M368 233.4h.9M375.4 222.3h.9M369.2 204.3h.9M366.1 225h.9M359.9 215.5h.9M362.2 221.7h.9M374.2 216.4h.9M344.2 231.2h.9M390.5 219.1h.9M374.9 221.4h.9M358.7 219h.9M362.7 215.8h.9M370.6 210.9h.9M365.9 216.8h.9M361.1 209.8h.9M370.7 210h.9M356.3 212.5h.9M365.1 211.7h.9M383.9 215.9h.9M367.5 215.5h.9M358.7 223.8h.9M378.6 220.7h.9M378.2 205.1h.9M366.6 225.6h.9M363.8 214.3h.9M373.7 221.5h.9M367.7 211.8h.9M367.6 227.4h.9M368.4 223.3h.9M386.3 211.8h.9M374.6 218.9h.9M361 225.3h.9M362.7 209.4h.9M363.2 218.6h.9M369.2 204.9h.9M364.8 240h.9M362.5 217.6h.9M356.4 202.6h.9M359.8 232.3h.9M365.4 229.9h.9M361.8 212.6h.9M369.2 223.1h.9M354.9 217.2h.9M367.9 218.9h.9M355.8 231h.9M361.8 228.5h.9M377.1 208.1h.9M356.9 222.7h.9M372.1 220.2h.9M361.3 218.6h.9M370.3 213.9h.9M375.2 223.7h.9M361.4 213.1h.9M371.8 211.2h.9M376.2 224.5h.9M362.7 239.5h.9M356.8 222.8h.9M369 206.1h.9M374 214.1h.9M359.4 219.4h.9M356.1 233.5h.9M352.3 220.3h.9M380.4 206.1h.9M361.7 203.8h.9M372.4 211h.9M359.8 236.4h.9M352.9 228.5h.9M351.7 218.4h.9M349.2 225.9h.9M353.6 211.2h.9M369.4 236.8h.9M355.6 208.3h.9M355.5 216.6h.9M363.5 226.3h.9M368.7 215.3h.9M373.5 221.1h.9M373.4 224.9h.9M365.3 225.2h.9M364 220.5h.9M350.3 233.5h.9M352.4 235.4h.9M366.6 229.9h.9M369.2 221.8h.9M378.5 208.8h.9M356.6 209.9h.9M354.4 225.1h.9M357.7 221.3h.9M354.2 228.3h.9M357.9 216.2h.9M368.3 224h.9M370.9 225.2h.9M377.3 226h.9M367.3 209.7h.9M367.9 214.4h.9M358.7 230.1h.9M369.4 213.5h.9M353.8 225h.9M371.7 220.7h.9M352.8 210.9h.9M371.2 204.7h.9M352.4 213h.9M368 223.8h.9M354.6 216.6h.9M362.4 208.4h.9M366.3 217.8h.9M356.8 218h.9M370.9 214.7h.9M374.2 201.7h.9M385.9 215.6h.9M365.7 203h.9M356.6 221.1h.9M367.7 223.5h.9M366.3 219.5h.9M357.8 236h.9M372.6 205.2h.9M362.4 236h.9M369.1 218.6h.9M365.8 236h.9M357.1 213.5h.9M370.9 214.7h.9M366.3 215.1h.9M362.3 229h.9M355.3 221.5h.9M374.9 216.3h.9M356.2 215.1h.9M370.8 223.2h.9M373.4 215.1h.9M339.5 232.8h.9M368.6 219.9h.9M359.9 201.8h.9M378.3 208.3h.9M358.7 207.9h.9M360.2 225.9h.9M368.5 211.3h.9M365.3 198.2h.9M349.7 217.4h.9M363.7 228.2h.9M360.9 219.4h.9M369.1 228.3h.9M352.9 236.5h.9M358.4 231.6h.9M372.1 233h.9M369.4 218.3h.9M362.3 224.9h.9M369.1 221.2h.9M367.8 206h.9M379.9 220.4h.9M358.1 227.4h.9M363.3 207.4h.9M367.9 222.6h.9M361.6 214h.9M370.7 212.9h.9M376.2 219h.9M365.4 236.5h.9M369.6 237.4h.9M373.6 223.3h.9M372.9 217.6h.9M380.1 205.8h.9M370.1 216.9h.9M362.6 223.2h.9M376.1 234.2h.9M360.4 225.8h.9M367.9 238.1h.9M356.8 230.4h.9M369.3 230.2h.9M347.9 207.4h.9M361.5 227.3h.9M361.2 217.7h.9M373.1 229.6h.9M372.9 228.8h.9M358.6 221.3h.9M366.1 217.9h.9M370.8 224.4h.9M352 243.2h.9M367.1 218.9h.9M371.6 224h.9M353.5 219.9h.9M375.9 226.2h.9M363.9 228.2h.9M348 207.2h.9M354.5 223.7h.9M368.5 214.8h.9M381.1 227.7h.9M356.9 232.3h.9M351.9 219.8h.9M377.5 221h.9M369.9 219.2h.9M366 219.6h.9M365.3 234.4h.9M359 224.6h.9M365.5 219h.9M373.1 222.7h.9M367.9 222.8h.9M366.6 231.7h.9M361.7 221.1h.9M372.9 232.1h.9M350 224h.9M350.7 223.7h.9M363.9 229.5h.9M355 231.6h.9M369.2 218h.9M369.9 214.9h.9M369.4 213.1h.9M354.5 222.6h.9M363 228.3h.9M374.8 224.6h.9M357.6 221.1h.9M375.3 231.6h.9M373.3 230.2h.9M351.2 230.2h.9M377.5 214.3h.9M350.6 227.8h.9M355.8 233.1h.9M363.2 209.8h.9M356 227.5h.9M360 204.4h.9M366.4 217.6h.9M360.9 213.6h.9M357.8 220.2h.9M345.3 223.8h.9M359 230.7h.9M377.7 228.4h.9M362.5 220.3h.9M357.7 230h.9M352 225.2h.9M357.6 225.9h.9M359.8 217.8h.9M358.2 210.8h.9M364.9 210h.9M360.1 221.8h.9M375.3 210.9h.9M367.3 213.8h.9M375.3 210.4h.9M368.4 233.6h.9M374.2 220.3h.9M368.8 210.5h.9M344.5 227.5h.9M369.3 212.8h.9M368.1 218h.9M376.5 217.9h.9M367.1 220.2h.9M388.8 223.8h.9M360.9 222.9h.9M366.4 227.9h.9M363.6 211.3h.9M363.1 210.9h.9M355.9 230.4h.9M373.2 212.2h.9M376 214.5h.9M351.6 199.2h.9M368.1 231.5h.9M381.4 217.3h.9M376.4 222.6h.9M375.6 217.2h.9M364.1 220.8h.9M366.2 226.7h.9M369.2 232h.9M355.8 221.6h.9M374.3 216.6h.9M364 229.2h.9M360.9 225.2h.9M378 226h.9M359.4 220h.9M347.7 232.9h.9M361.2 225.9h.9M359.3 221h.9M382.3 213.8h.9M358.6 208.4h.9M351.5 223.1h.9M360.9 230.9h.9M367.2 227.7h.9M359.1 213.9h.9M368.8 232.6h.9M355.7 209.1h.9M363.6 236.4h.9M361.4 214.4h.9M368.8 209.3h.9M364.5 220.8h.9M362.5 216h.9M369 218.3h.9M377.2 228.1h.9M365.1 221.6h.9M361.8 215.2h.9M366.9 220.8h.9M357.9 214.7h.9M369.5 205.3h.9M367.2 210.2h.9M374.1 216.2h.9M358.5 223.7h.9M365.2 226.7h.9M377.9 217.3h.9M368.8 235.8h.9M360.2 205.4h.9M357.1 231.2h.9M369.7 198.9h.9M375.8 213.7h.9M363.4 226.2h.9M362.3 224.4h.9M350.4 234.6h.9M358.7 217h.9M361.2 204h.9M374.2 220h.9M362.3 221.9h.9M376.5 204.6h.9M370 217.7h.9M372.1 220.9h.9M374.8 231.2h.9M367.1 215.3h.9M383.5 202.8h.9M357.4 210.1h.9M353.3 232.2h.9M361.8 215.9h.9M371.7 202.9h.9M378.6 216.3h.9M362.7 225.3h.9M367.3 218.2h.9M357.2 232.7h.9M367.1 214.7h.9M358.7 226.7h.9M358 222.2h.9M358.5 222.9h.9M358.3 224.6h.9M373.2 206.5h.9M361.6 201h.9M363.7 223.3h.9M365.2 219.8h.9M376.8 209.2h.9M356.5 218.2h.9M356.7 220.2h.9M365.1 230.9h.9M369.2 205.3h.9M368.7 221.5h.9M360.8 217.8h.9M355.2 218.9h.9M350.9 221.7h.9M366.5 210.6h.9M357.7 224.8h.9M354.5 219.6h.9M364.2 240.1h.9M358.9 229.5h.9M356.6 221h.9M371.3 231h.9M361.5 236.3h.9M356.8 222.4h.9M357.8 217.5h.9M349.2 240.7h.9M372.5 219.3h.9M354.8 217h.9M364.4 236.3h.9M361 221.3h.9M372.4 220.8h.9M364 220.2h.9M368 222.5h.9M368.8 223.5h.9M376.3 221.2h.9M353 228.6h.9M373.1 233.6h.9M359.2 212.4h.9M366.9 222h.9M363.1 232.1h.9M363.5 223.2h.9M366.4 230.2h.9M355.2 213.8h.9M355.4 233.8h.9M361.9 238h.9M356.9 232.4h.9M357.4 217.2h.9M379.5 202h.9M371.5 213.9h.9M365.7 207h.9M373 226.4h.9M370.4 206h.9M360.6 213.7h.9M365.9 220.8h.9M366.9 209.5h.9M357 229.7h.9M354.1 239.3h.9M355.7 228.6h.9M376.3 212.3h.9M371.7 215.1h.9M373.3 224.6h.9M357.5 218.6h.9M364.3 222.6h.9M368.6 218.9h.9M361.8 229h.9M356.4 205.9h.9M353 224.1h.9M374.3 211.7h.9M366.5 226.1h.9M360 228.4h.9M364.4 224h.9M367.2 233.5h.9M362 220.5h.9M350.2 232.1h.9M371.2 231.2h.9M369 223h.9M366 217.2h.9M358.4 221h.9M381.4 218.2h.9M353.8 233.3h.9M358.8 219.3h.9M369.9 230.2h.9M355.9 214.8h.9M362.5 222.5h.9M376.4 212.7h.9M363.1 219.8h.9M356.6 226.2h.9M381.4 203.1h.9M357.7 215.5h.9M362.7 221.4h.9M374.2 217h.9M354.9 221.1h.9M372 228.7h.9M368.4 213.3h.9M357.8 230.1h.9M359.5 222.6h.9M373.6 216h.9M372 204.7h.9M365.8 222.6h.9M371.9 227.2h.9M378.5 217.7h.9M347.5 226.3h.9M369.2 232.3h.9M357.5 225.3h.9M355.2 238.7h.9M349.3 244.6h.9M364.3 225.4h.9M366.3 211.2h.9M372.1 218.2h.9M378.1 215.2h.9M346.1 240.3h.9M364 222.1h.9M377.2 213.8h.9M366.5 232.5h.9M359.6 232.8h.9M368.4 219.4h.9M367.9 223h.9M366.4 214.5h.9M366.9 222.5h.9M370.1 209.9h.9M366.7 214h.9M352.1 209h.9M351.9 216.4h.9M371 216.9h.9M365.6 229.4h.9M372.9 215.2h.9M371.9 212.2h.9M368.3 212.1h.9M361.1 233.5h.9M364.9 215.7h.9M366.9 218h.9M378.8 220.3h.9M347.8 227.5h.9M357.9 223.2h.9M362.9 220.5h.9M361.1 201.7h.9M354.3 220.7h.9M376.2 218.3h.9M368.8 221.9h.9M374.8 204.9h.9M374.5 223.8h.9M349.8 229.6h.9M374.8 231.2h.9M365.9 218.6h.9M368.3 208.2h.9M375.1 220.2h.9M366.4 225.3h.9M358.9 231.8h.9M364.3 220.1h.9M353.2 214.2h.9M359.7 201.4h.9M370 213.4h.9M362.7 236.1h.9M347 236.1h.9M363 224.5h.9M356.8 212h.9M350.3 222.3h.9M361.5 224.7h.9M375.6 214.2h.9M373.4 218h.9M362.3 239.7h.9M361.9 214.6h.9M364.6 218.8h.9M368.4 225.7h.9M361.7 211.9h.9M366.2 214.8h.9M378.7 200.8h.9M365.9 218.8h.9M365.9 230.3h.9M364.5 226.6h.9M366.1 213.1h.9M361.5 195.4h.9M372.9 219.2h.9M373.8 220.7h.9M369.3 220.8h.9M364.4 225.8h.9M367.8 222h.9M365.3 235.6h.9M365.8 212.6h.9M367 216.6h.9M359.7 215h.9M358.6 226.7h.9M358.3 219.3h.9M356.5 221.8h.9M354.4 209.8h.9M362.5 222.6h.9M372.9 222.1h.9M351.8 200.5h.9M379.5 215.9h.9M358.7 228.7h.9M358.7 220.5h.9M360.4 230.7h.9M370.2 209.6h.9M359.4 227.1h.9M380.8 215.8h.9M362.9 225.4h.9M372.6 213.9h.9M360 223.8h.9M362.3 221.7h.9M359.8 215.8h.9M364.4 219.4h.9M359.1 218.5h.9M375.3 220.1h.9M370 210h.9M373.9 216.8h.9M369.8 229.9h.9M360.4 239.8h.9M361.1 216.8h.9M357 207.1h.9M376.8 221.6h.9M342.5 219.6h.9M362.4 212.1h.9M360.5 225.6h.9M367.4 207.4h.9M347.5 217.8h.9M350.9 220.9h.9M362.5 226.9h.9M355.6 211.4h.9M362.6 231.6h.9M384.2 207.3h.9M370.7 229.2h.9M376 207.5h.9M362.7 222.6h.9M360.4 221.4h.9M377.3 237.9h.9M367.6 231.7h.9M370.9 219.7h.9M373.4 212.3h.9M371.8 224.3h.9M348 219.6h.9M371 222.5h.9M356.7 224.4h.9M335.6 232.2h.9M372 224.2h.9M350.2 231.3h.9M363.7 227.5h.9M360.4 217h.9M359.9 222.1h.9M372.9 229.5h.9M375.3 209.5h.9M372.4 214.5h.9M363.6 201.7h.9M371.3 222.7h.9M362 216h.9M377.4 208.4h.9M354.9 221.2h.9M368.7 219.4h.9M368.7 221.8h.9M357.4 212h.9M369.9 217.1h.9M359.9 215.8h.9M376.7 219.3h.9M362.1 228.9h.9M367.7 216.8h.9M377.2 241.8h.9M375.7 215.5h.9M367.8 211.1h.9M368.7 225.9h.9M363.5 225.9h.9M372.6 226.5h.9M361.6 211.9h.9M368 241h.9M355.9 226.5h.9M367.6 211.5h.9M359 219.2h.9M355.6 229.6h.9M363.2 225h.9M348.3 230.1h.9M364.4 219h.9M365.6 222.4h.9M380.7 210.1h.9M355.6 229.3h.9M369.3 216.5h.9M375.7 242.8h.9M358 228.4h.9M364.1 222.9h.9M352.6 222.4h.9M380.5 210.3h.9M361.4 219.2h.9M371.5 234.6h.9M384.8 207.5h.9M365 230.6h.9M359.4 221.6h.9M361.3 221h.9M357.9 225.4h.9M368.4 216.4h.9M369 209.8h.9M354 228.8h.9M362.4 225.2h.9M362.2 223.8h.9M354.4 230.4h.9M362.6 235.3h.9M368.7 228.3h.9M356 225.7h.9M379.2 227.5h.9M371.3 216h.9M372.9 224.7h.9M377.4 226.7h.9M350.7 222.2h.9M364.1 227.9h.9M372.2 221.8h.9M374.9 221.5h.9M368.7 225h.9M373.6 221h.9M353.9 216.6h.9M352.1 226.2h.9M369.6 221h.9M349.7 215.7h.9M351.6 232.2h.9M367.9 213.5h.9M368.8 219.6h.9M373.9 219.1h.9M363.3 225.8h.9M367.6 205.7h.9M361.2 213.1h.9M372.3 215h.9M364.3 228.7h.9M365 225.1h.9M372.4 211.5h.9M364.9 221.7h.9M356.1 214.9h.9M372.5 209.1h.9M375.4 215.1h.9M358.8 214.4h.9M377.6 207.7h.9M360.4 235.7h.9M378.3 231.4h.9M361 225.1h.9M371.1 208.3h.9M365.8 203.4h.9M355.1 220.1h.9M355.4 212.9h.9M358.7 205.9h.9M371.6 219.8h.9M365.9 218.8h.9M371.8 214.4h.9M365.5 198.8h.9M352.8 211.3h.9M347.6 222.1h.9M373.7 228.7h.9M371.1 226h.9M354.2 218.2h.9M369 215.8h.9M369.6 215.9h.9M363.5 209.6h.9M363.2 214.4h.9M371.7 222.9h.9M363.2 232h.9M368.1 227.4h.9M361.8 229h.9M367 218.9h.9M366.9 224h.9M363.4 220.6h.9M377.7 224h.9M364.3 224.2h.9M373.7 214.9h.9M369.8 212.4h.9M355.3 225.5h.9M371.5 210.5h.9M360.7 222.2h.9M355.8 223.2h.9M367.8 226.9h.9M369.8 239.4h.9M368.2 219.5h.9M370.6 211.1h.9M352 229.7h.9M358 211.4h.9M371.5 219h.9M371.7 218.3h.9M363.3 212.5h.9M367.5 217.9h.9M356.9 221h.9M378.1 220h.9M367.2 218.9h.9M371.7 216.6h.9M376.7 225.8h.9M349.7 213.5h.9M366.9 223.1h.9M369.6 217.4h.9M368.6 211.6h.9M354.4 236h.9M365.3 236.3h.9M351.8 230.9h.9M357.9 222.4h.9M371.5 233.6h.9M372 223.8h.9M366 225.5h.9M376.9 214.1h.9M361.9 226.3h.9M359.1 225.4h.9M359.4 226.9h.9M365 224.8h.9M362.8 217.9h.9M352.5 218.1h.9M358.7 227.6h.9M359 232.9h.9M365 219.1h.9M365.9 228.3h.9M361.2 230h.9M369.1 227.3h.9M367.4 219.1h.9M374.9 204.5h.9M377.1 210.9h.9M365.3 231.8h.9M359.7 222.8h.9M348.9 232.8h.9M362.2 242.1h.9M351.5 233.4h.9M372 215.7h.9M361.1 220.4h.9M358.1 233.6h.9M369.5 232.3h.9M372.2 232.3h.9M353.2 220.8h.9M364 203.7h.9M334 222.1h.9M365.8 227.3h.9M375.5 225.9h.9M368.9 218.6h.9M351.1 236.9h.9M370.7 223.3h.9M352.2 227.1h.9M365.6 228.5h.9M364.2 239.3h.9M376.4 220.4h.9M386 199.9h.9M367.2 211.2h.9M361.1 222.1h.9M349.6 231h.9M380.7 222.3h.9M378.8 217.1h.9M358.4 229.5h.9M369.5 213.5h.9M356.4 236.2h.9M353.8 228.4h.9M368.7 222.2h.9M360.1 234.1h.9M371.5 217.1h.9M372.8 210.2h.9M350 210.1h.9M366.3 216.5h.9M365 202.7h.9M357.4 210h.9M385.4 220.3h.9M369.6 207.8h.9M357.9 228.4h.9M374.9 202.7h.9M366.1 208.2h.9M375.4 226.6h.9M358.2 206.7h.9M369.4 220.5h.9M362.5 216.6h.9M367 234h.9M367.7 227.6h.9M363.5 223.8h.9M361.7 206h.9M372.2 220.4h.9M372.9 221.8h.9M368.2 224.5h.9M369.9 209.7h.9M355.3 242.6h.9M355.2 224.6h.9M371.5 214.4h.9M364.8 225.6h.9M366.9 214.8h.9M367.5 204.2h.9M367.8 213.6h.9M351.5 228.5h.9M356.3 217.5h.9M364.9 234.2h.9M366.5 216.4h.9M367.3 210.5h.9M360.4 220.4h.9M370.2 218.6h.9M361.7 220.9h.9M371 202.8h.9M367.1 220.8h.9M366.9 219.5h.9M362.4 212.5h.9M364.1 207.9h.9M376.4 220.8h.9M363 219.7h.9M372.4 225.4h.9M371.2 219.2h.9M367.6 215.8h.9M361.3 222.6h.9M371.5 232.1h.9M359.6 219.8h.9M365 215.4h.9M387.6 227.4h.9M397.4 229.8h.9M383.8 224.4h.9M393.1 221h.9M382.8 227.6h.9M392.5 214.8h.9M397.2 222.8h.9M389.7 215.7h.9M388.1 225h.9M403.8 217.7h.9M418.1 224.8h.9M381.4 210.5h.9M388 227.2h.9M400.8 223h.9M389.5 221.2h.9M398.6 227.2h.9M400.1 222.1h.9M386.3 233.3h.9M395.4 215.4h.9M384.5 226.9h.9M383.1 227.9h.9M384.7 218h.9M403.7 215.2h.9M382.7 219h.9M390.8 213.6h.9M378.8 218.5h.9M403.1 226h.9M391.8 216.8h.9M395.7 209.9h.9M398.4 226.5h.9M390.5 219.6h.9M381.9 235.2h.9M393.9 219.4h.9M400.1 220.2h.9M395.2 222.5h.9M382.1 207.1h.9M404.7 228.8h.9M404.2 224h.9M378.6 217.9h.9M397.2 228.6h.9M394.4 218.4h.9M395.1 221.7h.9M393.3 236.2h.9M384.8 240.2h.9M400.3 226.9h.9M408.7 231.4h.9M410.1 220h.9M392.3 216h.9M379.8 218.9h.9M400.4 225.3h.9M382.5 211.8h.9M386.2 223.9h.9M381 228.2h.9M376.5 228.1h.9M395.5 235.2h.9M391.7 226.9h.9M391.9 220.5h.9M397.8 228.2h.9M392 218.4h.9M412.3 219.4h.9M403.6 236.2h.9M401.3 213.7h.9M386.5 225.7h.9M394.2 234.1h.9M378.4 212.5h.9M373.6 224.4h.9M398.3 206.2h.9M385.5 210.3h.9M397.6 218.2h.9M406.1 214.5h.9M395.6 219.6h.9M403.6 212.9h.9M381.7 241.9h.9M407.3 222.2h.9M401.6 228.8h.9M388.2 224.6h.9M400.2 216.3h.9M401 231.9h.9M390.2 229.1h.9M386.7 242.2h.9M402.2 209.1h.9M374.7 237h.9M389.7 217.8h.9M403.5 213.1h.9M399.5 221.4h.9M386 223h.9M401.7 236.8h.9M380.3 216.2h.9M399.2 226.6h.9M386.2 215.7h.9M385.5 231.7h.9M378.4 225.8h.9M400.9 216.3h.9M384.4 230.2h.9M380.5 223.7h.9M401.8 201.1h.9M383 222.6h.9M383.7 230.1h.9M390.4 233.3h.9M406.7 228.6h.9M378 215.5h.9M394.2 226.3h.9M374.2 232.7h.9M388.4 226.1h.9M394.6 224.4h.9M397.3 227.4h.9M404.8 216.7h.9M395.9 219.4h.9M382.9 233.7h.9M386.4 227.6h.9M396.7 231.7h.9M386.6 214.8h.9M391.6 212.8h.9M388.9 241.8h.9M376.1 234.1h.9M388.1 206.3h.9M389.9 233.6h.9M382.9 244h.9M381.6 223h.9M382.2 216.6h.9M383.8 229.2h.9M386.2 231.7h.9M396 212.8h.9M379.7 223h.9M397.3 224.3h.9M396.7 224.8h.9M381.2 214.3h.9M402.5 201.7h.9M381.2 228.3h.9M406.7 203.6h.9M386.9 229.5h.9M393.3 227.5h.9M404.6 232.9h.9M401.9 218.5h.9M402.2 224.5h.9M381.4 214.4h.9M386.1 220.1h.9M406.2 222.6h.9M394.9 204.2h.9M396 234.4h.9M403.8 219h.9M397 220.1h.9M393.5 220.3h.9M378.4 221.3h.9M377.8 222.7h.9M392.4 216.5h.9M370.9 235.7h.9M395.7 233.4h.9M389.7 213.4h.9M377.4 228h.9M394.1 201.7h.9M404.7 213.9h.9M385 228.6h.9M397.6 230.2h.9M402 235.7h.9M391.6 229.1h.9M384.3 219.7h.9M397 221.1h.9M405.4 214.6h.9M392.7 221.5h.9M387.2 214.8h.9M395.2 223.9h.9M381 218.5h.9M396.3 218.2h.9M387.3 223.3h.9M371.5 211.2h.9M400.3 222.6h.9M386.9 222.9h.9M386.3 220.6h.9M396.6 229.2h.9M374.6 222.7h.9M386 228h.9M392.7 224.8h.9M393.5 215.2h.9M391.2 222.6h.9M386.4 218.1h.9M383.5 223.4h.9M396.2 226.6h.9M368.5 232.8h.9M393.7 214.9h.9M395.3 212.3h.9M395.1 225.8h.9M383.7 225.5h.9M397 209.1h.9M389.6 228.4h.9M390.7 201.5h.9M380.2 211.5h.9M388.8 228.6h.9M401.2 235.7h.9M385.1 223.1h.9M393.1 225.5h.9M388.3 210.4h.9M391.3 224.7h.9M390.4 226.3h.9M395.5 226.2h.9M391.1 215.3h.9M403.1 235h.9M390.9 213h.9M404.8 228.9h.9M388.6 213.7h.9M401.7 223.4h.9M399.9 231h.9M412.2 230h.9M394.6 219.3h.9M389.2 206.8h.9M395.8 229h.9M378.9 225.9h.9M383.6 217.9h.9M389.6 218.3h.9M390 214.3h.9M396.5 227.6h.9M403.6 215.2h.9M387.4 234.3h.9M385.2 238.1h.9M389.2 220.9h.9M391.7 230.9h.9M399.4 230.1h.9M407.2 230.8h.9M411.9 208h.9M382.2 228.2h.9M380.1 222.5h.9M390 220.2h.9M382.6 230.9h.9M388.8 228.4h.9M393.9 206.3h.9M389.9 220.1h.9M391.3 221.3h.9M396.8 212.2h.9M377.6 228.2h.9M395.3 224h.9M386.9 216.3h.9M396.9 224h.9M379.9 221.1h.9M390.8 226.3h.9M385.8 215.7h.9M404 226h.9M391.7 231.4h.9M404.1 227.7h.9M373.6 229h.9M388.2 211.4h.9M390.6 209.4h.9M385.2 226.1h.9M396.4 231h.9M396.4 227.1h.9M398.2 225.2h.9M393.9 207.6h.9M399.8 228.4h.9M395 228.5h.9M388.2 220h.9M380.4 204.2h.9M393.4 212.8h.9M393.5 220.1h.9M397.5 235.8h.9M391.5 225.7h.9M386.9 226.5h.9M395.4 237.7h.9M397.8 235.4h.9M390.8 228.2h.9M401.1 222.2h.9M391.4 237.4h.9M389.1 217.3h.9M386.9 231.7h.9M395.5 215.2h.9M389.3 214.4h.9M403.8 218.6h.9M402.3 226.6h.9M396 240.5h.9M397.1 227.3h.9M394.6 233.5h.9M388.1 224.2h.9M377.4 218.3h.9M387 220h.9M395.4 224.6h.9M390.7 217.4h.9M419.8 221.1h.9M398.2 231.4h.9M392.1 220.7h.9M401.5 234.4h.9M394.5 228.2h.9M399.6 235h.9M392 221h.9M395.6 228.8h.9M396.2 216.9h.9M395.5 220.2h.9M393.1 235h.9M403.2 235.1h.9M395.4 221.6h.9M392.4 226h.9M386.2 218h.9M390.8 221.7h.9M399.4 222.4h.9M386.9 213.3h.9M386.7 222.7h.9M386.2 215.4h.9M401.9 216.9h.9M391.2 233.7h.9M398.9 221.1h.9M389.5 222.1h.9M387.9 208.4h.9M393.1 222.3h.9M400.3 233.1h.9M381.1 229.2h.9M388.9 224.9h.9M403.5 208.4h.9M388.8 213.1h.9M396.6 231.1h.9M396.5 227.2h.9M384.8 212.6h.9M379.5 219.6h.9M400.8 230.8h.9M391.2 213.9h.9M382.6 230.4h.9M385.4 217.1h.9M376.4 239.8h.9M377.2 226.7h.9M394.8 213.9h.9M394.6 208.4h.9M415.4 224.7h.9M393.3 224.5h.9M394.2 228.8h.9M402.9 220.4h.9M394.8 220.8h.9M392.7 221.5h.9M394.7 216.8h.9M394 230.2h.9M392.3 209.1h.9M385.8 218.9h.9M403.8 221.1h.9M386.1 212.2h.9M403.2 231.9h.9M383.7 227h.9M383.6 232.3h.9M389.7 240h.9M395.7 219.5h.9M379.3 235.2h.9M398.4 211.1h.9M393.4 227.7h.9M387.7 234.5h.9M390.1 214.8h.9M388.2 233.7h.9M398.3 228.7h.9M393.5 227.1h.9M396.4 211h.9M403.8 223.7h.9M406.4 226.4h.9M386.9 221.8h.9M390.7 203.6h.9M388.3 218.3h.9M393.6 222h.9M402.8 228.7h.9M401.1 228.9h.9M387.7 234.4h.9M393.4 214.7h.9M386.5 236.3h.9M395.7 219.9h.9M386.5 216.2h.9M383.2 210.3h.9M391.1 235.2h.9M390.2 206.3h.9M398.7 231.6h.9M410.8 232.8h.9M388.1 226.8h.9M383.3 220.9h.9M389.6 217.9h.9M395.6 212.4h.9M386.2 232.3h.9M394.5 232.4h.9M385.2 220.3h.9M389.1 221.8h.9M386.1 220.8h.9M406.1 224.2h.9M402.8 225.1h.9M388.1 216.8h.9M396.5 215.9h.9M400.4 218h.9M378.7 214.1h.9M384.9 223h.9M398 219.6h.9M398.8 201.6h.9M378.3 237h.9M388.9 226.3h.9M394.7 214.5h.9M393.2 233.8h.9M393.2 211.5h.9M396.5 224.1h.9M383 227.7h.9M395.7 232.3h.9M390.8 215.3h.9M390.1 231.4h.9M400 223.4h.9M401 228.3h.9M399.6 234.9h.9M386.8 210.3h.9M389.9 224h.9M388.1 214.2h.9M391.6 234.5h.9M409.5 223.8h.9M389.3 222h.9M401.6 217.7h.9M414 219.4h.9M404.2 215.2h.9M391.8 221.8h.9M384.6 210.8h.9M388.4 218.1h.9M400.3 227.4h.9M379.1 217.4h.9M382.4 234.4h.9M396 222.2h.9M392.9 222.2h.9M407.2 219.3h.9M400.4 207.6h.9M391.4 239.3h.9M384.1 224.7h.9M403.4 225h.9M397.2 212.2h.9M395 223.6h.9M391.2 220h.9M389.9 243.9h.9M401.9 203h.9M384.6 222.2h.9M404.5 229.1h.9M399.4 226h.9M386.6 227.2h.9M396.9 216.1h.9M395.1 205.9h.9M390.9 221h.9M395.6 224.1h.9M403.7 226.9h.9M404.4 223.3h.9M406.5 227.4h.9M389 230h.9M382.6 223h.9M387.1 223.3h.9M384.6 230.5h.9M399.3 233h.9M379.5 215.7h.9M384.4 223.9h.9M394 212.3h.9M396.3 222.4h.9M393.7 212.7h.9M384.2 214.6h.9M389.5 224.3h.9M374.2 212.1h.9M391 217.2h.9M383.2 235.3h.9M380.5 219.7h.9M396.2 218.9h.9M393.3 212h.9M390.3 220.6h.9M386.4 230.5h.9M399 222.5h.9M390.3 229.5h.9M387.6 218.2h.9M394.8 238.1h.9M406.5 214.7h.9M398.9 210h.9M394.6 236.2h.9M382.8 226.3h.9M403.3 235.9h.9M401.6 224.8h.9M400.3 214.9h.9M389.6 219.7h.9M379.9 223.8h.9M390.2 215.7h.9M392.9 219.3h.9M389.8 240.4h.9M392 225.3h.9M390.3 223.7h.9M388.7 230.9h.9M392.4 219.3h.9M392.6 208.4h.9M391 207.1h.9M394.9 237.1h.9M387.3 224h.9M406.3 229.6h.9M401.3 237.3h.9M392 226.5h.9M411.6 215.7h.9M373.9 234.4h.9M387.7 225.4h.9M387.7 227.9h.9M392.4 222.9h.9M412.5 223.4h.9M391.3 222.8h.9M396 230.3h.9M394.5 222.6h.9M394.3 228.6h.9M405.7 233h.9M400.7 198.2h.9M394.9 234.4h.9M387.9 219.6h.9M393.4 224.4h.9M377 232h.9M394.1 216.1h.9M384.7 213.9h.9M364.7 215.5h.9M403.2 238.7h.9M398.8 227.7h.9M385.5 226h.9M389.3 204.1h.9M392.7 230.6h.9M391.9 241.7h.9M400.5 221.2h.9M382.1 211.8h.9M390.7 218.4h.9M383.7 233.4h.9M383.3 229.8h.9M392.5 235.9h.9M386.2 217h.9M388.2 219.1h.9M387.6 198.1h.9M409.4 221.9h.9M397.3 226.3h.9M389.6 220.2h.9M394.9 199.9h.9M392.6 213.5h.9M419.1 233h.9M399 205.1h.9M390.7 225h.9M349.9 226.6h.9M377.8 234.7h.9M379.6 239.5h.9M399.9 237h.9M382.9 206.2h.9M365.6 233.9h.9M386.6 225.6h.9M374.2 216.8h.9M409.8 199.7h.9M381.5 225.3h.9M380.5 217.6h.9M401.2 230.4h.9M387.1 225.2h.9M378.8 204.1h.9M350.3 230.7h.9M380.9 204h.9M413.6 203.7h.9M422.2 228.9h.9M412.7 240.3h.9M352.3 231.2h.9M415.2 241.8h.9M383.8 204.4h.9M399.9 201.8h.9M394.2 219.9h.9M383.8 209.8h.9M360.7 210.5h.9M372.7 206.3h.9M372.1 211.4h.9M405.9 232.2h.9M355.8 216.5h.9M349.1 220.9h.9M412.5 204.8h.9M397.2 227.3h.9M389.2 230.1h.9M355.6 213.8h.9M353.8 223.2h.9M397.7 209.4h.9M356 201.4h.9M412.8 205.2h.9M357.3 197.8h.9M394.1 239.9h.9M362.8 242.5h.9M368.9 205.1h.9M370 236h.9M345.6 224.7h.9M377.5 233.5h.9M413.7 225.8h.9M384 221.6h.9M359.1 214.8h.9M385.6 215.4h.9M419.3 238.8h.9M381.3 211.3h.9M382.7 204.9h.9M406.1 244.1h.9M349.1 210.9h.9M369 202.3h.9M375.6 210.2h.9M368.6 235.4h.9M387.9 234.5h.9M406.8 239.3h.9M376.7 239.8h.9M407.2 244.4h.9M379.4 212.9h.9M416 208.2h.9M370 242h.9M379.5 240.6h.9M399.1 222h.9M344.3 212.2h.9M415.4 206.8h.9M379.5 243.5h.9M373.7 227.5h.9M353 226.2h.9M351.5 206.2h.9M381.9 206.1h.9M409.9 217.2h.9M392.6 239.7h.9M417.4 235.7h.9M423.3 209.9h.9M385.3 200.6h.9M359.3 226.2h.9M420 232.2h.9M361.5 241.1h.9M389.1 227.5h.9M360 209.4h.9M415.1 222.5h.9M405.7 230.7h.9M386.1 206.7h.9M414 240.2h.9M399 204.3h.9M394.6 198h.9M398.3 211.2h.9M415.8 233.8h.9M375.9 224.2h.9M400.3 210.7h.9M372.3 213.1h.9M397.6 221.4h.9M386.6 235.6h.9M404.4 243.2h.9M388.1 230h.9M383.7 204.1h.9M351 238.5h.9M347.7 235.8h.9M413.2 230.8h.9M380.2 235.9h.9M422.6 198.3h.9M379.9 229.5h.9M351.3 220.4h.9M403.9 244.2h.9M369.5 242.1h.9M394.1 219.7h.9M346.8 236.9h.9M416.1 231.8h.9M358.6 232.5h.9M373.5 214.1h.9M377.3 231.9h.9M386.6 199.1h.9M419.4 199h.9M414 208.3h.9M374.2 208.5h.9M373.9 198.1h.9M403.5 239h.9M370.5 234.6h.9M362.3 234h.9M419.7 235.7h.9M404.3 241.2h.9M376.8 204.6h.9M360.1 220.7h.9M384.1 215h.9M377.8 215.4h.9M367.8 228.7h.9M390.5 214.5h.9M357.4 241.3h.9M365 203.9h.9M388.5 205.8h.9M376.6 238.9h.9M377 209.5h.9M397.7 214.2h.9M349.6 218.8h.9M404.7 231.6h.9M421.1 240.2h.9M417.2 228.7h.9M415.2 208.3h.9M347.3 237.5h.9M368.6 212.5h.9M351.6 201.4h.9M352.2 199.1h.9M357.9 236.7h.9M348.1 222.2h.9M418.9 208.9h.9M391.7 200.6h.9M369.6 243.2h.9M363.6 234.8h.9M344 232.9h.9M346.1 216.8h.9M395.9 207h.9M382.4 214.6h.9M369.3 228.5h.9M381.5 227h.9M373.8 202.6h.9M400.7 237.9h.9M388.4 225.3h.9M377.6 224.1h.9M343.9 227.7h.9M387.9 223.4h.9M414 242.5h.9M363.9 208h.9" stroke="#000" stroke-width=".9" stroke-opacity="0.47" fill="none"/>
<path d="M391.1 195.3L371 247.7H424.2" stroke="#c2c2c2" stroke-width="1" fill="none"/>
<text x="390.9" y="259" font-size="8.7">33.82%</text>
<path d="M318.6 208H321.6M318.6 236.9H321.6M318.6 265.7H321.6M318.6 286.7H321.6M320 228.2H321.6M320 223.1H321.6M320 219.5H321.6M320 216.7H321.6M320 214.4H321.6M320 212.5H321.6M320 210.8H321.6M320 209.3H321.6M320 257.1H321.6M320 252H321.6M320 248.4H321.6M320 245.6H321.6M320 243.3H321.6M320 241.4H321.6M320 239.7H321.6M320 238.2H321.6M320 280.8H321.6M320 277.2H321.6M320 274.4H321.6M320 272.1H321.6M320 270.2H321.6M320 268.5H321.6M320 267H321.6M320 199.3H321.6M320 268.5H321.6M320 271.7H321.6M320 274.9H321.6M320 278.1H321.6M320 281.3H321.6M320 284.5H321.6M320 290.9H321.6M320 294.1H321.6M338.2 298V301M371.9 298V301M415.8 298V301M385.1 298V299.6M392.8 298V299.6M398.3 298V299.6M402.6 298V299.6M406.1 298V299.6M409 298V299.6M411.5 298V299.6M413.8 298V299.6M324.6 298V299.6M328 298V299.6M331.4 298V299.6M334.8 298V299.6M341.6 298V299.6M345 298V299.6M348.4 298V299.6M351.8 298V299.6M355.2 298V299.6M358.6 298V299.6M362 298V299.6M365.4 298V299.6M368.8 298V299.6" stroke="#000" stroke-width="1.1" fill="none"/>
<path d="M318.6 194.5H425.6M318.6 298H425.6M321.6 193.9V301M425.6 193.9V301" stroke="#000" stroke-width="1.35" fill="none"/>
<text x="314" y="210.5" font-size="8.9" text-anchor="end">10<tspan font-size="6.6" dy="-4.3">6</tspan></text>
<text x="314" y="239.4" font-size="8.9" text-anchor="end">10<tspan font-size="6.6" dy="-4.3">5</tspan></text>
<text x="314" y="268.2" font-size="8.9" text-anchor="end">10<tspan font-size="6.6" dy="-4.3">4</tspan></text>
<text x="314.3" y="289.7" font-size="8.9" text-anchor="end">0</text>
<text x="338.4" y="313.3" font-size="8.9" text-anchor="middle">0</text>
<text x="372.9" y="313.3" font-size="9.2" text-anchor="middle">10<tspan font-size="6.6" dy="-4.3">6</tspan></text>
<text x="416.8" y="313.3" font-size="9.2" text-anchor="middle">10<tspan font-size="6.6" dy="-4.3">7</tspan></text>
<path d="M23.2 287.3V51" stroke="#000" stroke-width="1.4"/>
<path d="M23.2 43.5L27 52.2L23.2 50.5L19.4 52.2Z" fill="#000"/>
<path d="M46.7 319.6H418" stroke="#000" stroke-width="1.4"/>
<path d="M426 319.6L416.8 315.8L418.6 319.6L416.8 323.4Z" fill="#000"/>
<text transform="translate(17.9 190.8) rotate(-90) scale(0.6 1)" font-size="11.6" style="stroke:#000;stroke-width:.3">CD42</text>
<text transform="translate(207 332.3) scale(0.66 1)" font-size="11.3" style="stroke:#000;stroke-width:.3">Fibrinogen 647</text>
<path d="M42.5 387V476.2M39.1 476.2H42.5M39.1 454.7H42.5M39.1 433.2H42.5M39.1 411.7H42.5M39.1 390.2H42.5" stroke="#000" stroke-width="1.2" fill="none"/>
<text x="35" y="479.64" font-size="9.7" text-anchor="end">0</text>
<text x="35" y="458.14" font-size="9.7" text-anchor="end">20</text>
<text x="35" y="436.64" font-size="9.7" text-anchor="end">40</text>
<text x="35" y="415.14" font-size="9.7" text-anchor="end">60</text>
<text x="35" y="393.64" font-size="9.7" text-anchor="end">80</text>
<text transform="translate(17.6 431.5) rotate(-90) scale(0.769 1)" font-size="10" text-anchor="middle" style="stroke:#000;stroke-width:.2">% bound fibrinogen</text>
<rect x="47.9" y="475.3" width="11.6" height="0.9" fill="#c6c4c9"/>
<rect x="65.2" y="473.6" width="11.6" height="2.6" fill="#a3002b"/>
<rect x="82.5" y="475" width="11.6" height="1.2" fill="#a3002b"/>
<rect x="99.8" y="475" width="11.6" height="1.2" fill="#a3002b"/>
<rect x="117.1" y="475" width="11.6" height="1.2" fill="#a3002b"/>
<rect x="134.3" y="410.9" width="11.7" height="65.3" fill="#c6c4c9"/>
<rect x="151.8" y="458.2" width="11.5" height="18" fill="#a3002b"/>
<rect x="169" y="467" width="11.5" height="9.2" fill="#a3002b"/>
<rect x="185.9" y="436.2" width="11.7" height="40" fill="#a3002b"/>
<rect x="203.3" y="414.8" width="11.6" height="61.4" fill="#a3002b"/>
<path d="M157.5 452.8V462.5M154.5 452.8h6M154.5 462.5h6" stroke="#000" stroke-width="1" fill="none"/>
<path d="M174.7 465V469M171.7 465h6M171.7 469h6" stroke="#000" stroke-width="1" fill="none"/>
<path d="M191.8 428.9V441.4M188.8 428.9h6M188.8 441.4h6" stroke="#000" stroke-width="1" fill="none"/>
<path d="M209.1 412.6V416.8M206.1 412.6h6M206.1 416.8h6" stroke="#000" stroke-width="1" fill="none"/>
<path d="M42 476.2H221" stroke="#000" stroke-width="1.3" fill="none"/>
<circle cx="50.6" cy="474.9" r="1.35" fill="#fff" stroke="#000" stroke-width=".85"/>
<circle cx="53.6" cy="473.9" r="1.35" fill="#fff" stroke="#000" stroke-width=".85"/>
<circle cx="56.9" cy="474.9" r="1.35" fill="#fff" stroke="#000" stroke-width=".85"/>
<circle cx="68" cy="474.4" r="1.35" fill="#fff" stroke="#000" stroke-width=".85"/>
<circle cx="71.3" cy="473.2" r="1.35" fill="#fff" stroke="#000" stroke-width=".85"/>
<circle cx="74.6" cy="473.2" r="1.35" fill="#fff" stroke="#000" stroke-width=".85"/>
<circle cx="84.8" cy="474.6" r="1.35" fill="#fff" stroke="#000" stroke-width=".85"/>
<circle cx="88" cy="474.6" r="1.35" fill="#fff" stroke="#000" stroke-width=".85"/>
<circle cx="91.2" cy="474.6" r="1.35" fill="#fff" stroke="#000" stroke-width=".85"/>
<circle cx="102.1" cy="474.4" r="1.35" fill="#fff" stroke="#000" stroke-width=".85"/>
<circle cx="105.3" cy="473.5" r="1.35" fill="#fff" stroke="#000" stroke-width=".85"/>
<circle cx="108.5" cy="474.4" r="1.35" fill="#fff" stroke="#000" stroke-width=".85"/>
<circle cx="119.4" cy="475" r="1.35" fill="#fff" stroke="#000" stroke-width=".85"/>
<circle cx="122.7" cy="474" r="1.35" fill="#fff" stroke="#000" stroke-width=".85"/>
<circle cx="125.9" cy="475" r="1.35" fill="#fff" stroke="#000" stroke-width=".85"/>
<circle cx="136.7" cy="410.9" r="1.35" fill="#fff" stroke="#000" stroke-width=".85"/>
<circle cx="140.1" cy="410.9" r="1.35" fill="#fff" stroke="#000" stroke-width=".85"/>
<circle cx="143.5" cy="410.9" r="1.35" fill="#fff" stroke="#000" stroke-width=".85"/>
<circle cx="157.5" cy="449" r="1.35" fill="#fff" stroke="#000" stroke-width=".85"/>
<circle cx="157.5" cy="458.7" r="1.35" fill="#fff" stroke="#000" stroke-width=".85"/>
<circle cx="157.5" cy="464.8" r="1.35" fill="#fff" stroke="#000" stroke-width=".85"/>
<circle cx="171.4" cy="468" r="1.35" fill="#fff" stroke="#000" stroke-width=".85"/>
<circle cx="174.6" cy="464.4" r="1.35" fill="#fff" stroke="#000" stroke-width=".85"/>
<circle cx="178.2" cy="465.8" r="1.35" fill="#fff" stroke="#000" stroke-width=".85"/>
<circle cx="191.8" cy="426.2" r="1.35" fill="#fff" stroke="#000" stroke-width=".85"/>
<circle cx="191.8" cy="432.1" r="1.35" fill="#fff" stroke="#000" stroke-width=".85"/>
<circle cx="191.8" cy="447.1" r="1.35" fill="#fff" stroke="#000" stroke-width=".85"/>
<circle cx="205.7" cy="413.1" r="1.35" fill="#fff" stroke="#000" stroke-width=".85"/>
<circle cx="212.7" cy="411" r="1.35" fill="#fff" stroke="#000" stroke-width=".85"/>
<circle cx="209.1" cy="417.7" r="1.35" fill="#fff" stroke="#000" stroke-width=".85"/>
<text transform="translate(57.2 486.1) rotate(-45)" font-size="9.0" text-anchor="end">Neg</text>
<text transform="translate(74.5 486.1) rotate(-45)" font-size="9.0" text-anchor="end">ITGA2B</text>
<text transform="translate(91.8 486.1) rotate(-45)" font-size="9.0" text-anchor="end">GP6</text>
<text transform="translate(109.1 486.1) rotate(-45)" font-size="9.0" text-anchor="end">RASGRP2</text>
<text transform="translate(126.4 486.1) rotate(-45)" font-size="9.0" text-anchor="end">B2M</text>
<text transform="translate(143.7 486.1) rotate(-45)" font-size="9.0" text-anchor="end">Neg</text>
<text transform="translate(161 486.1) rotate(-45)" font-size="9.0" text-anchor="end">ITGA2B</text>
<text transform="translate(178.3 486.1) rotate(-45)" font-size="9.0" text-anchor="end">GP6</text>
<text transform="translate(195.6 486.1) rotate(-45)" font-size="9.0" text-anchor="end">RASGRP2</text>
<text transform="translate(212.9 486.1) rotate(-45)" font-size="9.0" text-anchor="end">B2M</text>
<path d="M52 522H125.9M134.3 522H219" stroke="#555" stroke-width="1.6" fill="none"/>
<text x="89.3" y="533.9" font-size="9.6" text-anchor="middle">BL</text>
<text x="176.6" y="533.9" font-size="9.6" text-anchor="middle">CVX</text>
<path d="M142.2 360.7H193.8M142.2 358.7v4M193.8 358.7v4" stroke="#000" stroke-width="1.15" fill="none"/>
<text x="166.18" y="359.95" font-size="8.2" font-weight="bold" text-anchor="middle">*</text>
<text x="169.43" y="359.95" font-size="8.2" font-weight="bold" text-anchor="middle">*</text>
<path d="M143.4 372.6H177M143.4 370.6v4M177 370.6v4" stroke="#000" stroke-width="1.15" fill="none"/>
<text x="155.43" y="372.45" font-size="8.2" font-weight="bold" text-anchor="middle">*</text>
<text x="158.68" y="372.45" font-size="8.2" font-weight="bold" text-anchor="middle">*</text>
<text x="161.93" y="372.45" font-size="8.2" font-weight="bold" text-anchor="middle">*</text>
<text x="165.18" y="372.45" font-size="8.2" font-weight="bold" text-anchor="middle">*</text>
<path d="M142.5 386.7H162.7M142.5 384.7v4M162.7 384.7v4" stroke="#000" stroke-width="1.15" fill="none"/>
<text x="147.62" y="386.35" font-size="8.2" font-weight="bold" text-anchor="middle">*</text>
<text x="150.88" y="386.35" font-size="8.2" font-weight="bold" text-anchor="middle">*</text>
<text x="154.12" y="386.35" font-size="8.2" font-weight="bold" text-anchor="middle">*</text>
<text x="157.38" y="386.35" font-size="8.2" font-weight="bold" text-anchor="middle">*</text>
<path d="M276.1 387V476.2M272.7 476.2H276.1M272.7 454.7H276.1M272.7 433.2H276.1M272.7 411.7H276.1M272.7 390.2H276.1" stroke="#000" stroke-width="1.2" fill="none"/>
<text x="269.4" y="479.61" font-size="9.6" text-anchor="end">0</text>
<text x="269.4" y="458.11" font-size="9.6" text-anchor="end">5</text>
<text x="269.4" y="436.61" font-size="9.6" text-anchor="end">10</text>
<text x="269.4" y="415.11" font-size="9.6" text-anchor="end">15</text>
<text x="269.4" y="393.61" font-size="9.6" text-anchor="end">20</text>
<text transform="translate(251.9 430.2) rotate(-90) scale(0.751 1)" font-size="10.5" text-anchor="middle" style="stroke:#000;stroke-width:.2">MFI fib 647(x10<tspan font-size="6.3" dy="-4.2">5</tspan><tspan dy="4.2">)</tspan></text>
<rect x="282.2" y="455.6" width="11.5" height="20.6" fill="#c6c4c9"/>
<rect x="299.3" y="453" width="11.6" height="23.2" fill="#a3002b"/>
<rect x="316.6" y="454.2" width="11.6" height="22" fill="#a3002b"/>
<rect x="333.9" y="453" width="11.6" height="23.2" fill="#a3002b"/>
<rect x="351.2" y="455.9" width="11.6" height="20.3" fill="#a3002b"/>
<rect x="368.8" y="398.5" width="11.4" height="77.7" fill="#c6c4c9"/>
<rect x="386" y="441.3" width="11.4" height="34.9" fill="#a3002b"/>
<rect x="403.3" y="451.6" width="11.2" height="24.6" fill="#a3002b"/>
<rect x="420.6" y="425.9" width="11.3" height="50.3" fill="#a3002b"/>
<rect x="438" y="401.9" width="11.3" height="74.3" fill="#a3002b"/>
<path d="M287.9 451.8V459.4M284.9 451.8h6M284.9 459.4h6" stroke="#000" stroke-width="1" fill="none"/>
<path d="M305 449.5V456.5M302 449.5h6M302 456.5h6" stroke="#000" stroke-width="1" fill="none"/>
<path d="M322.4 450.7V457.7M319.4 450.7h6M319.4 457.7h6" stroke="#000" stroke-width="1" fill="none"/>
<path d="M339.7 449.7V456.3M336.7 449.7h6M336.7 456.3h6" stroke="#000" stroke-width="1" fill="none"/>
<path d="M357 452.2V459.6M354 452.2h6M354 459.6h6" stroke="#000" stroke-width="1" fill="none"/>
<path d="M391.6 436.4V445.4M388.6 436.4h6M388.6 445.4h6" stroke="#000" stroke-width="1" fill="none"/>
<path d="M408.9 448.4V454.8M405.9 448.4h6M405.9 454.8h6" stroke="#000" stroke-width="1" fill="none"/>
<path d="M426.2 418.7V431.5M423.2 418.7h6M423.2 431.5h6" stroke="#000" stroke-width="1" fill="none"/>
<path d="M443.6 397.1V405.5M440.6 397.1h6M440.6 405.5h6" stroke="#000" stroke-width="1" fill="none"/>
<path d="M275.6 476.2H455.6" stroke="#000" stroke-width="1.3" fill="none"/>
<circle cx="287.9" cy="448.3" r="1.35" fill="#fff" stroke="#000" stroke-width=".85"/>
<circle cx="284.3" cy="459.6" r="1.35" fill="#fff" stroke="#000" stroke-width=".85"/>
<circle cx="291.6" cy="456.8" r="1.35" fill="#fff" stroke="#000" stroke-width=".85"/>
<circle cx="305" cy="447.3" r="1.35" fill="#fff" stroke="#000" stroke-width=".85"/>
<circle cx="305" cy="452" r="1.35" fill="#fff" stroke="#000" stroke-width=".85"/>
<circle cx="305" cy="457.3" r="1.35" fill="#fff" stroke="#000" stroke-width=".85"/>
<circle cx="319.5" cy="452.5" r="1.35" fill="#fff" stroke="#000" stroke-width=".85"/>
<circle cx="326.1" cy="449" r="1.35" fill="#fff" stroke="#000" stroke-width=".85"/>
<circle cx="322.6" cy="457.3" r="1.35" fill="#fff" stroke="#000" stroke-width=".85"/>
<circle cx="339.7" cy="447.5" r="1.35" fill="#fff" stroke="#000" stroke-width=".85"/>
<circle cx="339.7" cy="452" r="1.35" fill="#fff" stroke="#000" stroke-width=".85"/>
<circle cx="339.7" cy="457" r="1.35" fill="#fff" stroke="#000" stroke-width=".85"/>
<circle cx="357" cy="448.7" r="1.35" fill="#fff" stroke="#000" stroke-width=".85"/>
<circle cx="353.6" cy="458.7" r="1.35" fill="#fff" stroke="#000" stroke-width=".85"/>
<circle cx="360.7" cy="456.4" r="1.35" fill="#fff" stroke="#000" stroke-width=".85"/>
<circle cx="371.4" cy="398.5" r="1.35" fill="#fff" stroke="#000" stroke-width=".85"/>
<circle cx="374.6" cy="398.5" r="1.35" fill="#fff" stroke="#000" stroke-width=".85"/>
<circle cx="377.8" cy="398.5" r="1.35" fill="#fff" stroke="#000" stroke-width=".85"/>
<circle cx="388.2" cy="437.3" r="1.35" fill="#fff" stroke="#000" stroke-width=".85"/>
<circle cx="395" cy="434.8" r="1.35" fill="#fff" stroke="#000" stroke-width=".85"/>
<circle cx="391.4" cy="448.8" r="1.35" fill="#fff" stroke="#000" stroke-width=".85"/>
<circle cx="405.6" cy="449.8" r="1.35" fill="#fff" stroke="#000" stroke-width=".85"/>
<circle cx="412.1" cy="446.6" r="1.35" fill="#fff" stroke="#000" stroke-width=".85"/>
<circle cx="409.1" cy="454.6" r="1.35" fill="#fff" stroke="#000" stroke-width=".85"/>
<circle cx="422.8" cy="418" r="1.35" fill="#fff" stroke="#000" stroke-width=".85"/>
<circle cx="429.5" cy="417.8" r="1.35" fill="#fff" stroke="#000" stroke-width=".85"/>
<circle cx="426" cy="437.8" r="1.35" fill="#fff" stroke="#000" stroke-width=".85"/>
<circle cx="443.6" cy="394.4" r="1.35" fill="#fff" stroke="#000" stroke-width=".85"/>
<circle cx="443.6" cy="400.3" r="1.35" fill="#fff" stroke="#000" stroke-width=".85"/>
<circle cx="443.6" cy="407.3" r="1.35" fill="#fff" stroke="#000" stroke-width=".85"/>
<text transform="translate(291.3 486.1) rotate(-45)" font-size="9.0" text-anchor="end">Neg</text>
<text transform="translate(308.62 486.1) rotate(-45)" font-size="9.0" text-anchor="end">ITGA2B</text>
<text transform="translate(325.94 486.1) rotate(-45)" font-size="9.0" text-anchor="end">GP6</text>
<text transform="translate(343.26 486.1) rotate(-45)" font-size="9.0" text-anchor="end">RASGRP2</text>
<text transform="translate(360.58 486.1) rotate(-45)" font-size="9.0" text-anchor="end">B2M</text>
<text transform="translate(377.9 486.1) rotate(-45)" font-size="9.0" text-anchor="end">Neg</text>
<text transform="translate(395.22 486.1) rotate(-45)" font-size="9.0" text-anchor="end">ITGA2B</text>
<text transform="translate(412.54 486.1) rotate(-45)" font-size="9.0" text-anchor="end">GP6</text>
<text transform="translate(429.86 486.1) rotate(-45)" font-size="9.0" text-anchor="end">RASGRP2</text>
<text transform="translate(447.18 486.1) rotate(-45)" font-size="9.0" text-anchor="end">B2M</text>
<path d="M288.3 521.6H361M367.8 521.6H451.8" stroke="#555" stroke-width="1.6" fill="none"/>
<text x="324.6" y="533.6" font-size="9.6" text-anchor="middle">BL</text>
<text x="409.6" y="533.6" font-size="9.6" text-anchor="middle">CVX</text>
<path d="M371.7 361.4H426M371.7 359.4v4M426 359.4v4" stroke="#000" stroke-width="1.15" fill="none"/>
<text x="398.7" y="360.55" font-size="8.2" font-weight="bold" text-anchor="middle">*</text>
<path d="M374.2 373.2H408.8M374.2 371.2v4M408.8 371.2v4" stroke="#000" stroke-width="1.15" fill="none"/>
<text x="388.25" y="372.35" font-size="8.2" font-weight="bold" text-anchor="middle">*</text>
<text x="391.5" y="372.35" font-size="8.2" font-weight="bold" text-anchor="middle">*</text>
<text x="394.75" y="372.35" font-size="8.2" font-weight="bold" text-anchor="middle">*</text>
<path d="M374.5 387H392.5M374.5 385v4M392.5 385v4" stroke="#000" stroke-width="1.15" fill="none"/>
<text x="379.85" y="386.55" font-size="8.2" font-weight="bold" text-anchor="middle">*</text>
<text x="383.1" y="386.55" font-size="8.2" font-weight="bold" text-anchor="middle">*</text>
<text x="386.35" y="386.55" font-size="8.2" font-weight="bold" text-anchor="middle">*</text>
<path d="M267.5 597.8V695.8M264.1 695.8H267.5M264.1 664.2H267.5M264.1 632.6H267.5M264.1 601H267.5" stroke="#000" stroke-width="1.2" fill="none"/>
<text x="260.1" y="699.03" font-size="9.1" text-anchor="end">0.0</text>
<text x="260.1" y="667.43" font-size="9.1" text-anchor="end">0.2</text>
<text x="260.1" y="635.83" font-size="9.1" text-anchor="end">0.4</text>
<text x="260.1" y="604.23" font-size="9.1" text-anchor="end">0.6</text>
<text transform="translate(240.6 646.7) rotate(-90) scale(0.782 1)" font-size="10" text-anchor="middle" style="stroke:#000;stroke-width:.2">% spread on collagen</text>
<rect x="273.6" y="618" width="11.8" height="77.8" fill="#c6c4c9"/>
<rect x="291.4" y="674" width="11.8" height="21.8" fill="#a3002b"/>
<rect x="309.2" y="694.3" width="11.8" height="1.5" fill="#a3002b"/>
<rect x="327.1" y="635" width="11.8" height="60.8" fill="#a3002b"/>
<rect x="344.8" y="626.9" width="11.9" height="68.9" fill="#a3002b"/>
<path d="M297.3 666.3V681M294.3 666.3h6M294.3 681h6" stroke="#000" stroke-width="1" fill="none"/>
<path d="M332.9 625V643M329.9 625h6M329.9 643h6" stroke="#000" stroke-width="1" fill="none"/>
<path d="M350.8 619.6V632M347.8 619.6h6M347.8 632h6" stroke="#000" stroke-width="1" fill="none"/>
<path d="M267 695.8H362.7" stroke="#000" stroke-width="1.3" fill="none"/>
<circle cx="275.8" cy="618.3" r="1.5" fill="#fff" stroke="#000" stroke-width=".85"/>
<circle cx="279.5" cy="618.3" r="1.5" fill="#fff" stroke="#000" stroke-width=".85"/>
<circle cx="283.2" cy="618.3" r="1.5" fill="#fff" stroke="#000" stroke-width=".85"/>
<circle cx="297.3" cy="660" r="1.5" fill="#fff" stroke="#000" stroke-width=".85"/>
<circle cx="297.3" cy="677.5" r="1.5" fill="#fff" stroke="#000" stroke-width=".85"/>
<circle cx="297.3" cy="683.1" r="1.5" fill="#fff" stroke="#000" stroke-width=".85"/>
<circle cx="311.3" cy="696" r="1.5" fill="#fff" stroke="#000" stroke-width=".85"/>
<circle cx="315.1" cy="693.7" r="1.5" fill="#fff" stroke="#000" stroke-width=".85"/>
<circle cx="318.9" cy="694.2" r="1.5" fill="#fff" stroke="#000" stroke-width=".85"/>
<circle cx="332.9" cy="616.3" r="1.5" fill="#fff" stroke="#000" stroke-width=".85"/>
<circle cx="332.9" cy="640.4" r="1.5" fill="#fff" stroke="#000" stroke-width=".85"/>
<circle cx="332.9" cy="645.8" r="1.5" fill="#fff" stroke="#000" stroke-width=".85"/>
<circle cx="350.9" cy="614.8" r="1.5" fill="#fff" stroke="#000" stroke-width=".85"/>
<circle cx="350.9" cy="626.9" r="1.5" fill="#fff" stroke="#000" stroke-width=".85"/>
<circle cx="350.9" cy="636.2" r="1.5" fill="#fff" stroke="#000" stroke-width=".85"/>
<text transform="translate(283.5 705.8) rotate(-45)" font-size="9.5" text-anchor="end">Neg</text>
<text transform="translate(301.3 705.8) rotate(-45)" font-size="9.5" text-anchor="end">ITGA2B</text>
<text transform="translate(319.1 705.8) rotate(-45)" font-size="9.5" text-anchor="end">GP6</text>
<text transform="translate(336.9 705.8) rotate(-45)" font-size="9.5" text-anchor="end">RASGRP2</text>
<text transform="translate(354.7 705.8) rotate(-45)" font-size="9.5" text-anchor="end">B2M</text>
<path d="M283.1 579.3H315.9M283.1 576.7v5.2M315.9 576.7v5.2" stroke="#000" stroke-width="1.15" fill="none"/>
<text x="299.8" y="578.53" font-size="7.6" font-weight="normal" text-anchor="middle">*</text>
<path d="M283.1 600.1H300.1M283.1 597.5v5.2M300.1 597.5v5.2" stroke="#000" stroke-width="1.15" fill="none"/>
<text x="291.5" y="594.5" font-size="9" text-anchor="middle">0.10</text>
<path d="M416.8 598.4V695.8M413.4 695.8H416.8M413.4 676.78H416.8M413.4 657.76H416.8M413.4 638.74H416.8M413.4 619.72H416.8M413.4 600.7H416.8" stroke="#000" stroke-width="1.2" fill="none"/>
<text x="412.8" y="699.03" font-size="9.1" text-anchor="end">0.0</text>
<text x="412.8" y="680.01" font-size="9.1" text-anchor="end">0.2</text>
<text x="412.8" y="660.99" font-size="9.1" text-anchor="end">0.4</text>
<text x="412.8" y="641.97" font-size="9.1" text-anchor="end">0.6</text>
<text x="412.8" y="622.95" font-size="9.1" text-anchor="end">0.8</text>
<text x="412.8" y="603.93" font-size="9.1" text-anchor="end">1.0</text>
<text transform="translate(389.5 646.7) rotate(-90) scale(0.783 1)" font-size="10" text-anchor="middle" style="stroke:#000;stroke-width:.2">% spread on fibrinogen</text>
<rect x="422.7" y="631.7" width="11.6" height="64.1" fill="#c6c4c9"/>
<rect x="440.5" y="693" width="11.9" height="2.8" fill="#a3002b"/>
<rect x="458.3" y="694.8" width="11.9" height="1" fill="#a3002b"/>
<rect x="476" y="630.2" width="12" height="65.6" fill="#a3002b"/>
<rect x="493.9" y="631.2" width="12" height="64.6" fill="#a3002b"/>
<path d="M446.4 690V695.8M443.4 690h6M443.4 695.8h6" stroke="#000" stroke-width="1" fill="none"/>
<path d="M482 621.5V637.5M479 621.5h6M479 637.5h6" stroke="#000" stroke-width="1" fill="none"/>
<path d="M499.9 625V636.4M496.9 625h6M496.9 636.4h6" stroke="#000" stroke-width="1" fill="none"/>
<path d="M416.3 695.8H511.3" stroke="#000" stroke-width="1.3" fill="none"/>
<circle cx="424.9" cy="631.7" r="1.5" fill="#fff" stroke="#000" stroke-width=".85"/>
<circle cx="428.5" cy="631.7" r="1.5" fill="#fff" stroke="#000" stroke-width=".85"/>
<circle cx="432.1" cy="631.7" r="1.5" fill="#fff" stroke="#000" stroke-width=".85"/>
<circle cx="442.5" cy="695.6" r="1.5" fill="#fff" stroke="#000" stroke-width=".85"/>
<circle cx="446.3" cy="688.5" r="1.5" fill="#fff" stroke="#000" stroke-width=".85"/>
<circle cx="450.5" cy="693.3" r="1.5" fill="#fff" stroke="#000" stroke-width=".85"/>
<circle cx="460.2" cy="695.6" r="1.5" fill="#fff" stroke="#000" stroke-width=".85"/>
<circle cx="464" cy="693.7" r="1.5" fill="#fff" stroke="#000" stroke-width=".85"/>
<circle cx="468.2" cy="694.6" r="1.5" fill="#fff" stroke="#000" stroke-width=".85"/>
<circle cx="481.9" cy="613.8" r="1.5" fill="#fff" stroke="#000" stroke-width=".85"/>
<circle cx="478" cy="638.5" r="1.5" fill="#fff" stroke="#000" stroke-width=".85"/>
<circle cx="486.1" cy="636.5" r="1.5" fill="#fff" stroke="#000" stroke-width=".85"/>
<circle cx="500" cy="622.7" r="1.5" fill="#fff" stroke="#000" stroke-width=".85"/>
<circle cx="500" cy="627.5" r="1.5" fill="#fff" stroke="#000" stroke-width=".85"/>
<circle cx="500" cy="641.3" r="1.5" fill="#fff" stroke="#000" stroke-width=".85"/>
<text transform="translate(432.5 705.8) rotate(-45)" font-size="9.5" text-anchor="end">Neg</text>
<text transform="translate(450.4 705.8) rotate(-45)" font-size="9.5" text-anchor="end">ITGA2B</text>
<text transform="translate(468.2 705.8) rotate(-45)" font-size="9.5" text-anchor="end">GP6</text>
<text transform="translate(486 705.8) rotate(-45)" font-size="9.5" text-anchor="end">RASGRP2</text>
<text transform="translate(503.9 705.8) rotate(-45)" font-size="9.5" text-anchor="end">B2M</text>
<path d="M427.9 579.9H464.2M427.9 577.3v5.2M464.2 577.3v5.2" stroke="#000" stroke-width="1.15" fill="none"/>
<text x="442.6" y="578.93" font-size="7.6" font-weight="normal" text-anchor="middle">*</text>
<text x="446.2" y="578.93" font-size="7.6" font-weight="normal" text-anchor="middle">*</text>
<text x="449.8" y="578.93" font-size="7.6" font-weight="normal" text-anchor="middle">*</text>
<path d="M427.6 599.1H445M427.6 596.4v5.4M445 596.4v5.4" stroke="#000" stroke-width="1.15" fill="none"/>
<text x="432.5" y="598.83" font-size="7.6" font-weight="normal" text-anchor="middle">*</text>
<text x="436.1" y="598.83" font-size="7.6" font-weight="normal" text-anchor="middle">*</text>
<text x="439.7" y="598.83" font-size="7.6" font-weight="normal" text-anchor="middle">*</text>
<defs><filter id="bl1" x="-50%" y="-50%" width="200%" height="200%"><feGaussianBlur stdDeviation="0.9"/></filter><filter id="bl2" x="-50%" y="-50%" width="200%" height="200%"><feGaussianBlur stdDeviation="0.5"/></filter><filter id="bl3" x="-50%" y="-50%" width="200%" height="200%"><feGaussianBlur stdDeviation="0.35"/></filter><clipPath id="cf1"><rect x="119.9" y="572.8" width="93.8" height="69.8"/></clipPath><clipPath id="cf2"><rect x="119.9" y="646.3" width="93.8" height="69.2"/></clipPath><clipPath id="cb1"><rect x="22.2" y="572.3" width="93.9" height="70.4"/></clipPath><clipPath id="cb2"><rect x="22.2" y="646.2" width="93.9" height="69.5"/></clipPath></defs>
<rect x="22.2" y="572.3" width="93.9" height="70.4" fill="#676767"/>
<g clip-path="url(#cb1)" filter="url(#bl3)">
<circle cx="36.4" cy="607.5" r="2.6" fill="none" stroke="#707070" stroke-width=".6"/>
<circle cx="27.6" cy="584.6" r="3.1" fill="none" stroke="#707070" stroke-width=".6"/>
<circle cx="31.3" cy="583.4" r="3.1" fill="none" stroke="#707070" stroke-width=".6"/>
<circle cx="80.3" cy="599" r="2.5" fill="none" stroke="#707070" stroke-width=".6"/>
<circle cx="84" cy="592.9" r="2" fill="none" stroke="#707070" stroke-width=".6"/>
<circle cx="95.1" cy="618.6" r="2.5" fill="none" stroke="#707070" stroke-width=".6"/>
<circle cx="97.7" cy="610.7" r="3.2" fill="none" stroke="#707070" stroke-width=".6"/>
<circle cx="43.2" cy="611" r="2.5" fill="none" stroke="#707070" stroke-width=".6"/>
<circle cx="56.4" cy="613.5" r="2.1" fill="none" stroke="#707070" stroke-width=".6"/>
<circle cx="96.4" cy="631.4" r="2" fill="none" stroke="#707070" stroke-width=".6"/>
<circle cx="66.6" cy="593" r="1.9" fill="none" stroke="#707070" stroke-width=".6"/>
<circle cx="104.7" cy="602.9" r="2" fill="none" stroke="#707070" stroke-width=".6"/>
<circle cx="84.9" cy="588.1" r="3.1" fill="none" stroke="#707070" stroke-width=".6"/>
<circle cx="44.3" cy="577.1" r="2.1" fill="none" stroke="#707070" stroke-width=".6"/>
</g>
<rect x="22.2" y="646.2" width="93.9" height="69.5" fill="#555656"/>
<rect x="22.2" y="646.2" width="93.9" height="1.2" fill="#454545"/>
<g clip-path="url(#cb2)" filter="url(#bl3)">
<circle cx="26.7" cy="663.2" r="2.3" fill="#5c5c5c" stroke="#474747" stroke-width=".55"/>
<path d="M24.9 664.4a2.3 2.3 0 0 0 3.7 0" stroke="#7e7e7e" stroke-width=".7" fill="none"/>
<circle cx="47.9" cy="665.2" r="2.4" fill="#5c5c5c" stroke="#474747" stroke-width=".55"/>
<path d="M46 666.4a2.4 2.4 0 0 0 3.9 0" stroke="#7e7e7e" stroke-width=".7" fill="none"/>
<circle cx="50.8" cy="672.8" r="2.8" fill="#5c5c5c" stroke="#474747" stroke-width=".55"/>
<path d="M48.5 674.2a2.8 2.8 0 0 0 4.5 0" stroke="#7e7e7e" stroke-width=".7" fill="none"/>
<circle cx="37.3" cy="676.7" r="2.6" fill="#5c5c5c" stroke="#474747" stroke-width=".55"/>
<path d="M35.2 678a2.6 2.6 0 0 0 4.2 0" stroke="#7e7e7e" stroke-width=".7" fill="none"/>
<circle cx="35.4" cy="680.5" r="2.3" fill="#5c5c5c" stroke="#474747" stroke-width=".55"/>
<path d="M33.6 681.7a2.3 2.3 0 0 0 3.7 0" stroke="#7e7e7e" stroke-width=".7" fill="none"/>
<circle cx="39.2" cy="678.6" r="2" fill="#5c5c5c" stroke="#474747" stroke-width=".55"/>
<path d="M37.6 679.6a2 2 0 0 0 3.2 0" stroke="#7e7e7e" stroke-width=".7" fill="none"/>
<circle cx="43.1" cy="681.5" r="2.1" fill="#5c5c5c" stroke="#474747" stroke-width=".55"/>
<path d="M41.4 682.6a2.1 2.1 0 0 0 3.4 0" stroke="#7e7e7e" stroke-width=".7" fill="none"/>
<circle cx="45" cy="689.2" r="2.9" fill="#5c5c5c" stroke="#474747" stroke-width=".55"/>
<path d="M42.7 690.6a2.9 2.9 0 0 0 4.6 0" stroke="#7e7e7e" stroke-width=".7" fill="none"/>
<circle cx="68.1" cy="674.8" r="2.4" fill="#5c5c5c" stroke="#474747" stroke-width=".55"/>
<path d="M66.2 676a2.4 2.4 0 0 0 3.9 0" stroke="#7e7e7e" stroke-width=".7" fill="none"/>
<circle cx="75.8" cy="685.3" r="2.6" fill="#5c5c5c" stroke="#474747" stroke-width=".55"/>
<path d="M73.7 686.6a2.6 2.6 0 0 0 4.2 0" stroke="#7e7e7e" stroke-width=".7" fill="none"/>
<circle cx="81.5" cy="688.2" r="2" fill="#5c5c5c" stroke="#474747" stroke-width=".55"/>
<path d="M79.9 689.2a2 2 0 0 0 3.3 0" stroke="#7e7e7e" stroke-width=".7" fill="none"/>
<circle cx="88.3" cy="686.3" r="2" fill="#5c5c5c" stroke="#474747" stroke-width=".55"/>
<path d="M86.7 687.3a2 2 0 0 0 3.2 0" stroke="#7e7e7e" stroke-width=".7" fill="none"/>
<circle cx="92.1" cy="679.6" r="2.8" fill="#5c5c5c" stroke="#474747" stroke-width=".55"/>
<path d="M89.9 681a2.8 2.8 0 0 0 4.4 0" stroke="#7e7e7e" stroke-width=".7" fill="none"/>
<circle cx="96.9" cy="669" r="2.5" fill="#5c5c5c" stroke="#474747" stroke-width=".55"/>
<path d="M94.9 670.3a2.5 2.5 0 0 0 4 0" stroke="#7e7e7e" stroke-width=".7" fill="none"/>
<circle cx="111.3" cy="670" r="2.3" fill="#5c5c5c" stroke="#474747" stroke-width=".55"/>
<path d="M109.5 671.1a2.3 2.3 0 0 0 3.6 0" stroke="#7e7e7e" stroke-width=".7" fill="none"/>
<circle cx="108.5" cy="687.3" r="2.3" fill="#5c5c5c" stroke="#474747" stroke-width=".55"/>
<path d="M106.7 688.4a2.3 2.3 0 0 0 3.7 0" stroke="#7e7e7e" stroke-width=".7" fill="none"/>
<circle cx="112.3" cy="695.9" r="2.1" fill="#5c5c5c" stroke="#474747" stroke-width=".55"/>
<path d="M110.6 696.9a2.1 2.1 0 0 0 3.3 0" stroke="#7e7e7e" stroke-width=".7" fill="none"/>
<circle cx="62.3" cy="695" r="2.2" fill="#5c5c5c" stroke="#474747" stroke-width=".55"/>
<path d="M60.6 696.1a2.2 2.2 0 0 0 3.4 0" stroke="#7e7e7e" stroke-width=".7" fill="none"/>
<circle cx="56.5" cy="701.7" r="2" fill="#5c5c5c" stroke="#474747" stroke-width=".55"/>
<path d="M54.9 702.7a2 2 0 0 0 3.2 0" stroke="#7e7e7e" stroke-width=".7" fill="none"/>
<circle cx="67.1" cy="701.7" r="2.8" fill="#5c5c5c" stroke="#474747" stroke-width=".55"/>
<path d="M64.9 703.1a2.8 2.8 0 0 0 4.4 0" stroke="#7e7e7e" stroke-width=".7" fill="none"/>
<circle cx="83.5" cy="670" r="2.4" fill="#5c5c5c" stroke="#474747" stroke-width=".55"/>
<path d="M81.6 671.2a2.4 2.4 0 0 0 3.9 0" stroke="#7e7e7e" stroke-width=".7" fill="none"/>
<circle cx="79.6" cy="683.4" r="2.1" fill="#5c5c5c" stroke="#474747" stroke-width=".55"/>
<path d="M77.9 684.5a2.1 2.1 0 0 0 3.4 0" stroke="#7e7e7e" stroke-width=".7" fill="none"/>
<circle cx="30" cy="700" r="2.7" fill="#5c5c5c" stroke="#474747" stroke-width=".55"/>
<path d="M27.9 701.3a2.7 2.7 0 0 0 4.3 0" stroke="#7e7e7e" stroke-width=".7" fill="none"/>
<circle cx="101" cy="690" r="2.2" fill="#5c5c5c" stroke="#474747" stroke-width=".55"/>
<path d="M99.3 691.1a2.2 2.2 0 0 0 3.5 0" stroke="#7e7e7e" stroke-width=".7" fill="none"/>
</g>
<rect x="119.9" y="572.8" width="93.8" height="69.8" fill="#1c1213"/>
<rect x="119.9" y="572.3" width="93.8" height="1" fill="#000"/>
<g clip-path="url(#cf1)">
<path d="M153.9 577.1L151.8 579.4L151.1 580.7L150.2 580.6L148.3 582.8L145.7 582L145.7 579.7L143.2 578.1L145.7 575.5L146.6 574.6L148.6 574.5L149.5 573.5L152.2 573.2L153.4 576Z" fill="#a0122a" fill-opacity="0.5" stroke="#d81c36" stroke-opacity="0.8" stroke-width="1.3" stroke-linejoin="round" filter="url(#bl1)"/>
<path d="M147 574.3L145.4 571.8M149.9 573.8L150.5 570.5M151.4 580.9L153.1 583.2M151.6 580.8L153.1 582.8M150 573.8L150.7 570.6M149.3 573.7L149.4 571.9" stroke="#c01830" stroke-opacity="0.6" stroke-width=".6" filter="url(#bl3)"/>
<circle cx="149.1" cy="577.7" r="1.9" fill="#5566e0" filter="url(#bl2)"/>
<path d="M130.3 582.9L130 583.7L130 584.1L129.7 584.9L128.7 584.2L128.3 583.9L127.8 583.5L127.8 583.2L127.4 582.2L127.8 581.7L128.7 581.8L129.3 581.5L129.9 582.1L130.4 582.1Z" fill="#a0122a" fill-opacity="0.2" stroke="#d81c36" stroke-opacity="0.3" stroke-width="0.5" stroke-linejoin="round" filter="url(#bl1)"/>
<circle cx="129" cy="583" r="1.2" fill="#5566e0" filter="url(#bl2)"/>
<path d="M128.4 589.8L126.6 590.3L126.6 592L125.7 592L124.5 592.7L122.5 591.8L122.5 590.2L122.4 589.1L122.3 588.4L123.3 587.4L124.2 586.3L125.3 586.2L126.7 586.6L127.8 587.6Z" fill="#a0122a" fill-opacity="0.5" stroke="#d81c36" stroke-opacity="0.8" stroke-width="0.9" stroke-linejoin="round" filter="url(#bl1)"/>
<circle cx="124.8" cy="589.3" r="1.3" fill="#5566e0" filter="url(#bl2)"/>
<path d="M183 574.5L182.8 575L182.8 575.5L182.2 575.4L181.7 575.2L181.2 575.5L180.9 574.9L180.7 574.4L180.9 574.1L181.1 573.6L181.7 573.7L182.3 573.4L182.6 573.7L182.8 574.1Z" fill="#a0122a" fill-opacity="0.1" stroke="#d81c36" stroke-opacity="0.2" stroke-width="0.3" stroke-linejoin="round" filter="url(#bl1)"/>
<circle cx="181.9" cy="574.5" r="1" fill="#5566e0" filter="url(#bl2)"/>
<path d="M207.1 590.1L208.5 592.2L206.9 594L205.2 595L203.6 595L202.3 592.4L200.5 591.6L199.1 590.1L199.9 588.5L201.4 586.8L203.4 586.9L205.2 585.1L205.6 587.6L207.4 587.8Z" fill="#a0122a" fill-opacity="0.4" stroke="#d81c36" stroke-opacity="0.7" stroke-width="1.3" stroke-linejoin="round" filter="url(#bl1)"/>
<path d="M207.7 589.4L209.3 589.2M207.7 589.8L210.1 589.7M206.7 592.5L208.4 594M205.1 593.5L205.8 596.1M200.6 589.1L198.6 588.5M204 593.6L203.9 596.6" stroke="#c01830" stroke-opacity="0.5" stroke-width=".6" filter="url(#bl3)"/>
<circle cx="204.1" cy="590" r="1.4" fill="#5566e0" filter="url(#bl2)"/>
<path d="M169.9 601.7L170.3 603.3L167.5 604L167.2 604.9L165.3 604.3L164.3 604.3L161.8 603.6L163.1 601.3L162.2 600.2L163.2 597L164.7 596.5L167.3 597.8L168.5 598.6L169.7 599.1Z" fill="#a0122a" fill-opacity="0.4" stroke="#d81c36" stroke-opacity="0.6" stroke-width="1.3" stroke-linejoin="round" filter="url(#bl1)"/>
<path d="M169.1 603.3L171.4 604.6M167.3 598L168.4 595.2M162.6 602.6L160.9 603.1M168.9 599.3L171.4 597.6M169.5 600.7L172 600.2M164.3 598.2L163.3 596.3" stroke="#c01830" stroke-opacity="0.4" stroke-width=".6" filter="url(#bl3)"/>
<circle cx="166" cy="601.4" r="1.6" fill="#5566e0" filter="url(#bl2)"/>
<path d="M197.5 606.7L197.3 607.8L196.9 608.6L196.3 609.5L195.4 608.9L194.3 609.1L194.1 607.7L193.5 607.1L194.3 606.3L194.3 605.6L195.3 604.9L196.6 604.5L197.5 605.2L197.6 606Z" fill="#a0122a" fill-opacity="0.2" stroke="#d81c36" stroke-opacity="0.4" stroke-width="0.6" stroke-linejoin="round" filter="url(#bl1)"/>
<circle cx="195.7" cy="606.9" r="1.4" fill="#5566e0" filter="url(#bl2)"/>
<path d="M136 612.5L137 614.5L133.6 615.2L132.6 618.3L130.2 617.2L128.5 615.6L126.7 615.6L124.9 612.5L125.7 610.1L128.6 610.1L130.4 608.4L131.6 608.7L133.9 608.9L137 609.9Z" fill="#a0122a" fill-opacity="0.3" stroke="#d81c36" stroke-opacity="0.5" stroke-width="1.3" stroke-linejoin="round" filter="url(#bl1)"/>
<path d="M128.2 616L126.6 617.7M127.2 610.5L125.5 609.5M127.8 615.6L125.9 617.3M127.8 615.5L126.2 616.9M127 611.1L123.9 610M131.2 608.1L131.2 604.2" stroke="#c01830" stroke-opacity="0.4" stroke-width=".6" filter="url(#bl3)"/>
<circle cx="131.2" cy="612.6" r="1.3" fill="#5566e0" filter="url(#bl2)"/>
<path d="M127.4 610.9L126.3 612.1L125.9 614L124.3 614.7L123.2 613.2L122.7 613.1L120.9 612.6L120.9 611.1L122.1 609.9L122.7 609.2L123 607.6L124.8 608.2L126.1 608L125.9 609.9Z" fill="#a0122a" fill-opacity="0.2" stroke="#d81c36" stroke-opacity="0.4" stroke-width="1" stroke-linejoin="round" filter="url(#bl1)"/>
<path d="M124 613.7L124.1 614.9M125 608.5L125.5 607.2M126.7 610.6L128.1 610.3M123.1 613.5L122.4 615.3M123 613.5L122.4 615.1M126.1 612.6L127.5 613.7" stroke="#c01830" stroke-opacity="0.3" stroke-width=".6" filter="url(#bl3)"/>
<circle cx="124" cy="611" r="1" fill="#5566e0" filter="url(#bl2)"/>
<path d="M147.9 613.3L147.6 615.4L147.7 616.7L145.3 616.9L144.1 617.8L142.2 616.6L142.4 615.2L140.7 613.4L141.2 611.4L143.1 611.5L144.5 609.6L145.9 609.7L146.9 611L148.2 612.2Z" fill="#a0122a" fill-opacity="0.3" stroke="#d81c36" stroke-opacity="0.6" stroke-width="1.2" stroke-linejoin="round" filter="url(#bl1)"/>
<path d="M144.1 610.6L143.4 607.9M146.8 611L147.9 609.4M142.6 616L140.7 618M142.3 615.7L140.3 617.3M147.6 615.5L149.4 616.6M141.7 613.4L139.1 613.1" stroke="#c01830" stroke-opacity="0.4" stroke-width=".6" filter="url(#bl3)"/>
<circle cx="144.9" cy="613.7" r="1.3" fill="#5566e0" filter="url(#bl2)"/>
<path d="M152.9 615.6L153.5 617.1L153.2 618.3L151.1 619.7L149.7 618.8L148 618.4L147 616.7L146.7 615.5L146.2 613.6L148 612.6L149.3 612.5L151.3 612.4L152.8 612.7L152.8 614.5Z" fill="#a0122a" fill-opacity="0.4" stroke="#d81c36" stroke-opacity="0.7" stroke-width="1.1" stroke-linejoin="round" filter="url(#bl1)"/>
<path d="M153.1 614.2L155.3 613.3M147.4 614L145.3 613.1M149.7 612.3L149.3 610.3M148.2 613L147.1 611.8M153.2 615.7L155.5 616M147.2 615.8L144.6 616.2" stroke="#c01830" stroke-opacity="0.5" stroke-width=".6" filter="url(#bl3)"/>
<circle cx="150.2" cy="615.3" r="1.6" fill="#5566e0" filter="url(#bl2)"/>
<path d="M172.1 629.2L171.6 631.8L169.5 631.7L169.1 632.1L167.7 631.9L167 631.4L165.4 630.4L165 629.4L164.8 627.5L166 627L167.2 626.8L168.6 626.6L170.2 626.7L170.8 628.1Z" fill="#a0122a" fill-opacity="0.5" stroke="#d81c36" stroke-opacity="0.8" stroke-width="1" stroke-linejoin="round" filter="url(#bl1)"/>
<path d="M169.6 627L170.2 625.9M171.1 629.6L172.4 629.6M170.1 627.3L171.5 625.8M167.8 626.6L167.5 624.2M168.8 632.3L169.3 634.7M168.3 632.4L168.4 634.3" stroke="#c01830" stroke-opacity="0.5" stroke-width=".6" filter="url(#bl3)"/>
<circle cx="168.2" cy="629.5" r="1.4" fill="#5566e0" filter="url(#bl2)"/>
<path d="M205.1 623.4L204.2 624.5L203.2 625.3L201.4 627.6L200 627.2L198.8 625.4L197.8 624.2L197.5 623.6L197.5 621.4L199.6 621.2L200.2 618.9L202.2 618.8L203.6 619.9L204.7 620.9Z" fill="#a0122a" fill-opacity="0.4" stroke="#d81c36" stroke-opacity="0.6" stroke-width="1.1" stroke-linejoin="round" filter="url(#bl1)"/>
<path d="M198.2 624.4L195.8 625.4M199.7 626L198.7 628M202.7 620.7L204.1 618.8M198.8 621.1L196.8 619.3M203.6 624.8L204.9 625.6M198.1 622.2L195.6 621.4" stroke="#c01830" stroke-opacity="0.4" stroke-width=".6" filter="url(#bl3)"/>
<circle cx="201" cy="623.2" r="0.8" fill="#5566e0" filter="url(#bl2)"/>
<path d="M214 628.1L214.1 628.9L213.3 630.2L212 630.4L210.7 630.3L210.1 630.2L209.4 628.7L207.9 628.2L208.3 626.6L208.9 625.5L210.8 625.8L212.6 624.4L213.9 625.7L215.1 626.8Z" fill="#a0122a" fill-opacity="0.3" stroke="#d81c36" stroke-opacity="0.5" stroke-width="0.9" stroke-linejoin="round" filter="url(#bl1)"/>
<circle cx="211.5" cy="628" r="1.6" fill="#5566e0" filter="url(#bl2)"/>
<path d="M201.8 585L201.8 585.8L201.6 586.2L200.9 586.1L200.2 586.7L199.1 586.6L198.5 585.7L198.6 584.9L199.4 584.4L199.1 583.7L199.9 583.2L200.7 583.9L201.5 583.8L201.7 584.2Z" fill="#a0122a" fill-opacity="0.2" stroke="#d81c36" stroke-opacity="0.3" stroke-width="0.5" stroke-linejoin="round" filter="url(#bl1)"/>
<path d="M135.4 599.9L135.1 600.6L135 601.3L134.1 601.2L133.9 601.2L133.3 601L132.9 600.7L132.5 600.1L132.8 599.3L133.2 599.2L133.6 598.8L134.4 598.1L134.8 599.1L134.9 599.4Z" fill="#a0122a" fill-opacity="0.1" stroke="#d81c36" stroke-opacity="0.3" stroke-width="0.5" stroke-linejoin="round" filter="url(#bl1)"/>
<path d="M138.7 617L138.1 617.9L138.4 619L137 619.4L135.9 618.7L135.1 619.1L133.6 618.3L133.9 616.6L134.1 615.6L134.7 615.1L135.9 614.8L136.7 615.3L138.5 615L138.5 616.2Z" fill="#a0122a" fill-opacity="0.2" stroke="#d81c36" stroke-opacity="0.3" stroke-width="0.8" stroke-linejoin="round" filter="url(#bl1)"/>
</g>
<rect x="119.9" y="646.3" width="93.8" height="69.2" fill="#1c1213"/>
<g clip-path="url(#cf2)">
<circle cx="123.8" cy="663.3" r="0.8" fill="#c8182f" fill-opacity="0.3" filter="url(#bl2)"/>
<circle cx="123.7" cy="662.9" r="1.1" fill="#5060dc" filter="url(#bl2)"/>
<circle cx="144.9" cy="665.4" r="1.6" fill="#c8182f" fill-opacity="0.6" filter="url(#bl2)"/>
<circle cx="145" cy="665.8" r="1.1" fill="#5060dc" filter="url(#bl2)"/>
<circle cx="148.1" cy="672.8" r="2.2" fill="#c8182f" fill-opacity="0.8" filter="url(#bl2)"/>
<circle cx="148.4" cy="673.3" r="0.8" fill="#5060dc" filter="url(#bl2)"/>
<circle cx="129" cy="679.1" r="1" fill="#c8182f" fill-opacity="0.3" filter="url(#bl2)"/>
<circle cx="128.7" cy="679.3" r="1.2" fill="#5060dc" filter="url(#bl2)"/>
<circle cx="133.3" cy="681.3" r="2.4" fill="#c8182f" fill-opacity="0.8" filter="url(#bl2)"/>
<circle cx="132.9" cy="681.3" r="1.3" fill="#5060dc" filter="url(#bl2)"/>
<circle cx="136.4" cy="679.1" r="1.4" fill="#c8182f" fill-opacity="0.5" filter="url(#bl2)"/>
<circle cx="135.9" cy="679.1" r="1.2" fill="#5060dc" filter="url(#bl2)"/>
<circle cx="140.7" cy="680.6" r="1" fill="#c8182f" fill-opacity="0.3" filter="url(#bl2)"/>
<circle cx="140.8" cy="680.4" r="1.1" fill="#5060dc" filter="url(#bl2)"/>
<circle cx="165" cy="676" r="1.8" fill="#c8182f" fill-opacity="0.6" filter="url(#bl2)"/>
<circle cx="164.8" cy="676.3" r="1.1" fill="#5060dc" filter="url(#bl2)"/>
<circle cx="189.3" cy="680.2" r="1.8" fill="#c8182f" fill-opacity="0.7" filter="url(#bl2)"/>
<circle cx="189.3" cy="680.1" r="1.1" fill="#5060dc" filter="url(#bl2)"/>
<circle cx="194.6" cy="669.6" r="1.8" fill="#c8182f" fill-opacity="0.6" filter="url(#bl2)"/>
<circle cx="194.1" cy="669.3" r="1.2" fill="#5060dc" filter="url(#bl2)"/>
<circle cx="208.4" cy="670.7" r="1.8" fill="#c8182f" fill-opacity="0.5" filter="url(#bl2)"/>
<circle cx="208.8" cy="671.3" r="1.1" fill="#5060dc" filter="url(#bl2)"/>
<circle cx="142.8" cy="690.8" r="2" fill="#c8182f" fill-opacity="0.8" filter="url(#bl2)"/>
<circle cx="142.6" cy="691.2" r="0.8" fill="#5060dc" filter="url(#bl2)"/>
<circle cx="152.3" cy="684.4" r="0.6" fill="#c8182f" fill-opacity="0.2" filter="url(#bl2)"/>
<circle cx="152.7" cy="684.1" r="0.8" fill="#5060dc" filter="url(#bl2)"/>
<circle cx="172.4" cy="686.5" r="0.8" fill="#c8182f" fill-opacity="0.3" filter="url(#bl2)"/>
<circle cx="172.1" cy="686.7" r="1.1" fill="#5060dc" filter="url(#bl2)"/>
<circle cx="176.6" cy="683.4" r="1" fill="#c8182f" fill-opacity="0.4" filter="url(#bl2)"/>
<circle cx="176.4" cy="683.9" r="1.1" fill="#5060dc" filter="url(#bl2)"/>
<circle cx="179.8" cy="689.7" r="2" fill="#c8182f" fill-opacity="0.8" filter="url(#bl2)"/>
<circle cx="179.6" cy="690" r="1.1" fill="#5060dc" filter="url(#bl2)"/>
<circle cx="185.7" cy="687.6" r="1.8" fill="#c8182f" fill-opacity="0.7" filter="url(#bl2)"/>
<circle cx="185.9" cy="687.3" r="1.1" fill="#5060dc" filter="url(#bl2)"/>
<circle cx="205.2" cy="688.7" r="1.6" fill="#c8182f" fill-opacity="0.5" filter="url(#bl2)"/>
<circle cx="205.6" cy="688.5" r="1.1" fill="#5060dc" filter="url(#bl2)"/>
<circle cx="207.3" cy="690.8" r="1.8" fill="#c8182f" fill-opacity="0.7" filter="url(#bl2)"/>
<circle cx="206.8" cy="690.3" r="0.6" fill="#5060dc" filter="url(#bl2)"/>
<circle cx="209.4" cy="696.7" r="2" fill="#c8182f" fill-opacity="0.8" filter="url(#bl2)"/>
<circle cx="209.3" cy="696.9" r="1.1" fill="#5060dc" filter="url(#bl2)"/>
<circle cx="159.7" cy="696.1" r="1" fill="#c8182f" fill-opacity="0.4" filter="url(#bl2)"/>
<circle cx="159.4" cy="696.5" r="1.3" fill="#5060dc" filter="url(#bl2)"/>
<circle cx="154.4" cy="702.4" r="2.2" fill="#c8182f" fill-opacity="0.8" filter="url(#bl2)"/>
<circle cx="154.1" cy="702.8" r="0.8" fill="#5060dc" filter="url(#bl2)"/>
<circle cx="165" cy="701.8" r="1" fill="#c8182f" fill-opacity="0.4" filter="url(#bl2)"/>
<circle cx="164.4" cy="701.5" r="1.2" fill="#5060dc" filter="url(#bl2)"/>
<circle cx="139.6" cy="709.4" r="1" fill="#c8182f" fill-opacity="0.4" filter="url(#bl2)"/>
<circle cx="139.2" cy="709.3" r="1.1" fill="#5060dc" filter="url(#bl2)"/>
<circle cx="183.6" cy="714" r="0.8" fill="#c8182f" fill-opacity="0.3" filter="url(#bl2)"/>
<circle cx="183.4" cy="713.9" r="0.9" fill="#5060dc" filter="url(#bl2)"/>
<circle cx="131" cy="683.5" r="1.2" fill="#c8182f" fill-opacity="0.5" filter="url(#bl2)"/>
<circle cx="131.4" cy="683.6" r="0.9" fill="#5060dc" filter="url(#bl2)"/>
<circle cx="205" cy="650" r="0.8" fill="#c8182f" fill-opacity="0.2" filter="url(#bl2)"/>
</g>
<text x="91.9" y="632" font-size="7.9" style="fill:#fff;stroke:#fff;stroke-width:.1" text-anchor="middle">100 µM</text>
<path d="M75.3 635.4H108.5" stroke="#fff" stroke-width="1"/>
<path d="M90.4 636.6h3" stroke="#ddd" stroke-width=".6"/>
<text x="189.5" y="632" font-size="7.9" style="fill:#fff;stroke:#fff;stroke-width:.1" text-anchor="middle">100 µM</text>
<path d="M173 635.4H206.3" stroke="#fff" stroke-width="1"/>
<path d="M188.2 636.6h3" stroke="#ddd" stroke-width=".6"/>
<text x="93.4" y="705.3" font-size="7.9" style="fill:#fff;stroke:#fff;stroke-width:.1" text-anchor="middle">100 µM</text>
<path d="M75.4 708.2H108.5" stroke="#fff" stroke-width="1"/>
<path d="M90.5 709.4h3" stroke="#ddd" stroke-width=".6"/>
<text x="187.8" y="705.4" font-size="7.9" style="fill:#fff;stroke:#fff;stroke-width:.1" text-anchor="middle">100 µM</text>
<path d="M173 708.6H206.3" stroke="#fff" stroke-width="1"/>
<path d="M188.2 709.8h3" stroke="#ddd" stroke-width=".6"/>
<text transform="translate(16.8 612.1) rotate(-90)" font-size="9.6" text-anchor="middle">NEG</text>
<text transform="translate(16.8 680.4) rotate(-90)" font-size="9.6" text-anchor="middle">GP6</text>
</svg>
</body></html>
